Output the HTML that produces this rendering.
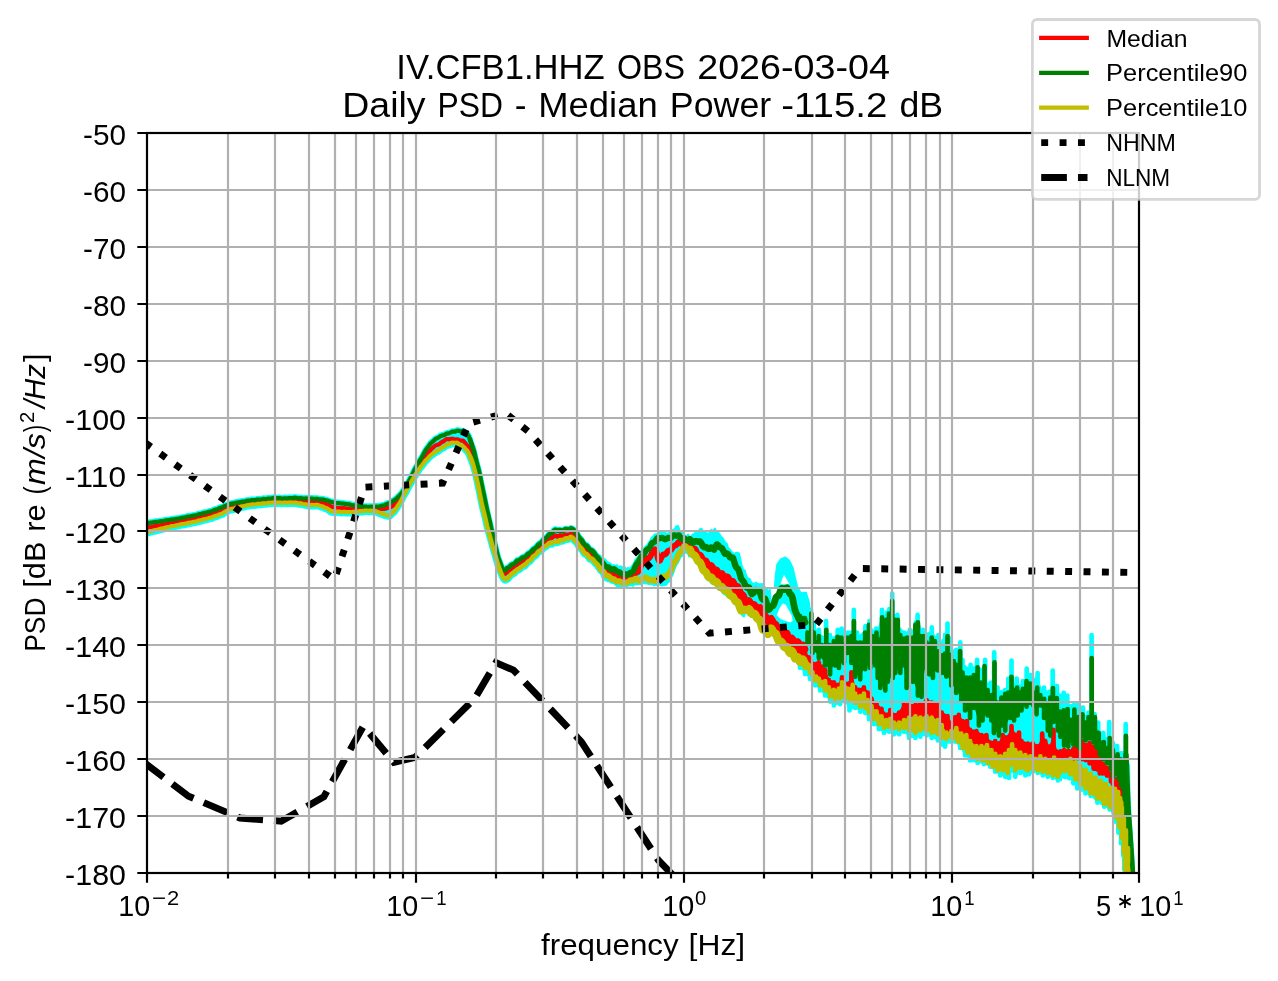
<!DOCTYPE html>
<html lang="en"><head><meta charset="utf-8"><title>IV.CFB1.HHZ OBS 2026-03-04 Daily PSD</title>
<style>html,body{margin:0;padding:0;background:#fff;width:1278px;height:981px;overflow:hidden;font-family:"Liberation Sans",sans-serif}</style>
</head><body>
<svg width="1278" height="981" viewBox="0 0 1278 981" style="position:absolute;left:0;top:0;display:block">
<defs><clipPath id="ax"><rect x="147" y="133" width="992" height="740"/></clipPath></defs>
<rect width="1278" height="981" fill="#fff"/>
<g clip-path="url(#ax)" fill="none" stroke-linejoin="round" stroke-linecap="round">
<path d="M147.0 522.8 L148.0 522.6 L149.0 522.4 L150.0 522.2 L151.0 522.2 L152.0 522.1 L153.0 521.9 L154.0 521.7 L155.0 521.4 L156.0 521.4 L157.0 521.3 L158.0 521.3 L159.0 521.0 L160.0 520.8 L161.0 520.7 L162.0 520.6 L163.0 520.5 L164.0 520.3 L165.0 520.1 L166.0 519.8 L167.0 519.8 L168.0 519.7 L169.0 519.6 L170.0 519.4 L171.0 519.1 L172.0 519.0 L173.0 518.9 L174.0 518.8 L175.0 518.6 L176.0 518.4 L177.0 518.3 L178.0 518.2 L179.0 518.1 L180.0 517.9 L181.0 517.6 L182.0 517.3 L183.0 517.2 L184.0 517.1 L185.0 516.9 L186.0 516.6 L187.0 516.3 L188.0 516.1 L189.0 516.0 L190.0 515.9 L191.0 515.7 L192.0 515.4 L193.0 515.2 L194.0 515.1 L195.0 514.9 L196.0 514.7 L197.0 514.4 L198.0 514.0 L199.0 513.8 L200.0 513.6 L201.0 513.4 L202.0 513.1 L203.0 512.7 L204.0 512.4 L205.0 512.3 L206.0 512.2 L207.0 511.9 L208.0 511.6 L209.0 511.2 L210.0 511.0 L211.0 510.8 L212.0 510.5 L213.0 510.1 L214.0 509.6 L215.0 509.3 L216.0 509.0 L217.0 508.8 L218.0 508.3 L219.0 507.8 L220.0 507.4 L221.0 507.1 L222.0 506.9 L223.0 506.5 L224.0 505.9 L225.0 505.4 L226.0 505.0 L227.0 504.6 L228.0 504.3 L229.0 503.8 L230.0 503.4 L231.0 503.2 L232.0 503.1 L233.0 502.9 L234.0 502.7 L235.0 502.4 L236.0 502.2 L237.0 502.0 L238.0 501.9 L239.0 501.8 L240.0 501.6 L241.0 501.3 L242.0 501.2 L243.0 501.1 L244.0 501.0 L245.0 500.8 L246.0 500.5 L247.0 500.2 L248.0 500.2 L249.0 500.1 L250.0 500.0 L251.0 499.8 L252.0 499.5 L253.0 499.5 L254.0 499.6 L255.0 499.6 L256.0 499.4 L257.0 499.1 L258.0 498.9 L259.0 499.0 L260.0 499.0 L261.0 498.9 L262.0 498.7 L263.0 498.4 L264.0 498.4 L265.0 498.5 L266.0 498.5 L267.0 498.3 L268.0 498.1 L269.0 498.0 L270.0 498.0 L271.0 498.0 L272.0 497.8 L273.0 497.6 L274.0 497.4 L275.0 497.6 L276.0 497.7 L277.0 497.8 L278.0 497.7 L279.0 497.6 L280.0 497.7 L281.0 497.9 L282.0 498.1 L283.0 498.0 L284.0 497.9 L285.0 497.8 L286.0 497.9 L287.0 497.9 L288.0 497.8 L289.0 497.6 L290.0 497.5 L291.0 497.5 L292.0 497.5 L293.0 497.5 L294.0 497.3 L295.0 497.2 L296.0 497.3 L297.0 497.5 L298.0 497.8 L299.0 497.8 L300.0 497.7 L301.0 497.7 L302.0 497.9 L303.0 498.1 L304.0 498.2 L305.0 498.0 L306.0 497.9 L307.0 498.0 L308.0 498.1 L309.0 498.3 L310.0 498.2 L311.0 498.1 L312.0 498.0 L313.0 498.2 L314.0 498.4 L315.0 498.4 L316.0 498.3 L317.0 498.3 L318.0 498.4 L319.0 498.7 L320.0 498.9 L321.0 498.9 L322.0 498.9 L323.0 499.0 L324.0 499.3 L325.0 499.6 L326.0 499.8 L327.0 500.0 L328.0 500.2 L329.0 500.7 L330.0 501.1 L331.0 501.4 L332.0 501.6 L333.0 501.8 L334.0 502.1 L335.0 502.4 L336.0 502.7 L337.0 502.6 L338.0 502.5 L339.0 502.5 L340.0 502.7 L341.0 503.0 L342.0 503.1 L343.0 503.1 L344.0 503.2 L345.0 503.4 L346.0 503.6 L347.0 503.7 L348.0 503.8 L349.0 503.8 L350.0 504.0 L351.0 504.4 L352.0 504.7 L353.0 504.8 L354.0 504.9 L355.0 505.0 L356.0 505.3 L357.0 505.5 L358.0 505.7 L359.0 505.6 L360.0 505.6 L361.0 505.8 L362.0 506.0 L363.0 506.2 L364.0 506.2 L365.0 506.2 L366.0 506.2 L367.0 506.3 L368.0 506.4 L369.0 506.4 L370.0 506.3 L371.0 506.2 L372.0 506.3 L373.0 506.4 L374.0 506.5 L375.0 506.3 L376.0 506.1 L377.0 506.0 L378.0 506.0 L379.0 506.0 L380.0 505.8 L381.0 505.4 L382.0 505.2 L383.0 505.1 L384.0 504.9 L385.0 504.5 L386.0 504.0 L387.0 503.4 L388.0 503.1 L389.0 502.9 L390.0 502.7 L391.0 502.0 L392.0 501.3 L393.0 500.5 L394.0 499.9 L395.0 499.3 L396.0 498.5 L397.0 497.5 L398.0 496.4 L399.0 495.4 L400.0 494.4 L401.0 493.3 L402.0 492.1 L403.0 490.6 L404.0 489.1 L405.0 487.5 L406.0 485.9 L407.0 484.2 L408.0 482.3 L409.0 480.3 L410.0 478.5 L411.0 476.7 L412.0 474.7 L413.0 472.5 L414.0 470.4 L415.0 468.5 L416.0 466.8 L417.0 465.2 L418.0 463.3 L419.0 461.4 L420.0 459.6 L421.0 458.0 L422.0 456.4 L423.0 454.6 L424.0 452.7 L425.0 450.8 L426.0 449.2 L427.0 447.8 L428.0 446.5 L429.0 445.1 L430.0 443.7 L431.0 442.6 L432.0 441.7 L433.0 440.9 L434.0 439.9 L435.0 439.0 L436.0 438.2 L437.0 437.8 L438.0 437.3 L439.0 436.7 L440.0 436.0 L441.0 435.4 L442.0 435.1 L443.0 434.9 L444.0 434.7 L445.0 434.1 L446.0 433.5 L447.0 433.1 L448.0 432.9 L449.0 432.8 L450.0 432.4 L451.0 431.9 L452.0 431.3 L453.0 431.2 L454.0 431.2 L455.0 431.2 L456.0 430.7 L457.0 430.3 L458.0 430.2 L459.0 430.4 L460.0 430.8 L461.0 430.8 L462.0 430.7 L463.0 430.7 L464.0 431.3 L465.0 432.1 L466.0 432.9 L467.0 433.7 L468.0 434.5 L469.0 436.3 L470.0 438.9 L471.0 442.1 L472.0 444.9 L473.0 447.7 L474.0 451.0 L475.0 455.0 L476.0 459.3 L477.0 463.3 L478.0 467.1 L479.0 471.0 L480.0 475.6 L481.0 480.6 L482.0 485.7 L483.0 490.4 L484.0 495.0 L485.0 499.9 L486.0 504.8 L487.0 509.5 L488.0 513.8 L489.0 518.0 L490.0 522.2 L491.0 526.9 L492.0 531.5 L493.0 535.8 L494.0 539.7 L495.0 543.7 L496.0 548.0 L497.0 552.4 L498.0 556.4 L499.0 559.4 L500.0 561.9 L501.0 564.5 L502.0 567.3 L503.0 569.3 L504.0 570.3 L505.0 569.7 L506.0 568.6 L507.0 567.7 L508.0 567.3 L509.0 566.8 L510.0 565.8 L511.0 564.7 L512.0 564.1 L513.0 563.8 L514.0 563.5 L515.0 562.6 L516.0 561.4 L517.0 560.3 L518.0 560.0 L519.0 559.7 L520.0 559.1 L521.0 558.3 L522.0 557.4 L523.0 556.9 L524.0 556.6 L525.0 556.3 L526.0 555.4 L527.0 554.4 L528.0 553.4 L529.0 552.9 L530.0 552.3 L531.0 551.4 L532.0 550.2 L533.0 549.1 L534.0 548.4 L535.0 547.8 L536.0 547.1 L537.0 545.8 L538.0 544.5 L539.0 543.6 L540.0 543.1 L541.0 542.5 L542.0 541.3 L543.0 540.0 L544.0 538.7 L545.0 538.1 L546.0 537.5 L547.0 536.7 L548.0 535.3 L549.0 534.1 L550.0 533.4 L551.0 533.0 L552.0 532.6 L553.0 531.4 L554.0 530.1 L555.0 529.3 L556.0 529.4 L557.0 529.8 L558.0 529.9 L559.0 529.8 L560.0 529.7 L561.0 530.1 L562.0 530.6 L563.0 530.6 L564.0 529.8 L565.0 529.0 L566.0 528.7 L567.0 529.0 L568.0 529.3 L569.0 529.0 L570.0 528.5 L571.0 528.1 L572.0 528.4 L573.0 529.1 L574.0 529.9 L575.0 530.8 L576.0 532.0 L577.0 533.5 L578.0 535.3 L579.0 537.0 L580.0 538.0 L581.0 539.0 L582.0 540.2 L583.0 541.9 L584.0 543.5 L585.0 544.4 L586.0 544.9 L587.0 545.4 L588.0 546.7 L589.0 548.1 L590.0 549.3 L591.0 549.7 L592.0 550.1 L593.0 550.9 L594.0 552.2 L595.0 553.9 L596.0 555.1 L597.0 556.3 L598.0 557.2 L599.0 558.7 L600.0 560.2 L601.0 561.3 L602.0 562.0 L603.0 562.7 L604.0 564.0 L605.0 565.4 L606.0 566.6 L607.0 566.6 L608.0 566.6 L609.0 567.0 L610.0 568.1 L611.0 569.0 L612.0 569.1 L613.0 568.8 L614.0 568.4 L615.0 569.1 L616.0 570.0 L617.0 571.0 L618.0 571.2 L619.0 571.4 L620.0 572.0 L621.0 573.0 L622.0 573.9 L623.0 573.9 L624.0 573.7 L625.0 573.4 L626.0 574.0 L627.0 574.3 L628.0 574.2 L629.0 573.4 L630.0 572.4 L631.0 571.9 L632.0 571.5 L633.0 570.9 L634.0 569.0 L635.0 566.7 L636.0 564.4 L637.0 562.9 L638.0 561.7 L639.0 560.1 L640.0 558.2 L641.0 556.4 L642.0 555.4 L643.0 554.5 L644.0 553.4 L645.0 551.7 L646.0 550.0 L647.0 549.0 L648.0 548.6 L649.0 548.1 L650.0 546.4 L651.0 544.3 L652.0 542.4 L653.0 542.0 L654.0 541.8 L655.0 541.0 L656.0 539.3 L657.0 537.7 L658.0 537.3 L659.0 537.5 L660.0 538.0 L661.0 537.4 L662.0 537.3 L663.0 537.6 L664.0 538.4 L665.0 539.0 L666.0 538.7 L667.0 538.0 L668.0 537.2 L669.0 537.4 L670.0 537.6 L671.0 537.5 L672.0 536.4 L673.0 535.2 L674.0 534.6 L675.0 534.9 L676.0 535.5 L677.0 535.2 L678.0 534.8 L679.0 534.7 L680.0 536.1 L681.0 537.8 L682.0 538.8 L683.0 538.5 L684.0 537.9 L685.0 538.2 L686.0 539.0 L687.0 540.0 L688.0 539.3 L689.0 538.7 L690.0 538.8 L691.0 540.3 L692.0 541.9 L693.0 542.3 L694.0 541.7 L695.0 540.7 L696.0 540.6 L697.0 540.8 L698.0 541.2 L699.0 540.9 L700.0 541.0 L701.0 542.0 L702.0 544.0 L703.0 546.0 L704.0 546.7 L705.0 546.7 L706.0 546.5 L707.0 547.4 L708.0 548.2 L709.0 548.4 L710.0 547.6 L711.0 546.9 L712.0 547.4 L713.0 548.5 L714.0 549.2 L715.0 547.4 L716.0 545.3 L717.0 543.8 L718.0 544.5 L719.0 545.8 L720.0 546.9 L721.0 547.3 L722.0 547.8 L723.0 549.7 L724.0 551.8 L725.0 553.4 L726.0 553.3 L727.0 552.9 L728.0 553.5 L729.0 555.1 L730.0 556.9 L731.0 557.1 L732.0 556.9 L733.0 557.4 L734.0 560.5 L735.0 564.0 L736.0 566.6 L737.0 567.6 L738.0 568.3 L739.0 570.7 L740.0 574.0 L741.0 577.9 L742.0 579.2 L743.0 580.6 L744.0 581.7 L745.0 584.3 L746.0 586.3 L747.0 587.3 L748.0 587.1 L749.0 586.9 L750.0 589.2 L751.0 591.5 L752.0 593.2 L753.0 592.5 L754.0 591.0 L755.0 590.0 L756.0 589.6 L757.0 590.4 L758.0 590.3 L759.0 590.8 L760.0 591.5 L761.0 594.7 L762.0 597.7 L763.0 599.0 L764.0 598.5 L765.0 598.4 L766.0 601.1 L767.0 605.2 L768.0 609.1 L769.0 608.9 L770.0 607.6 L771.0 605.9 L772.0 605.8 L773.0 605.3 L774.0 603.2 L775.0 600.0 L776.0 596.8 L777.0 596.0 L778.0 595.6 L779.0 594.5 L780.0 591.4 L781.0 588.7 L782.0 587.7 L783.0 588.2 L784.0 589.0 L785.0 588.4 L786.0 587.7 L787.0 587.3 L788.0 589.1 L789.0 591.5 L790.0 593.3 L791.0 594.1 L792.0 595.7 L793.0 599.8 L794.0 604.8 L795.0 609.6 L796.0 612.1 L797.0 614.3 L798.0 616.2 L799.0 618.6 L800.0 620.3 L801.0 620.5 L802.0 619.7 L803.0 618.8 L804.0 620.2 L805.0 621.8 L805.0 649.1 L804.0 647.1 L803.0 645.0 L802.0 645.2 L801.0 645.5 L800.0 645.0 L799.0 643.3 L798.0 641.7 L797.0 641.9 L796.0 642.7 L795.0 643.5 L794.0 641.5 L793.0 639.4 L792.0 638.2 L791.0 639.1 L790.0 639.8 L789.0 638.5 L788.0 635.8 L787.0 633.2 L786.0 633.5 L785.0 634.4 L784.0 634.8 L783.0 632.6 L782.0 630.4 L781.0 629.9 L780.0 630.8 L779.0 631.6 L778.0 629.8 L777.0 627.2 L776.0 624.6 L775.0 623.9 L774.0 623.1 L773.0 621.8 L772.0 619.7 L771.0 618.4 L770.0 619.1 L769.0 620.6 L768.0 621.8 L767.0 619.7 L766.0 617.1 L765.0 615.1 L764.0 615.0 L763.0 614.8 L762.0 612.9 L761.0 610.0 L760.0 607.4 L759.0 607.8 L758.0 608.7 L757.0 609.1 L756.0 607.2 L755.0 605.3 L754.0 604.5 L753.0 604.7 L752.0 604.8 L751.0 603.6 L750.0 601.9 L749.0 600.4 L748.0 601.1 L747.0 601.7 L746.0 601.4 L745.0 599.0 L744.0 596.3 L743.0 594.7 L742.0 594.1 L741.0 593.4 L740.0 590.8 L739.0 588.2 L738.0 586.4 L737.0 586.2 L736.0 586.1 L735.0 585.0 L734.0 583.1 L733.0 581.2 L732.0 581.1 L731.0 581.2 L730.0 580.9 L729.0 578.8 L728.0 577.0 L727.0 576.5 L726.0 577.2 L725.0 577.8 L724.0 576.6 L723.0 574.9 L722.0 573.3 L721.0 573.5 L720.0 573.7 L719.0 573.2 L718.0 571.7 L717.0 570.1 L716.0 569.6 L715.0 569.6 L714.0 569.7 L713.0 567.9 L712.0 566.2 L711.0 565.1 L710.0 565.2 L709.0 565.4 L708.0 564.4 L707.0 562.7 L706.0 560.9 L705.0 560.6 L704.0 560.4 L703.0 559.7 L702.0 557.7 L701.0 555.9 L700.0 555.0 L699.0 554.9 L698.0 554.7 L697.0 553.0 L696.0 550.8 L695.0 548.9 L694.0 548.9 L693.0 549.2 L692.0 549.0 L691.0 547.8 L690.0 546.4 L689.0 545.9 L688.0 549.0 L687.0 548.9 L686.0 547.4 L685.0 546.7 L684.0 546.9 L683.0 548.8 L682.0 551.0 L681.0 552.5 L680.0 553.3 L679.0 554.1 L678.0 556.5 L677.0 558.9 L676.0 561.1 L675.0 562.2 L674.0 563.4 L673.0 565.4 L672.0 568.2 L671.0 571.1 L670.0 573.1 L669.0 574.3 L668.0 575.1 L667.0 576.5 L666.0 577.9 L665.0 578.4 L664.0 577.9 L663.0 577.3 L662.0 577.8 L661.0 578.8 L660.0 579.8 L659.0 579.7 L658.0 579.6 L657.0 579.9 L656.0 581.0 L655.0 581.8 L654.0 581.8 L653.0 581.0 L652.0 580.3 L651.0 580.8 L650.0 581.2 L649.0 581.1 L648.0 579.9 L647.0 578.8 L646.0 578.1 L645.0 578.4 L644.0 579.1 L643.0 579.5 L642.0 579.7 L641.0 580.0 L640.0 580.9 L639.0 581.5 L638.0 581.2 L637.0 580.3 L636.0 579.4 L635.0 579.6 L634.0 580.4 L633.0 581.4 L632.0 581.2 L631.0 581.0 L630.0 581.2 L629.0 582.0 L628.0 582.8 L627.0 583.3 L626.0 583.4 L625.0 583.3 L624.0 583.5 L623.0 583.6 L622.0 583.5 L621.0 582.8 L620.0 582.1 L619.0 581.9 L618.0 582.1 L617.0 582.4 L616.0 581.8 L615.0 580.9 L614.0 579.9 L613.0 580.0 L612.0 579.9 L611.0 579.5 L610.0 578.3 L609.0 577.1 L608.0 576.6 L607.0 576.5 L606.0 576.3 L605.0 575.0 L604.0 573.5 L603.0 572.1 L602.0 571.3 L601.0 570.5 L600.0 569.3 L599.0 567.6 L598.0 566.0 L597.0 565.0 L596.0 564.1 L595.0 563.2 L594.0 561.8 L593.0 560.5 L592.0 559.7 L591.0 559.4 L590.0 559.2 L589.0 558.0 L588.0 556.6 L587.0 555.3 L586.0 554.8 L585.0 554.3 L584.0 553.4 L583.0 551.8 L582.0 550.1 L581.0 548.8 L580.0 547.9 L579.0 546.9 L578.0 545.2 L577.0 543.6 L576.0 542.2 L575.0 541.3 L574.0 540.3 L573.0 539.2 L572.0 538.3 L571.0 537.9 L570.0 538.4 L569.0 539.0 L568.0 539.4 L567.0 539.4 L566.0 539.4 L565.0 539.7 L564.0 540.4 L563.0 541.0 L562.0 541.1 L561.0 541.1 L560.0 541.1 L559.0 541.7 L558.0 542.4 L557.0 542.7 L556.0 542.5 L555.0 542.3 L554.0 542.7 L553.0 543.4 L552.0 544.1 L551.0 543.9 L550.0 543.7 L549.0 544.0 L548.0 544.9 L547.0 545.9 L546.0 546.7 L545.0 547.2 L544.0 547.7 L543.0 548.8 L542.0 549.9 L541.0 550.9 L540.0 551.4 L539.0 551.8 L538.0 552.7 L537.0 554.1 L536.0 555.4 L535.0 556.2 L534.0 556.8 L533.0 557.5 L532.0 558.9 L531.0 560.2 L530.0 561.3 L529.0 561.9 L528.0 562.4 L527.0 563.5 L526.0 564.8 L525.0 565.9 L524.0 566.3 L523.0 566.6 L522.0 567.2 L521.0 568.1 L520.0 569.1 L519.0 569.7 L518.0 570.0 L517.0 570.4 L516.0 571.4 L515.0 572.6 L514.0 573.5 L513.0 573.9 L512.0 574.4 L511.0 575.2 L510.0 576.4 L509.0 577.7 L508.0 578.6 L507.0 579.5 L506.0 579.9 L505.0 580.1 L504.0 579.4 L503.0 578.1 L502.0 576.1 L501.0 573.7 L500.0 570.9 L499.0 568.2 L498.0 565.4 L497.0 562.1 L496.0 558.6 L495.0 555.2 L494.0 551.9 L493.0 548.7 L492.0 545.1 L491.0 541.4 L490.0 537.6 L489.0 534.2 L488.0 530.6 L487.0 526.8 L486.0 522.3 L485.0 517.9 L484.0 513.8 L483.0 509.9 L482.0 505.9 L481.0 501.1 L480.0 495.9 L479.0 490.7 L478.0 486.1 L477.0 481.5 L476.0 477.0 L475.0 472.6 L474.0 468.6 L473.0 465.1 L472.0 462.1 L471.0 459.6 L470.0 457.2 L469.0 454.7 L468.0 452.7 L467.0 451.4 L466.0 450.4 L465.0 449.2 L464.0 448.0 L463.0 447.0 L462.0 446.6 L461.0 446.2 L460.0 445.7 L459.0 444.8 L458.0 443.9 L457.0 443.5 L456.0 443.6 L455.0 443.8 L454.0 443.6 L453.0 443.4 L452.0 443.4 L451.0 443.9 L450.0 444.6 L449.0 445.0 L448.0 445.2 L447.0 445.3 L446.0 445.9 L445.0 446.7 L444.0 447.6 L443.0 448.0 L442.0 448.4 L441.0 449.0 L440.0 449.8 L439.0 450.7 L438.0 451.3 L437.0 451.7 L436.0 452.2 L435.0 452.9 L434.0 453.7 L433.0 454.5 L432.0 455.1 L431.0 455.8 L430.0 456.7 L429.0 457.8 L428.0 459.0 L427.0 460.0 L426.0 460.9 L425.0 462.0 L424.0 463.4 L423.0 464.8 L422.0 466.1 L421.0 467.2 L420.0 468.4 L419.0 469.9 L418.0 471.5 L417.0 473.1 L416.0 474.5 L415.0 476.0 L414.0 477.7 L413.0 479.5 L412.0 481.4 L411.0 483.2 L410.0 484.8 L409.0 486.5 L408.0 488.4 L407.0 490.3 L406.0 492.3 L405.0 493.9 L404.0 495.6 L403.0 497.5 L402.0 499.5 L401.0 501.5 L400.0 503.2 L399.0 504.8 L398.0 506.2 L397.0 507.9 L396.0 509.6 L395.0 511.0 L394.0 512.1 L393.0 512.9 L392.0 513.8 L391.0 514.8 L390.0 515.8 L389.0 516.2 L388.0 516.2 L387.0 515.9 L386.0 515.7 L385.0 515.6 L384.0 515.2 L383.0 514.8 L382.0 514.3 L381.0 514.0 L380.0 513.7 L379.0 513.4 L378.0 512.9 L377.0 512.4 L376.0 512.0 L375.0 511.9 L374.0 512.0 L373.0 511.8 L372.0 511.6 L371.0 511.4 L370.0 511.5 L369.0 511.6 L368.0 511.6 L367.0 511.4 L366.0 511.3 L365.0 511.4 L364.0 511.6 L363.0 511.9 L362.0 511.9 L361.0 511.9 L360.0 511.9 L359.0 512.2 L358.0 512.4 L357.0 512.5 L356.0 512.4 L355.0 512.3 L354.0 512.5 L353.0 512.7 L352.0 512.9 L351.0 512.8 L350.0 512.8 L349.0 512.8 L348.0 512.9 L347.0 513.0 L346.0 512.9 L345.0 512.7 L344.0 512.6 L343.0 512.7 L342.0 512.8 L341.0 512.8 L340.0 512.6 L339.0 512.4 L338.0 512.4 L337.0 512.4 L336.0 512.5 L335.0 512.4 L334.0 512.3 L333.0 512.3 L332.0 512.2 L331.0 511.9 L330.0 511.3 L329.0 510.5 L328.0 509.8 L327.0 509.3 L326.0 508.8 L325.0 508.4 L324.0 507.9 L323.0 507.4 L322.0 507.1 L321.0 506.9 L320.0 506.6 L319.0 506.2 L318.0 505.8 L317.0 505.6 L316.0 505.6 L315.0 505.8 L314.0 505.8 L313.0 505.8 L312.0 505.7 L311.0 505.8 L310.0 506.0 L309.0 506.1 L308.0 505.8 L307.0 505.4 L306.0 505.2 L305.0 505.1 L304.0 505.0 L303.0 504.8 L302.0 504.5 L301.0 504.2 L300.0 504.2 L299.0 504.1 L298.0 504.1 L297.0 503.8 L296.0 503.5 L295.0 503.4 L294.0 503.4 L293.0 503.5 L292.0 503.4 L291.0 503.3 L290.0 503.2 L289.0 503.4 L288.0 503.6 L287.0 503.6 L286.0 503.5 L285.0 503.4 L284.0 503.5 L283.0 503.6 L282.0 503.7 L281.0 503.5 L280.0 503.4 L279.0 503.3 L278.0 503.4 L277.0 503.5 L276.0 503.5 L275.0 503.3 L274.0 503.2 L273.0 503.4 L272.0 503.5 L271.0 503.7 L270.0 503.6 L269.0 503.6 L268.0 503.7 L267.0 504.0 L266.0 504.2 L265.0 504.2 L264.0 504.2 L263.0 504.2 L262.0 504.4 L261.0 504.6 L260.0 504.7 L259.0 504.7 L258.0 504.7 L257.0 504.9 L256.0 505.1 L255.0 505.4 L254.0 505.3 L253.0 505.2 L252.0 505.2 L251.0 505.5 L250.0 505.7 L249.0 505.9 L248.0 506.0 L247.0 506.1 L246.0 506.4 L245.0 506.7 L244.0 507.0 L243.0 507.1 L242.0 507.2 L241.0 507.4 L240.0 507.7 L239.0 508.0 L238.0 508.2 L237.0 508.3 L236.0 508.4 L235.0 508.9 L234.0 509.3 L233.0 509.6 L232.0 509.7 L231.0 509.8 L230.0 510.1 L229.0 510.5 L228.0 511.0 L227.0 511.5 L226.0 511.9 L225.0 512.5 L224.0 513.2 L223.0 513.9 L222.0 514.4 L221.0 514.8 L220.0 515.0 L219.0 515.5 L218.0 516.0 L217.0 516.4 L216.0 516.6 L215.0 516.8 L214.0 517.2 L213.0 517.7 L212.0 518.2 L211.0 518.4 L210.0 518.6 L209.0 518.8 L208.0 519.2 L207.0 519.5 L206.0 519.8 L205.0 520.0 L204.0 520.1 L203.0 520.4 L202.0 520.7 L201.0 521.1 L200.0 521.2 L199.0 521.4 L198.0 521.5 L197.0 521.9 L196.0 522.3 L195.0 522.5 L194.0 522.6 L193.0 522.7 L192.0 523.0 L191.0 523.3 L190.0 523.5 L189.0 523.6 L188.0 523.7 L187.0 524.0 L186.0 524.3 L185.0 524.6 L184.0 524.7 L183.0 524.8 L182.0 524.8 L181.0 525.1 L180.0 525.4 L179.0 525.7 L178.0 525.8 L177.0 526.0 L176.0 526.2 L175.0 526.5 L174.0 526.8 L173.0 526.9 L172.0 527.0 L171.0 527.1 L170.0 527.5 L169.0 527.8 L168.0 528.0 L167.0 528.1 L166.0 528.2 L165.0 528.5 L164.0 528.8 L163.0 529.1 L162.0 529.3 L161.0 529.4 L160.0 529.7 L159.0 530.1 L158.0 530.4 L157.0 530.6 L156.0 530.8 L155.0 530.9 L154.0 531.3 L153.0 531.6 L152.0 531.9 L151.0 532.0 L150.0 532.1 L149.0 532.4 L148.0 532.8 L147.0 533.0 Z" fill="#00ffff" stroke="none"/>
<path d="M147.0 522.5 L148.0 522.3 L149.0 522.1 L150.0 521.9 L151.0 521.9 L152.0 521.8 L153.0 521.6 L154.0 521.4 L155.0 521.1 L156.0 521.1 L157.0 521.0 L158.0 521.0 L159.0 520.7 L160.0 520.5 L161.0 520.4 L162.0 520.3 L163.0 520.2 L164.0 520.0 L165.0 519.8 L166.0 519.5 L167.0 519.5 L168.0 519.4 L169.0 519.3 L170.0 519.1 L171.0 518.8 L172.0 518.7 L173.0 518.6 L174.0 518.5 L175.0 518.3 L176.0 518.1 L177.0 518.0 L178.0 517.9 L179.0 517.8 L180.0 517.6 L181.0 517.3 L182.0 517.0 L183.0 516.9 L184.0 516.8 L185.0 516.6 L186.0 516.3 L187.0 516.0 L188.0 515.8 L189.0 515.7 L190.0 515.6 L191.0 515.4 L192.0 515.1 L193.0 514.9 L194.0 514.8 L195.0 514.6 L196.0 514.4 L197.0 514.1 L198.0 513.7 L199.0 513.5 L200.0 513.3 L201.0 513.1 L202.0 512.8 L203.0 512.4 L204.0 512.1 L205.0 512.0 L206.0 511.9 L207.0 511.6 L208.0 511.3 L209.0 510.9 L210.0 510.7 L211.0 510.5 L212.0 510.2 L213.0 509.8 L214.0 509.3 L215.0 509.0 L216.0 508.7 L217.0 508.5 L218.0 508.0 L219.0 507.5 L220.0 507.1 L221.0 506.8 L222.0 506.6 L223.0 506.2 L224.0 505.6 L225.0 505.1 L226.0 504.7 L227.0 504.3 L228.0 504.0 L229.0 503.5 L230.0 503.1 L231.0 502.9 L232.0 502.8 L233.0 502.6 L234.0 502.4 L235.0 502.1 L236.0 501.9 L237.0 501.7 L238.0 501.6 L239.0 501.5 L240.0 501.3 L241.0 501.0 L242.0 500.9 L243.0 500.8 L244.0 500.7 L245.0 500.5 L246.0 500.2 L247.0 499.9 L248.0 499.9 L249.0 499.8 L250.0 499.7 L251.0 499.5 L252.0 499.2 L253.0 499.2 L254.0 499.3 L255.0 499.3 L256.0 499.1 L257.0 498.8 L258.0 498.6 L259.0 498.7 L260.0 498.7 L261.0 498.6 L262.0 498.4 L263.0 498.1 L264.0 498.1 L265.0 498.2 L266.0 498.2 L267.0 498.0 L268.0 497.8 L269.0 497.7 L270.0 497.7 L271.0 497.7 L272.0 497.5 L273.0 497.3 L274.0 497.1 L275.0 497.3 L276.0 497.4 L277.0 497.5 L278.0 497.4 L279.0 497.3 L280.0 497.4 L281.0 497.6 L282.0 497.8 L283.0 497.7 L284.0 497.6 L285.0 497.5 L286.0 497.6 L287.0 497.6 L288.0 497.5 L289.0 497.3 L290.0 497.2 L291.0 497.2 L292.0 497.2 L293.0 497.2 L294.0 497.0 L295.0 496.9 L296.0 497.0 L297.0 497.2 L298.0 497.5 L299.0 497.5 L300.0 497.4 L301.0 497.4 L302.0 497.6 L303.0 497.8 L304.0 497.9 L305.0 497.7 L306.0 497.6 L307.0 497.7 L308.0 497.8 L309.0 498.0 L310.0 497.9 L311.0 497.8 L312.0 497.7 L313.0 497.9 L314.0 498.1 L315.0 498.1 L316.0 498.0 L317.0 498.0 L318.0 498.1 L319.0 498.4 L320.0 498.6 L321.0 498.6 L322.0 498.6 L323.0 498.7 L324.0 499.0 L325.0 499.3 L326.0 499.5 L327.0 499.7 L328.0 499.9 L329.0 500.4 L330.0 500.8 L331.0 501.1 L332.0 501.3 L333.0 501.5 L334.0 501.8 L335.0 502.1 L336.0 502.4 L337.0 502.3 L338.0 502.2 L339.0 502.2 L340.0 502.4 L341.0 502.7 L342.0 502.8 L343.0 502.8 L344.0 502.9 L345.0 503.1 L346.0 503.3 L347.0 503.4 L348.0 503.5 L349.0 503.5 L350.0 503.7 L351.0 504.1 L352.0 504.4 L353.0 504.5 L354.0 504.6 L355.0 504.7 L356.0 505.0 L357.0 505.2 L358.0 505.4 L359.0 505.3 L360.0 505.3 L361.0 505.5 L362.0 505.7 L363.0 505.9 L364.0 505.9 L365.0 505.9 L366.0 505.9 L367.0 506.0 L368.0 506.1 L369.0 506.1 L370.0 506.0 L371.0 505.9 L372.0 506.0 L373.0 506.1 L374.0 506.2 L375.0 506.0 L376.0 505.8 L377.0 505.7 L378.0 505.7 L379.0 505.7 L380.0 505.5 L381.0 505.1 L382.0 504.9 L383.0 504.8 L384.0 504.6 L385.0 504.2 L386.0 503.7 L387.0 503.1 L388.0 502.8 L389.0 502.6 L390.0 502.4 L391.0 501.7 L392.0 501.0 L393.0 500.2 L394.0 499.6 L395.0 499.0 L396.0 498.2 L397.0 497.2 L398.0 496.1 L399.0 495.1 L400.0 494.1 L401.0 493.0 L402.0 491.8 L403.0 490.3 L404.0 488.8 L405.0 487.2 L406.0 485.6 L407.0 483.9 L408.0 482.0 L409.0 480.0 L410.0 478.2 L411.0 476.4 L412.0 474.4 L413.0 472.2 L414.0 470.1 L415.0 468.2 L416.0 466.5 L417.0 464.9 L418.0 463.0 L419.0 461.1 L420.0 459.3 L421.0 457.7 L422.0 456.1 L423.0 454.3 L424.0 452.4 L425.0 450.5 L426.0 448.9 L427.0 447.5 L428.0 446.2 L429.0 444.8 L430.0 443.4 L431.0 442.3 L432.0 441.4 L433.0 440.6 L434.0 439.6 L435.0 438.7 L436.0 437.9 L437.0 437.5 L438.0 437.0 L439.0 436.4 L440.0 435.7 L441.0 435.1 L442.0 434.8 L443.0 434.6 L444.0 434.4 L445.0 433.8 L446.0 433.2 L447.0 432.8 L448.0 432.6 L449.0 432.5 L450.0 432.1 L451.0 431.6 L452.0 431.0 L453.0 430.9 L454.0 430.9 L455.0 430.9 L456.0 430.4 L457.0 430.0 L458.0 429.9 L459.0 430.1 L460.0 430.5 L461.0 430.5 L462.0 430.4 L463.0 430.4 L464.0 431.0 L465.0 431.8 L466.0 432.6 L467.0 433.4 L468.0 434.2 L469.0 436.0 L470.0 438.6 L471.0 441.8 L472.0 444.6 L473.0 447.4 L474.0 450.7 L475.0 454.7 L476.0 459.0 L477.0 463.0 L478.0 466.8 L479.0 470.7 L480.0 475.3 L481.0 480.3 L482.0 485.4 L483.0 490.1 L484.0 494.7 L485.0 499.6 L486.0 504.5 L487.0 509.2 L488.0 513.5 L489.0 517.7 L490.0 521.9 L491.0 526.6 L492.0 531.2 L493.0 535.5 L494.0 539.4 L495.0 543.4 L496.0 547.7 L497.0 552.1 L498.0 556.1 L499.0 559.1 L500.0 561.6 L501.0 564.2 L502.0 567.0 L503.0 569.0 L504.0 570.0 L505.0 569.4 L506.0 568.3 L507.0 567.4 L508.0 567.0 L509.0 566.5 L510.0 565.5 L511.0 564.4 L512.0 563.8 L513.0 563.5 L514.0 563.2 L515.0 562.3 L516.0 561.1 L517.0 560.0 L518.0 559.7 L519.0 559.4 L520.0 558.8 L521.0 558.0 L522.0 557.1 L523.0 556.6 L524.0 556.3 L525.0 556.0 L526.0 555.1 L527.0 554.1 L528.0 553.1 L529.0 552.6 L530.0 552.0 L531.0 551.1 L532.0 549.9 L533.0 548.8 L534.0 548.1 L535.0 547.5 L536.0 546.8 L537.0 545.5 L538.0 544.2 L539.0 543.3 L540.0 542.8 L541.0 542.2 L542.0 541.0 L543.0 539.7 L544.0 538.4 L545.0 537.8 L546.0 537.2 L547.0 536.4 L548.0 535.0 L549.0 533.8 L550.0 533.1 L551.0 532.7 L552.0 532.3 L553.0 531.1 L554.0 529.8 L555.0 529.0 L556.0 529.1 L557.0 529.5 L558.0 529.6 L559.0 529.5 L560.0 529.4 L561.0 529.8 L562.0 530.3 L563.0 530.3 L564.0 529.5 L565.0 528.7 L566.0 528.4 L567.0 528.7 L568.0 529.0 L569.0 528.7 L570.0 528.2 L571.0 527.8 L572.0 528.1 L573.0 528.8 L574.0 529.6 L575.0 530.5 L576.0 531.7 L577.0 533.2 L578.0 535.0 L579.0 536.7 L580.0 537.7 L581.0 538.7 L582.0 539.9 L583.0 541.6 L584.0 543.2 L585.0 544.1 L586.0 544.6 L587.0 545.1 L588.0 546.4 L589.0 547.8 L590.0 549.0 L591.0 549.4 L592.0 549.8 L593.0 550.6 L594.0 551.9 L595.0 553.6 L596.0 554.8 L597.0 556.0 L598.0 556.9 L599.0 558.4 L600.0 559.9 L601.0 561.0 L602.0 561.7 L603.0 562.4 L604.0 563.7 L605.0 565.1 L606.0 566.3 L607.0 566.3 L608.0 566.3 L609.0 566.7 L610.0 567.8 L611.0 568.7 L612.0 568.8 L613.0 568.5 L614.0 568.1 L615.0 568.8 L616.0 569.7 L617.0 570.7 L618.0 570.9 L619.0 571.1 L620.0 571.7 L621.0 572.7 L622.0 573.6 L623.0 573.6 L624.0 573.4 L625.0 573.1 L626.0 573.7 L627.0 574.0 L628.0 573.9 L629.0 573.1 L630.0 572.1 L631.0 571.6 L632.0 571.2 L633.0 570.6 L634.0 568.7 L635.0 566.4 L636.0 564.1 L637.0 562.6 L638.0 561.4 L639.0 559.8 L640.0 557.9 L641.0 556.1 L642.0 555.1 L643.0 554.2 L644.0 553.1 L645.0 551.4 L646.0 549.7 L647.0 548.7 L648.0 548.3 L649.0 547.8 L650.0 546.1 L651.0 544.0 L652.0 542.1 L653.0 541.7 L654.0 541.5 L655.0 540.7 L656.0 539.0 L657.0 537.4 L658.0 537.0 L659.0 537.2 L660.0 537.7 L661.0 537.1 L662.0 537.0 L663.0 537.3 L664.0 538.1 L665.0 538.7 L666.0 538.4 L667.0 537.7 L668.0 536.9 L669.0 537.1 L670.0 537.3 L671.0 537.2 L672.0 536.1 L673.0 534.9 L674.0 534.3 L675.0 534.6 L676.0 535.2 L677.0 534.9 L678.0 534.5 L679.0 534.4 L680.0 535.8 L681.0 537.5 L682.0 538.5 L683.0 538.2 L684.0 537.6 L685.0 537.9 L686.0 538.7 L687.0 539.7 L688.0 539.0 L689.0 538.4 L690.0 538.5 L691.0 540.0 L692.0 541.6 L693.0 542.0 L694.0 541.4 L695.0 540.4 L696.0 540.3 L697.0 540.5 L698.0 540.9 L699.0 540.6 L700.0 540.7 L701.0 541.7 L702.0 543.7 L703.0 545.7 L704.0 546.4 L705.0 546.4 L706.0 546.2 L707.0 547.1 L708.0 547.9 L709.0 548.1 L710.0 547.3 L711.0 546.6 L712.0 547.1 L713.0 548.2 L714.0 548.9 L715.0 547.1 L716.0 545.0 L717.0 543.5 L718.0 544.2 L719.0 545.5 L720.0 546.6 L721.0 547.0 L722.0 547.5 L723.0 549.4 L724.0 551.5 L725.0 553.1 L726.0 553.0 L727.0 552.6 L728.0 553.2 L729.0 554.8 L730.0 556.6 L731.0 556.8 L732.0 556.6 L733.0 557.1 L734.0 560.2 L735.0 563.7 L736.0 566.3 L737.0 567.3 L738.0 568.0 L739.0 570.4 L740.0 573.7 L741.0 577.6 L742.0 578.9 L743.0 580.3 L744.0 581.4 L745.0 584.0 L746.0 586.0 L747.0 587.0 L748.0 586.8 L749.0 586.6 L750.0 588.9 L751.0 591.2 L752.0 592.9 L753.0 592.2 L754.0 590.7 L755.0 589.7 L756.0 589.3 L757.0 590.1 L758.0 590.0 L759.0 590.5 L760.0 591.2 L761.0 594.4 L762.0 597.4 L763.0 598.7 L764.0 598.2 L765.0 598.1 L766.0 600.8 L767.0 604.9 L768.0 608.8 L769.0 608.6 L770.0 607.3 L771.0 605.6 L772.0 605.5 L773.0 605.0 L774.0 602.9 L775.0 599.7 L776.0 596.5 L777.0 595.7 L778.0 595.3 L779.0 594.2 L780.0 591.1 L781.0 588.4 L782.0 587.4 L783.0 587.9 L784.0 588.7 L785.0 588.1 L786.0 587.4 L787.0 587.0 L788.0 588.8 L789.0 591.2 L790.0 593.0 L791.0 593.8 L792.0 595.4 L793.0 599.5 L794.0 604.5 L795.0 609.3 L796.0 611.8 L797.0 614.0 L798.0 615.9 L799.0 618.3 L800.0 620.0 L801.0 620.2 L802.0 619.4 L803.0 618.5 L804.0 619.9 L805.0 621.5" stroke="#00ffff" stroke-width="5.5"/>
<path d="M147.0 533.4 L148.0 533.2 L149.0 532.8 L150.0 532.5 L151.0 532.4 L152.0 532.3 L153.0 532.0 L154.0 531.7 L155.0 531.3 L156.0 531.2 L157.0 531.0 L158.0 530.8 L159.0 530.5 L160.0 530.1 L161.0 529.8 L162.0 529.7 L163.0 529.5 L164.0 529.2 L165.0 528.9 L166.0 528.6 L167.0 528.5 L168.0 528.4 L169.0 528.2 L170.0 527.9 L171.0 527.5 L172.0 527.4 L173.0 527.3 L174.0 527.2 L175.0 526.9 L176.0 526.6 L177.0 526.4 L178.0 526.2 L179.0 526.1 L180.0 525.8 L181.0 525.5 L182.0 525.2 L183.0 525.2 L184.0 525.1 L185.0 525.0 L186.0 524.7 L187.0 524.4 L188.0 524.1 L189.0 524.0 L190.0 523.9 L191.0 523.7 L192.0 523.4 L193.0 523.1 L194.0 523.0 L195.0 522.9 L196.0 522.7 L197.0 522.3 L198.0 521.9 L199.0 521.8 L200.0 521.6 L201.0 521.5 L202.0 521.1 L203.0 520.8 L204.0 520.5 L205.0 520.4 L206.0 520.2 L207.0 519.9 L208.0 519.6 L209.0 519.2 L210.0 519.0 L211.0 518.8 L212.0 518.6 L213.0 518.1 L214.0 517.6 L215.0 517.2 L216.0 517.0 L217.0 516.8 L218.0 516.4 L219.0 515.9 L220.0 515.4 L221.0 515.2 L222.0 514.8 L223.0 514.3 L224.0 513.6 L225.0 512.9 L226.0 512.3 L227.0 511.9 L228.0 511.4 L229.0 510.9 L230.0 510.5 L231.0 510.2 L232.0 510.1 L233.0 510.0 L234.0 509.7 L235.0 509.3 L236.0 508.8 L237.0 508.7 L238.0 508.6 L239.0 508.4 L240.0 508.1 L241.0 507.8 L242.0 507.6 L243.0 507.5 L244.0 507.4 L245.0 507.1 L246.0 506.8 L247.0 506.5 L248.0 506.4 L249.0 506.3 L250.0 506.1 L251.0 505.9 L252.0 505.6 L253.0 505.6 L254.0 505.7 L255.0 505.8 L256.0 505.5 L257.0 505.3 L258.0 505.1 L259.0 505.1 L260.0 505.1 L261.0 505.0 L262.0 504.8 L263.0 504.6 L264.0 504.6 L265.0 504.6 L266.0 504.6 L267.0 504.4 L268.0 504.1 L269.0 504.0 L270.0 504.0 L271.0 504.1 L272.0 503.9 L273.0 503.8 L274.0 503.6 L275.0 503.7 L276.0 503.9 L277.0 503.9 L278.0 503.8 L279.0 503.7 L280.0 503.8 L281.0 503.9 L282.0 504.1 L283.0 504.0 L284.0 503.9 L285.0 503.8 L286.0 503.9 L287.0 504.0 L288.0 504.0 L289.0 503.8 L290.0 503.6 L291.0 503.7 L292.0 503.8 L293.0 503.9 L294.0 503.8 L295.0 503.8 L296.0 503.9 L297.0 504.2 L298.0 504.5 L299.0 504.5 L300.0 504.6 L301.0 504.6 L302.0 504.9 L303.0 505.2 L304.0 505.4 L305.0 505.5 L306.0 505.6 L307.0 505.8 L308.0 506.2 L309.0 506.5 L310.0 506.4 L311.0 506.2 L312.0 506.1 L313.0 506.2 L314.0 506.2 L315.0 506.2 L316.0 506.0 L317.0 506.0 L318.0 506.2 L319.0 506.6 L320.0 507.0 L321.0 507.3 L322.0 507.5 L323.0 507.8 L324.0 508.3 L325.0 508.8 L326.0 509.2 L327.0 509.7 L328.0 510.2 L329.0 510.9 L330.0 511.7 L331.0 512.3 L332.0 512.6 L333.0 512.7 L334.0 512.7 L335.0 512.8 L336.0 512.9 L337.0 512.8 L338.0 512.8 L339.0 512.8 L340.0 513.0 L341.0 513.2 L342.0 513.2 L343.0 513.1 L344.0 513.0 L345.0 513.1 L346.0 513.3 L347.0 513.4 L348.0 513.3 L349.0 513.2 L350.0 513.2 L351.0 513.2 L352.0 513.3 L353.0 513.1 L354.0 512.9 L355.0 512.7 L356.0 512.8 L357.0 512.9 L358.0 512.8 L359.0 512.6 L360.0 512.3 L361.0 512.3 L362.0 512.3 L363.0 512.3 L364.0 512.0 L365.0 511.8 L366.0 511.7 L367.0 511.8 L368.0 512.0 L369.0 512.0 L370.0 511.9 L371.0 511.8 L372.0 512.0 L373.0 512.2 L374.0 512.4 L375.0 512.3 L376.0 512.4 L377.0 512.8 L378.0 513.3 L379.0 513.8 L380.0 514.1 L381.0 514.4 L382.0 514.7 L383.0 515.2 L384.0 515.6 L385.0 516.0 L386.0 516.1 L387.0 516.3 L388.0 516.6 L389.0 516.6 L390.0 516.2 L391.0 515.2 L392.0 514.2 L393.0 513.3 L394.0 512.5 L395.0 511.4 L396.0 510.0 L397.0 508.3 L398.0 506.6 L399.0 505.2 L400.0 503.6 L401.0 501.9 L402.0 499.9 L403.0 497.9 L404.0 496.0 L405.0 494.3 L406.0 492.7 L407.0 490.7 L408.0 488.8 L409.0 486.9 L410.0 485.2 L411.0 483.6 L412.0 481.8 L413.0 479.9 L414.0 478.1 L415.0 476.4 L416.0 474.9 L417.0 473.5 L418.0 471.9 L419.0 470.3 L420.0 468.8 L421.0 467.6 L422.0 466.5 L423.0 465.2 L424.0 463.8 L425.0 462.4 L426.0 461.3 L427.0 460.4 L428.0 459.4 L429.0 458.2 L430.0 457.1 L431.0 456.2 L432.0 455.5 L433.0 454.9 L434.0 454.1 L435.0 453.3 L436.0 452.6 L437.0 452.1 L438.0 451.7 L439.0 451.1 L440.0 450.2 L441.0 449.4 L442.0 448.8 L443.0 448.4 L444.0 448.0 L445.0 447.1 L446.0 446.3 L447.0 445.7 L448.0 445.6 L449.0 445.4 L450.0 445.0 L451.0 444.3 L452.0 443.8 L453.0 443.8 L454.0 444.0 L455.0 444.2 L456.0 444.0 L457.0 443.9 L458.0 444.3 L459.0 445.2 L460.0 446.1 L461.0 446.6 L462.0 447.0 L463.0 447.4 L464.0 448.4 L465.0 449.6 L466.0 450.8 L467.0 451.8 L468.0 453.1 L469.0 455.1 L470.0 457.6 L471.0 460.0 L472.0 462.5 L473.0 465.5 L474.0 469.0 L475.0 473.0 L476.0 477.4 L477.0 481.9 L478.0 486.5 L479.0 491.1 L480.0 496.3 L481.0 501.5 L482.0 506.3 L483.0 510.3 L484.0 514.2 L485.0 518.3 L486.0 522.7 L487.0 527.2 L488.0 531.0 L489.0 534.6 L490.0 538.0 L491.0 541.8 L492.0 545.5 L493.0 549.1 L494.0 552.3 L495.0 555.6 L496.0 559.0 L497.0 562.5 L498.0 565.8 L499.0 568.6 L500.0 571.3 L501.0 574.1 L502.0 576.5 L503.0 578.5 L504.0 579.8 L505.0 580.5 L506.0 580.3 L507.0 579.9 L508.0 579.0 L509.0 578.1 L510.0 576.8 L511.0 575.6 L512.0 574.8 L513.0 574.3 L514.0 573.9 L515.0 573.0 L516.0 571.8 L517.0 570.8 L518.0 570.4 L519.0 570.1 L520.0 569.5 L521.0 568.5 L522.0 567.6 L523.0 567.0 L524.0 566.7 L525.0 566.3 L526.0 565.2 L527.0 563.9 L528.0 562.8 L529.0 562.3 L530.0 561.7 L531.0 560.6 L532.0 559.3 L533.0 557.9 L534.0 557.2 L535.0 556.6 L536.0 555.8 L537.0 554.5 L538.0 553.1 L539.0 552.2 L540.0 551.8 L541.0 551.3 L542.0 550.3 L543.0 549.2 L544.0 548.1 L545.0 547.6 L546.0 547.1 L547.0 546.3 L548.0 545.3 L549.0 544.4 L550.0 544.1 L551.0 544.3 L552.0 544.5 L553.0 543.8 L554.0 543.1 L555.0 542.7 L556.0 542.9 L557.0 543.1 L558.0 542.8 L559.0 542.1 L560.0 541.5 L561.0 541.5 L562.0 541.5 L563.0 541.4 L564.0 540.8 L565.0 540.1 L566.0 539.8 L567.0 539.8 L568.0 539.8 L569.0 539.4 L570.0 538.8 L571.0 538.3 L572.0 538.7 L573.0 539.6 L574.0 540.7 L575.0 541.7 L576.0 542.6 L577.0 544.0 L578.0 545.6 L579.0 547.3 L580.0 548.3 L581.0 549.2 L582.0 550.5 L583.0 552.2 L584.0 553.8 L585.0 554.7 L586.0 555.2 L587.0 555.7 L588.0 557.0 L589.0 558.4 L590.0 559.6 L591.0 559.8 L592.0 560.1 L593.0 560.9 L594.0 562.2 L595.0 563.6 L596.0 564.5 L597.0 565.4 L598.0 566.4 L599.0 568.0 L600.0 569.7 L601.0 570.9 L602.0 571.7 L603.0 572.5 L604.0 573.9 L605.0 575.4 L606.0 576.7 L607.0 576.9 L608.0 577.0 L609.0 577.5 L610.0 578.7 L611.0 579.9 L612.0 580.3 L613.0 580.4 L614.0 580.3 L615.0 581.3 L616.0 582.2 L617.0 582.8 L618.0 582.5 L619.0 582.3 L620.0 582.5 L621.0 583.2 L622.0 583.9 L623.0 584.0 L624.0 583.9 L625.0 583.7 L626.0 583.8 L627.0 583.7 L628.0 583.2 L629.0 582.4 L630.0 581.6 L631.0 581.4 L632.0 581.6 L633.0 581.8 L634.0 580.8 L635.0 580.0 L636.0 579.8 L637.0 580.7 L638.0 581.6 L639.0 581.9 L640.0 581.3 L641.0 580.4 L642.0 580.1 L643.0 579.9 L644.0 579.5 L645.0 578.8 L646.0 578.5 L647.0 579.2 L648.0 580.3 L649.0 581.5 L650.0 581.6 L651.0 581.2 L652.0 580.7 L653.0 581.4 L654.0 582.2 L655.0 582.2 L656.0 581.4 L657.0 580.3 L658.0 580.0 L659.0 580.1 L660.0 580.2 L661.0 579.2 L662.0 578.2 L663.0 577.7 L664.0 578.3 L665.0 578.8 L666.0 578.3 L667.0 576.9 L668.0 575.5 L669.0 574.7 L670.0 573.5 L671.0 571.5 L672.0 568.6 L673.0 565.8 L674.0 563.8 L675.0 562.6 L676.0 561.5 L677.0 559.3 L678.0 556.9 L679.0 554.5 L680.0 553.7 L681.0 552.9 L682.0 551.4 L683.0 549.2 L684.0 547.3 L685.0 547.1 L686.0 547.8 L687.0 549.3 L688.0 549.4 L689.0 550.0 L690.0 550.8 L691.0 552.6 L692.0 554.2 L693.0 555.1 L694.0 555.6 L695.0 556.2 L696.0 558.0 L697.0 559.9 L698.0 561.7 L699.0 562.4 L700.0 563.1 L701.0 564.8 L702.0 567.6 L703.0 570.3 L704.0 571.4 L705.0 572.0 L706.0 572.7 L707.0 574.8 L708.0 576.9 L709.0 578.1 L710.0 578.0 L711.0 577.7 L712.0 578.7 L713.0 580.3 L714.0 582.1 L715.0 582.0 L716.0 582.1 L717.0 582.7 L718.0 584.7 L719.0 586.7 L720.0 587.6 L721.0 587.7 L722.0 587.6 L723.0 588.8 L724.0 590.1 L725.0 591.2 L726.0 591.0 L727.0 590.9 L728.0 591.9 L729.0 593.8 L730.0 595.8 L731.0 596.5 L732.0 596.9 L733.0 597.4 L734.0 599.2 L735.0 601.1 L736.0 602.3 L737.0 602.5 L738.0 603.1 L739.0 605.6 L740.0 608.6 L741.0 611.2 L742.0 611.2 L743.0 610.9 L744.0 610.1 L745.0 610.4 L746.0 610.7 L747.0 610.8 L748.0 610.2 L749.0 609.5 L750.0 611.0 L751.0 612.9 L752.0 614.4 L753.0 614.3 L754.0 614.1 L755.0 614.9 L756.0 616.7 L757.0 618.7 L758.0 619.4 L759.0 619.9 L760.0 620.9 L761.0 624.2 L762.0 627.9 L763.0 630.4 L764.0 630.8 L765.0 630.6 L766.0 631.4 L767.0 633.0 L768.0 634.4 L769.0 632.8 L770.0 630.7 L771.0 629.1 L772.0 630.1 L773.0 632.1 L774.0 633.4 L775.0 634.1 L776.0 634.7 L777.0 637.3 L778.0 640.0 L779.0 642.1 L780.0 642.2 L781.0 642.2 L782.0 643.2 L783.0 645.2 L784.0 647.3 L785.0 647.6 L786.0 647.4 L787.0 647.5 L788.0 649.9 L789.0 652.4 L790.0 653.5 L791.0 652.7 L792.0 651.8 L793.0 653.5 L794.0 656.3 L795.0 659.0 L796.0 658.4 L797.0 657.7 L798.0 657.9 L799.0 660.1 L800.0 662.3 L801.0 662.6 L802.0 661.4 L803.0 660.2 L804.0 662.3 L805.0 664.4" stroke="#00ffff" stroke-width="6.4"/>
<path d="M596.0 551.1 L597.0 553.0 L598.0 554.9 L599.0 555.0 L600.0 555.3 L601.0 556.0 L602.0 557.3 L603.0 558.3 L604.0 559.2 L605.0 558.9 L606.0 560.1 L607.0 561.9 L608.0 562.1 L609.0 562.9 L610.0 563.0 L611.0 563.8 L612.0 564.9 L613.0 565.0 L614.0 564.8 L615.0 565.8 L616.0 565.8 L617.0 564.9 L618.0 566.1 L619.0 567.1 L620.0 566.1 L621.0 566.1 L622.0 567.1 L623.0 566.9 L624.0 566.3 L625.0 567.1 L626.0 568.6 L627.0 568.5 L628.0 567.6 L629.0 568.1 L630.0 569.0 L631.0 567.2 L632.0 565.5 L633.0 564.7 L634.0 562.7 L635.0 560.0 L636.0 558.8 L637.0 557.8 L638.0 556.8 L639.0 554.5 L640.0 552.1 L641.0 551.1 L642.0 549.1 L643.0 548.3 L644.0 548.4 L645.0 546.5 L646.0 545.7 L647.0 545.3 L648.0 543.5 L649.0 541.9 L650.0 540.8 L651.0 538.4 L652.0 536.9 L653.0 536.9 L654.0 534.8 L655.0 534.0 L656.0 534.2 L657.0 533.8 L658.0 533.0 L659.0 531.9 L660.0 531.7 L661.0 531.2 L662.0 531.6 L663.0 532.3 L664.0 532.5 L665.0 532.5 L666.0 533.1 L667.0 534.1 L668.0 533.3 L669.0 532.7 L670.0 533.0 L671.0 533.0 L672.0 530.7 L673.0 529.4 L674.0 529.7 L675.0 528.1 L676.0 526.2 L677.0 526.0 L678.0 525.6 L679.0 527.7 L680.0 531.8 L681.0 531.7 L682.0 531.5 L683.0 532.4 L684.0 533.5 L685.0 535.9 L686.0 537.4 L687.0 535.7 L688.0 534.4 L689.0 536.1 L689.0 556.5 L688.0 553.6 L687.0 553.0 L686.0 552.9 L685.0 552.7 L684.0 553.1 L683.0 553.9 L682.0 556.4 L681.0 556.8 L680.0 557.6 L679.0 560.0 L678.0 562.1 L677.0 564.1 L676.0 566.2 L675.0 568.4 L674.0 570.9 L673.0 574.3 L672.0 576.3 L671.0 577.5 L670.0 580.2 L669.0 581.9 L668.0 582.7 L667.0 584.2 L666.0 585.0 L665.0 585.4 L664.0 585.5 L663.0 585.4 L662.0 585.7 L661.0 585.7 L660.0 585.1 L659.0 584.0 L658.0 584.1 L657.0 585.4 L656.0 585.0 L655.0 584.8 L654.0 585.7 L653.0 584.7 L652.0 583.9 L651.0 584.5 L650.0 583.6 L649.0 583.9 L648.0 584.0 L647.0 583.1 L646.0 583.8 L645.0 583.7 L644.0 582.9 L643.0 583.1 L642.0 584.6 L641.0 584.7 L640.0 583.6 L639.0 583.9 L638.0 584.5 L637.0 584.6 L636.0 584.7 L635.0 584.2 L634.0 585.1 L633.0 586.2 L632.0 585.5 L631.0 585.3 L630.0 585.7 L629.0 585.5 L628.0 585.5 L627.0 586.9 L626.0 587.9 L625.0 587.7 L624.0 587.5 L623.0 587.5 L622.0 586.1 L621.0 585.7 L620.0 586.9 L619.0 586.8 L618.0 586.8 L617.0 587.0 L616.0 585.4 L615.0 584.0 L614.0 583.2 L613.0 583.1 L612.0 582.9 L611.0 582.8 L610.0 581.7 L609.0 581.1 L608.0 581.7 L607.0 580.9 L606.0 580.8 L605.0 580.3 L604.0 579.1 L603.0 578.8 L602.0 577.2 L601.0 574.5 L600.0 572.7 L599.0 572.3 L598.0 570.8 L597.0 569.4 L596.0 568.8 Z" fill="#00ffff" stroke="#00ffff" stroke-width="1.5"/>
<path d="M688.0 534.4 L689.0 536.1 L690.0 537.7 L691.0 537.0 L692.0 534.9 L693.0 534.1 L694.0 533.8 L695.0 532.7 L696.0 531.5 L697.0 531.1 L698.0 531.0 L699.0 530.0 L700.0 528.9 L701.0 528.4 L702.0 529.0 L703.0 531.3 L704.0 532.2 L705.0 531.4 L706.0 532.4 L707.0 533.3 L708.0 533.5 L709.0 533.0 L710.0 531.2 L711.0 529.7 L712.0 529.9 L713.0 531.5 L714.0 529.4 L715.0 528.3 L716.0 530.4 L717.0 531.4 L718.0 532.0 L719.0 533.3 L720.0 534.6 L721.0 536.5 L722.0 537.4 L723.0 538.4 L724.0 540.1 L725.0 541.7 L726.0 542.7 L727.0 543.6 L728.0 547.3 L729.0 548.6 L730.0 549.3 L731.0 550.8 L732.0 552.0 L733.0 553.0 L734.0 553.6 L735.0 553.4 L736.0 552.6 L737.0 552.5 L738.0 552.9 L739.0 552.9 L740.0 556.4 L741.0 561.6 L742.0 566.0 L743.0 568.6 L744.0 569.9 L745.0 570.4 L746.0 574.4 L747.0 576.8 L748.0 578.2 L749.0 578.4 L750.0 578.9 L751.0 581.7 L752.0 583.2 L753.0 583.3 L754.0 584.4 L755.0 583.1 L756.0 582.3 L757.0 583.3 L758.0 583.6 L759.0 583.9 L760.0 584.0 L761.0 584.0 L762.0 583.7 L763.0 584.5 L764.0 586.0 L765.0 587.2 L766.0 588.0 L767.0 589.0 L768.0 590.4 L769.0 590.7 L770.0 589.4 L771.0 603.5 L772.0 602.0 L773.0 600.5 L774.0 598.5 L775.0 596.8 L776.0 595.1 L777.0 593.2 L778.0 590.4 L779.0 588.6 L780.0 586.9 L781.0 585.1 L782.0 584.8 L783.0 584.2 L784.0 583.9 L785.0 584.0 L786.0 583.4 L787.0 583.4 L788.0 585.5 L789.0 587.9 L790.0 588.2 L791.0 590.1 L792.0 592.9 L793.0 597.9 L794.0 601.9 L795.0 604.5 L796.0 609.0 L797.0 611.2 L798.0 613.6 L799.0 615.8 L800.0 616.5 L801.0 616.8 L802.0 617.5 L803.0 617.8 L804.0 617.8 L805.0 617.9 L805.0 649.1 L804.0 647.1 L803.0 645.0 L802.0 645.2 L801.0 645.5 L800.0 645.0 L799.0 643.3 L798.0 641.7 L797.0 641.9 L796.0 642.7 L795.0 643.5 L794.0 641.5 L793.0 639.4 L792.0 638.2 L791.0 639.1 L790.0 639.8 L789.0 638.5 L788.0 635.8 L787.0 633.2 L786.0 633.5 L785.0 634.4 L784.0 634.8 L783.0 632.6 L782.0 630.4 L781.0 629.9 L780.0 630.8 L779.0 631.6 L778.0 629.8 L777.0 627.2 L776.0 624.6 L775.0 623.9 L774.0 623.1 L773.0 621.8 L772.0 619.7 L771.0 618.4 L770.0 619.1 L769.0 620.6 L768.0 621.8 L767.0 619.7 L766.0 617.1 L765.0 615.1 L764.0 615.0 L763.0 614.8 L762.0 612.9 L761.0 610.0 L760.0 607.4 L759.0 607.8 L758.0 608.7 L757.0 609.1 L756.0 607.2 L755.0 605.3 L754.0 604.5 L753.0 604.7 L752.0 604.8 L751.0 603.6 L750.0 601.9 L749.0 600.4 L748.0 601.1 L747.0 601.7 L746.0 601.4 L745.0 599.0 L744.0 596.3 L743.0 594.7 L742.0 594.1 L741.0 593.4 L740.0 590.8 L739.0 588.2 L738.0 586.4 L737.0 586.2 L736.0 586.1 L735.0 585.0 L734.0 583.1 L733.0 581.2 L732.0 581.1 L731.0 581.2 L730.0 580.9 L729.0 578.8 L728.0 577.0 L727.0 576.5 L726.0 577.2 L725.0 577.8 L724.0 576.6 L723.0 574.9 L722.0 573.3 L721.0 573.5 L720.0 573.7 L719.0 573.2 L718.0 571.7 L717.0 570.1 L716.0 569.6 L715.0 569.6 L714.0 569.7 L713.0 567.9 L712.0 566.2 L711.0 565.1 L710.0 565.2 L709.0 565.4 L708.0 564.4 L707.0 562.7 L706.0 560.9 L705.0 560.6 L704.0 560.4 L703.0 559.7 L702.0 557.7 L701.0 555.9 L700.0 555.0 L699.0 554.9 L698.0 554.7 L697.0 553.0 L696.0 550.8 L695.0 548.9 L694.0 548.9 L693.0 549.2 L692.0 549.0 L691.0 547.8 L690.0 546.4 L689.0 545.9 L688.0 545.8 Z" fill="#00ffff" stroke="#00ffff" stroke-width="1.5"/>
<path d="M688.0 548.2 L689.0 548.8 L690.0 549.6 L691.0 551.4 L692.0 553.0 L693.0 553.9 L694.0 554.4 L695.0 555.0 L696.0 556.8 L697.0 558.7 L698.0 560.5 L699.0 561.2 L700.0 561.9 L701.0 563.6 L702.0 566.4 L703.0 569.1 L704.0 570.2 L705.0 570.8 L706.0 571.5 L707.0 573.6 L708.0 575.7 L709.0 576.9 L710.0 576.8 L711.0 576.5 L712.0 577.5 L713.0 579.1 L714.0 580.9 L715.0 580.8 L716.0 580.9 L717.0 581.5 L718.0 583.5 L719.0 585.5 L720.0 586.4 L721.0 586.5 L722.0 586.4 L723.0 587.6 L724.0 588.9 L725.0 590.0 L726.0 589.8 L727.0 589.7 L728.0 590.7 L729.0 592.6 L730.0 594.6 L731.0 595.3 L732.0 595.7 L733.0 596.2 L734.0 598.0 L735.0 599.9 L736.0 601.1 L737.0 601.3 L738.0 601.9 L739.0 604.4 L740.0 607.4 L741.0 610.0 L742.0 610.0 L743.0 609.7 L744.0 608.9 L745.0 609.2 L746.0 609.5 L747.0 609.6 L748.0 609.0 L749.0 608.3 L750.0 609.8 L751.0 611.7 L752.0 613.2 L753.0 613.1 L754.0 612.9 L755.0 613.7 L756.0 615.5 L757.0 617.5 L758.0 618.2 L759.0 618.7 L760.0 619.7 L761.0 623.0 L762.0 626.7 L763.0 629.2 L764.0 629.6 L765.0 629.4 L766.0 630.2 L767.0 631.8 L768.0 633.2 L769.0 631.6 L770.0 629.5 L771.0 627.9 L772.0 628.9 L773.0 630.9 L774.0 632.2 L775.0 632.9 L776.0 633.5 L777.0 636.1 L778.0 638.8 L779.0 640.9 L780.0 641.0 L781.0 641.0 L782.0 642.0 L783.0 644.0 L784.0 646.1 L785.0 646.4 L786.0 646.2 L787.0 646.3 L788.0 648.7 L789.0 651.2 L790.0 652.3 L791.0 651.5 L792.0 650.6 L793.0 652.3 L794.0 655.1 L795.0 657.8 L796.0 657.2 L797.0 656.5 L798.0 656.7 L799.0 658.9 L800.0 661.1 L801.0 661.4 L802.0 660.2 L803.0 659.0 L804.0 661.1 L805.0 663.2 L805.0 667.5 L804.0 668.0 L803.0 667.0 L802.0 665.6 L801.0 664.9 L800.0 664.7 L799.0 664.6 L798.0 664.1 L797.0 663.4 L796.0 661.9 L795.0 660.4 L794.0 660.0 L793.0 658.9 L792.0 657.5 L791.0 656.2 L790.0 655.1 L789.0 654.8 L788.0 653.5 L787.0 652.5 L786.0 652.0 L785.0 651.0 L784.0 650.6 L783.0 649.6 L782.0 647.6 L781.0 646.6 L780.0 645.5 L779.0 644.2 L778.0 642.0 L777.0 641.2 L776.0 640.7 L775.0 637.6 L774.0 635.1 L773.0 633.7 L772.0 634.3 L771.0 635.1 L770.0 635.6 L769.0 636.2 L768.0 636.5 L767.0 636.8 L766.0 636.0 L765.0 635.9 L764.0 635.2 L763.0 631.9 L762.0 630.2 L761.0 628.5 L760.0 626.0 L759.0 624.5 L758.0 623.2 L757.0 622.0 L756.0 621.0 L755.0 619.4 L754.0 618.7 L753.0 617.4 L752.0 616.5 L751.0 616.5 L750.0 616.1 L749.0 615.7 L748.0 615.0 L747.0 613.4 L746.0 612.0 L745.0 613.3 L744.0 616.8 L743.0 616.4 L742.0 615.3 L741.0 613.0 L740.0 609.7 L739.0 608.3 L738.0 608.0 L737.0 606.6 L736.0 605.0 L735.0 603.8 L734.0 603.4 L733.0 600.7 L732.0 598.9 L731.0 599.0 L730.0 597.9 L729.0 597.2 L728.0 596.9 L727.0 596.7 L726.0 595.6 L725.0 594.4 L724.0 594.4 L723.0 593.5 L722.0 592.0 L721.0 590.9 L720.0 590.4 L719.0 589.8 L718.0 589.3 L717.0 587.8 L716.0 586.1 L715.0 584.7 L714.0 583.4 L713.0 581.6 L712.0 581.4 L711.0 583.3 L710.0 581.9 L709.0 579.3 L708.0 578.4 L707.0 578.4 L706.0 577.4 L705.0 575.8 L704.0 573.8 L703.0 571.7 L702.0 572.0 L701.0 570.8 L700.0 567.3 L699.0 566.4 L698.0 565.0 L697.0 563.2 L696.0 561.5 L695.0 559.2 L694.0 558.7 L693.0 558.2 L692.0 557.2 L691.0 555.5 L690.0 556.2 L689.0 556.5 L688.0 553.6 Z" fill="#00ffff" stroke="#00ffff" stroke-width="1.5"/>
<path d="M774.5 587.8 L775.5 575.6 L777.0 564.4 L780.6 559.3 L785.2 557.2 L789.2 560.3 L792.8 567.4 L795.4 578.6 L797.4 586.8 L801.0 592.9 L806.1 592.4 L809.1 602.1 L810.1 611.3 L809.6 636.7 L805.0 638.8 L797.9 631.6 L795.9 616.4 L793.8 596.0 L790.8 587.8 L780.6 587.8 Z" fill="#00ffff" stroke="#00ffff" stroke-width="1.5"/>
<path d="M780.4 584.2 L782.4 578.6 L784.1 574.8 L786.2 578.6 L789.6 584.2 Z" fill="#fff" stroke="none"/>
<path d="M776.7 615.3 L779.6 608.2 L782.6 603.6 L785.7 604.6 L788.7 610.2 L791.6 615.3 L792.8 620.4 L790.3 622.5 L785.7 620.9 L780.6 618.9 Z" fill="#fff" stroke="none"/>
<path d="M800.0 598.6 L800.5 598.7 L801.0 598.8 L801.5 598.9 L802.0 599.0 L802.5 599.1 L803.0 599.2 L803.5 599.3 L804.0 599.4 L804.5 599.8 L805.0 600.5 L805.5 601.6 L806.0 603.0 L806.5 604.8 L807.0 607.0 L807.5 609.3 L808.0 611.3 L808.5 613.0 L809.0 614.4 L809.5 615.3 L810.0 616.0 L810.5 616.5 L811.0 617.0 L811.5 617.7 L812.0 618.7 L812.5 619.9 L813.0 621.2 L813.5 622.7 L814.0 624.2 L814.5 625.5 L815.0 626.7 L815.5 627.8 L816.0 628.9 L816.5 629.8 L817.0 630.6 L817.5 631.4 L818.0 632.1 L818.5 632.8 L819.0 633.3 L819.5 633.8 L820.0 634.1 L820.5 634.4 L821.0 634.6 L821.5 634.8 L822.0 635.1 L822.5 635.3 L823.0 635.5 L823.5 635.7 L824.0 636.0 L824.5 636.2 L825.0 636.4 L825.5 636.6 L826.0 636.8 L826.5 637.1 L827.0 637.3 L827.5 637.5 L828.0 637.7 L828.5 638.0 L829.0 638.1 L829.5 638.2 L830.0 638.2 L830.5 638.1 L831.0 638.0 L831.5 637.7 L832.0 637.4 L832.5 637.1 L833.0 636.7 L833.5 636.4 L834.0 636.1 L834.5 635.7 L835.0 635.4 L835.5 635.1 L836.0 634.7 L836.5 634.4 L837.0 634.1 L837.5 633.9 L838.0 633.6 L838.5 633.4 L839.0 633.2 L839.5 633.0 L840.0 632.9 L840.5 632.8 L841.0 632.8 L841.5 632.8 L842.0 632.9 L842.5 633.1 L843.0 633.4 L843.5 633.7 L844.0 634.0 L844.5 634.3 L845.0 634.6 L845.5 634.9 L846.0 635.2 L846.5 635.4 L847.0 635.7 L847.5 635.8 L848.0 636.0 L848.5 636.1 L849.0 636.1 L849.5 636.2 L850.0 636.2 L850.5 636.2 L851.0 636.2 L851.5 636.2 L852.0 636.2 L852.5 636.2 L853.0 636.2 L853.5 636.2 L854.0 636.2 L854.5 636.2 L855.0 636.2 L855.5 636.2 L856.0 636.2 L856.5 636.1 L857.0 636.0 L857.5 635.9 L858.0 635.6 L858.5 635.4 L859.0 635.0 L859.5 634.6 L860.0 634.2 L860.5 633.8 L861.0 633.4 L861.5 633.0 L862.0 632.6 L862.5 632.1 L863.0 631.7 L863.5 631.3 L864.0 630.9 L864.5 630.4 L865.0 629.9 L865.5 629.3 L866.0 628.8 L866.5 628.1 L867.0 627.5 L867.5 626.8 L868.0 626.3 L868.5 626.0 L869.0 625.9 L869.5 625.9 L870.0 626.1 L870.5 626.4 L871.0 626.9 L871.5 627.4 L872.0 627.9 L872.5 628.4 L873.0 628.9 L873.5 629.4 L874.0 629.9 L874.5 630.4 L875.0 630.9 L875.5 631.1 L876.0 631.0 L876.5 630.5 L877.0 629.8 L877.5 628.7 L878.0 627.4 L878.5 625.7 L879.0 624.0 L879.5 622.4 L880.0 620.7 L880.5 619.0 L881.0 617.6 L881.5 616.4 L882.0 615.4 L882.5 614.8 L883.0 614.4 L883.5 614.3 L884.0 614.4 L884.5 614.6 L885.0 614.9 L885.5 615.1 L886.0 615.3 L886.5 615.5 L887.0 615.7 L887.5 615.9 L888.0 616.1 L888.5 616.3 L889.0 616.4 L889.5 616.6 L890.0 616.7 L890.5 616.9 L891.0 617.0 L891.5 617.2 L892.0 617.3 L892.5 617.4 L893.0 617.6 L893.5 617.7 L894.0 617.9 L894.5 618.0 L895.0 618.2 L895.5 618.4 L896.0 618.9 L896.5 619.4 L897.0 620.1 L897.5 621.0 L898.0 622.0 L898.5 623.1 L899.0 624.3 L899.5 625.5 L900.0 626.6 L900.5 627.8 L901.0 629.0 L901.5 630.1 L902.0 631.3 L902.5 632.5 L903.0 633.5 L903.5 634.3 L904.0 634.9 L904.5 635.3 L905.0 635.5 L905.5 635.6 L906.0 635.4 L906.5 635.2 L907.0 635.0 L907.5 634.8 L908.0 634.6 L908.5 634.4 L909.0 634.2 L909.5 633.8 L910.0 633.3 L910.5 632.8 L911.0 632.1 L911.5 631.3 L912.0 630.3 L912.5 629.3 L913.0 628.3 L913.5 627.3 L914.0 626.3 L914.5 625.3 L915.0 624.3 L915.5 623.3 L916.0 622.3 L916.5 621.4 L917.0 620.8 L917.5 620.6 L918.0 620.7 L918.5 621.1 L919.0 621.9 L919.5 623.0 L920.0 624.3 L920.5 625.6 L921.0 627.0 L921.5 628.3 L922.0 629.6 L922.5 630.7 L923.0 631.7 L923.5 632.4 L924.0 632.8 L924.5 633.1 L925.0 633.2 L925.5 633.0 L926.0 632.9 L926.5 632.7 L927.0 632.6 L927.5 632.4 L928.0 632.3 L928.5 632.1 L929.0 632.0 L929.5 631.8 L930.0 631.7 L930.5 631.6 L931.0 631.6 L931.5 631.7 L932.0 632.0 L932.5 632.3 L933.0 632.8 L933.5 633.3 L934.0 633.9 L934.5 634.5 L935.0 635.1 L935.5 635.7 L936.0 636.3 L936.5 636.9 L937.0 637.6 L937.5 638.2 L938.0 638.8 L938.5 639.4 L939.0 640.0 L939.5 640.6 L940.0 641.3 L940.5 641.9 L941.0 642.5 L941.5 643.1 L942.0 643.4 L942.5 643.3 L943.0 643.0 L943.5 642.4 L944.0 641.7 L944.5 640.9 L945.0 640.2 L945.5 639.7 L946.0 639.5 L946.5 639.5 L947.0 639.9 L947.5 640.2 L948.0 640.5 L948.5 640.9 L949.0 641.2 L949.5 641.6 L950.0 642.2 L950.5 642.9 L951.0 643.7 L951.5 644.7 L952.0 645.8 L952.5 647.0 L953.0 648.3 L953.5 649.6 L954.0 650.8 L954.5 651.9 L955.0 652.9 L955.5 653.8 L956.0 654.6 L956.5 655.4 L957.0 656.0 L957.5 656.6 L958.0 657.2 L958.5 657.8 L959.0 658.5 L959.5 659.1 L960.0 659.7 L960.5 660.3 L961.0 660.9 L961.5 661.5 L962.0 662.1 L962.5 662.7 L963.0 663.2 L963.5 663.7 L964.0 664.1 L964.5 664.6 L965.0 664.9 L965.5 665.3 L966.0 665.7 L966.5 666.0 L967.0 666.4 L967.5 666.7 L968.0 667.1 L968.5 667.5 L969.0 667.8 L969.5 667.9 L970.0 668.0 L970.5 668.0 L971.0 667.9 L971.5 667.7 L972.0 667.4 L972.5 667.0 L973.0 666.7 L973.5 666.4 L974.0 666.0 L974.5 665.7 L975.0 665.4 L975.5 665.0 L976.0 664.7 L976.5 664.5 L977.0 664.6 L977.5 665.0 L978.0 665.5 L978.5 666.3 L979.0 667.4 L979.5 668.6 L980.0 669.9 L980.5 671.2 L981.0 672.3 L981.5 673.4 L982.0 674.3 L982.5 675.2 L983.0 676.0 L983.5 676.7 L984.0 677.4 L984.5 678.1 L985.0 678.8 L985.5 679.5 L986.0 680.2 L986.5 681.0 L987.0 681.7 L987.5 682.4 L988.0 683.1 L988.5 683.8 L989.0 684.5 L989.5 685.1 L990.0 685.7 L990.5 686.2 L991.0 686.6 L991.5 687.0 L992.0 687.3 L992.5 687.6 L993.0 687.9 L993.5 688.2 L994.0 688.6 L994.5 688.9 L995.0 689.2 L995.5 689.5 L996.0 689.8 L996.5 690.1 L997.0 690.4 L997.5 690.7 L998.0 691.0 L998.5 691.2 L999.0 691.5 L999.5 691.7 L1000.0 692.0 L1000.5 692.2 L1001.0 692.4 L1001.5 692.6 L1002.0 692.8 L1002.5 693.0 L1003.0 693.0 L1003.5 692.8 L1004.0 692.4 L1004.5 691.7 L1005.0 690.8 L1005.5 689.7 L1006.0 688.4 L1006.5 687.2 L1007.0 685.9 L1007.5 684.9 L1008.0 684.0 L1008.5 683.4 L1009.0 682.9 L1009.5 682.6 L1010.0 682.4 L1010.5 682.4 L1011.0 682.4 L1011.5 682.4 L1012.0 682.4 L1012.5 682.4 L1013.0 682.4 L1013.5 682.4 L1014.0 682.4 L1014.5 682.5 L1015.0 682.6 L1015.5 682.7 L1016.0 682.8 L1016.5 682.9 L1017.0 683.1 L1017.5 683.3 L1018.0 683.5 L1018.5 683.7 L1019.0 683.9 L1019.5 684.1 L1020.0 684.3 L1020.5 684.5 L1021.0 684.5 L1021.5 684.5 L1022.0 684.4 L1022.5 684.2 L1023.0 684.0 L1023.5 683.7 L1024.0 683.4 L1024.5 683.1 L1025.0 682.7 L1025.5 682.4 L1026.0 682.1 L1026.5 681.8 L1027.0 681.5 L1027.5 681.2 L1028.0 680.9 L1028.5 680.6 L1029.0 680.2 L1029.5 679.9 L1030.0 679.6 L1030.5 679.3 L1031.0 679.1 L1031.5 678.8 L1032.0 678.6 L1032.5 678.4 L1033.0 678.2 L1033.5 678.0 L1034.0 677.8 L1034.5 677.7 L1035.0 677.5 L1035.5 677.3 L1036.0 677.3 L1036.5 677.5 L1037.0 677.9 L1037.5 678.4 L1038.0 679.2 L1038.5 680.2 L1039.0 681.4 L1039.5 682.7 L1040.0 684.0 L1040.5 685.3 L1041.0 686.5 L1041.5 687.8 L1042.0 688.9 L1042.5 689.9 L1043.0 690.8 L1043.5 691.6 L1044.0 692.3 L1044.5 692.9 L1045.0 693.4 L1045.5 693.9 L1046.0 694.4 L1046.5 694.8 L1047.0 695.2 L1047.5 695.4 L1048.0 695.4 L1048.5 695.4 L1049.0 695.2 L1049.5 694.9 L1050.0 694.5 L1050.5 694.1 L1051.0 693.7 L1051.5 693.3 L1052.0 692.9 L1052.5 692.5 L1053.0 692.1 L1053.5 691.7 L1054.0 691.3 L1054.5 690.9 L1055.0 690.8 L1055.5 690.8 L1056.0 691.2 L1056.5 691.7 L1057.0 692.6 L1057.5 693.7 L1058.0 695.0 L1058.5 696.1 L1059.0 697.0 L1059.5 697.6 L1060.0 697.9 L1060.5 697.9 L1061.0 697.7 L1061.5 697.4 L1062.0 697.2 L1062.5 697.1 L1063.0 697.1 L1063.5 697.3 L1064.0 697.5 L1064.5 697.8 L1065.0 698.1 L1065.5 698.4 L1066.0 698.9 L1066.5 699.6 L1067.0 700.4 L1067.5 701.5 L1068.0 702.7 L1068.5 704.2 L1069.0 705.7 L1069.5 706.9 L1070.0 707.9 L1070.5 708.7 L1071.0 709.2 L1071.5 709.5 L1072.0 709.5 L1072.5 709.3 L1073.0 709.1 L1073.5 709.0 L1074.0 708.9 L1074.5 708.8 L1075.0 708.7 L1075.5 708.7 L1076.0 708.7 L1076.5 708.7 L1077.0 708.7 L1077.5 708.7 L1078.0 708.8 L1078.5 708.9 L1079.0 709.1 L1079.5 709.3 L1080.0 709.5 L1080.5 709.8 L1081.0 710.1 L1081.5 710.4 L1082.0 710.8 L1082.5 711.3 L1083.0 712.0 L1083.5 712.9 L1084.0 713.9 L1084.5 715.1 L1085.0 716.4 L1085.5 717.7 L1086.0 718.8 L1086.5 719.7 L1087.0 720.5 L1087.5 721.1 L1088.0 721.5 L1088.5 721.8 L1089.0 721.4 L1089.5 721.1 L1090.0 720.9 L1090.5 720.9 L1091.0 720.9 L1091.5 720.9 L1092.0 720.9 L1092.5 720.9 L1093.0 720.9 L1093.5 720.9 L1094.0 721.3 L1094.5 722.0 L1095.0 722.9 L1095.5 724.2 L1096.0 725.5 L1096.5 725.9 L1097.0 726.3 L1097.5 727.0 L1098.0 727.7 L1098.5 728.6 L1099.0 729.7 L1099.5 730.8 L1100.0 732.1 L1100.5 733.3 L1101.0 734.4 L1101.5 735.5 L1102.0 736.5 L1102.5 737.3 L1103.0 738.1 L1103.5 738.9 L1104.0 739.5 L1104.5 740.2 L1105.0 740.8 L1105.5 741.4 L1106.0 742.0 L1106.5 742.5 L1107.0 742.9 L1107.5 743.3 L1108.0 743.7 L1108.5 744.0 L1109.0 744.3 L1109.5 744.6 L1110.0 744.9 L1110.5 745.2 L1111.0 745.5 L1111.5 745.8 L1112.0 746.4 L1112.5 747.3 L1113.0 748.7 L1113.5 749.9 L1114.0 750.9 L1114.5 751.8 L1115.0 752.5 L1115.5 752.7 L1116.0 752.5 L1116.5 751.9 L1117.0 751.5 L1117.5 751.4 L1118.0 751.6 L1118.5 752.0 L1119.0 752.7 L1119.5 753.6 L1120.0 754.5 L1120.5 755.3 L1121.0 755.9 L1121.5 756.4 L1122.0 756.7 L1122.5 756.9 L1123.0 757.0 L1123.5 757.0 L1124.0 757.0 L1124.5 757.0 L1125.0 757.0 L1125.5 757.0 L1126.0 757.0 L1126.5 757.0 L1127.0 757.0 L1127.5 757.7 L1128.0 759.1 L1128.5 760.6 L1129.0 762.0 L1129.5 763.5 L1130.0 765.0 L1130.5 794.0 L1131.0 804.4 L1131.5 814.8 L1132.0 823.6 L1132.5 830.0 L1133.0 836.4 L1133.5 842.9 L1134.0 849.8 L1134.5 859.1 L1135.0 868.3 L1135.0 877.8 L1134.5 877.8 L1134.0 877.8 L1133.5 877.8 L1133.0 877.8 L1132.5 877.8 L1132.0 877.8 L1131.5 877.8 L1131.0 877.8 L1130.5 877.8 L1130.0 877.8 L1129.5 877.8 L1129.0 877.8 L1128.5 877.8 L1128.0 877.8 L1127.5 877.8 L1127.0 877.8 L1126.5 877.8 L1126.0 877.8 L1125.5 876.2 L1125.0 873.7 L1124.5 870.3 L1124.0 866.6 L1123.5 862.5 L1123.0 857.9 L1122.5 852.9 L1122.0 849.2 L1121.5 846.2 L1121.0 843.7 L1120.5 841.3 L1120.0 839.0 L1119.5 836.9 L1119.0 834.9 L1118.5 832.9 L1118.0 830.9 L1117.5 828.9 L1117.0 826.9 L1116.5 824.9 L1116.0 822.9 L1115.5 820.9 L1115.0 819.0 L1114.5 817.3 L1114.0 815.8 L1113.5 814.5 L1113.0 813.5 L1112.5 812.6 L1112.0 812.0 L1111.5 811.5 L1111.0 811.0 L1110.5 810.5 L1110.0 810.1 L1109.5 809.7 L1109.0 809.4 L1108.5 809.1 L1108.0 808.8 L1107.5 808.6 L1107.0 808.3 L1106.5 808.1 L1106.0 807.8 L1105.5 807.6 L1105.0 807.3 L1104.5 807.0 L1104.0 806.8 L1103.5 806.5 L1103.0 806.2 L1102.5 805.9 L1102.0 805.6 L1101.5 805.3 L1101.0 805.0 L1100.5 804.7 L1100.0 804.4 L1099.5 804.1 L1099.0 803.8 L1098.5 803.5 L1098.0 803.1 L1097.5 802.7 L1097.0 802.3 L1096.5 801.9 L1096.0 801.4 L1095.5 800.9 L1095.0 800.4 L1094.5 799.9 L1094.0 799.4 L1093.5 798.9 L1093.0 798.4 L1092.5 797.9 L1092.0 797.4 L1091.5 797.0 L1091.0 796.6 L1090.5 796.2 L1090.0 795.8 L1089.5 795.5 L1089.0 795.3 L1088.5 795.0 L1088.0 794.8 L1087.5 794.6 L1087.0 794.3 L1086.5 794.1 L1086.0 793.8 L1085.5 793.4 L1085.0 793.0 L1084.5 792.6 L1084.0 792.1 L1083.5 791.6 L1083.0 791.1 L1082.5 790.7 L1082.0 790.3 L1081.5 789.9 L1081.0 789.6 L1080.5 789.4 L1080.0 789.2 L1079.5 789.1 L1079.0 788.9 L1078.5 788.8 L1078.0 788.5 L1077.5 788.2 L1077.0 787.8 L1076.5 787.4 L1076.0 786.8 L1075.5 786.2 L1075.0 785.6 L1074.5 785.0 L1074.0 784.4 L1073.5 783.7 L1073.0 783.1 L1072.5 782.5 L1072.0 781.9 L1071.5 781.2 L1071.0 780.6 L1070.5 780.0 L1070.0 779.5 L1069.5 779.0 L1069.0 778.6 L1068.5 778.3 L1068.0 778.1 L1067.5 777.9 L1067.0 777.8 L1066.5 777.7 L1066.0 777.6 L1065.5 777.6 L1065.0 777.6 L1064.5 777.7 L1064.0 777.8 L1063.5 777.9 L1063.0 778.1 L1062.5 778.3 L1062.0 778.5 L1061.5 778.7 L1061.0 779.0 L1060.5 779.2 L1060.0 779.4 L1059.5 779.7 L1059.0 779.9 L1058.5 780.1 L1058.0 780.1 L1057.5 780.1 L1057.0 780.1 L1056.5 779.9 L1056.0 779.7 L1055.5 779.4 L1055.0 779.2 L1054.5 778.9 L1054.0 778.7 L1053.5 778.5 L1053.0 778.3 L1052.5 778.1 L1052.0 777.9 L1051.5 777.8 L1051.0 777.7 L1050.5 777.5 L1050.0 777.4 L1049.5 777.3 L1049.0 777.2 L1048.5 777.0 L1048.0 776.9 L1047.5 776.8 L1047.0 776.7 L1046.5 776.5 L1046.0 776.4 L1045.5 776.3 L1045.0 776.2 L1044.5 776.0 L1044.0 775.9 L1043.5 775.7 L1043.0 775.6 L1042.5 775.4 L1042.0 775.2 L1041.5 774.9 L1041.0 774.7 L1040.5 774.4 L1040.0 774.2 L1039.5 773.9 L1039.0 773.7 L1038.5 773.5 L1038.0 773.3 L1037.5 773.1 L1037.0 772.9 L1036.5 772.8 L1036.0 772.6 L1035.5 772.5 L1035.0 772.4 L1034.5 772.3 L1034.0 772.2 L1033.5 772.2 L1033.0 772.2 L1032.5 772.3 L1032.0 772.5 L1031.5 772.7 L1031.0 773.0 L1030.5 773.4 L1030.0 773.7 L1029.5 774.0 L1029.0 774.2 L1028.5 774.5 L1028.0 774.7 L1027.5 774.9 L1027.0 775.0 L1026.5 775.2 L1026.0 775.2 L1025.5 775.3 L1025.0 775.2 L1024.5 775.1 L1024.0 774.9 L1023.5 774.7 L1023.0 774.5 L1022.5 774.2 L1022.0 774.0 L1021.5 773.8 L1021.0 773.7 L1020.5 773.6 L1020.0 773.7 L1019.5 773.8 L1019.0 774.1 L1018.5 774.4 L1018.0 774.8 L1017.5 775.2 L1017.0 775.5 L1016.5 775.8 L1016.0 775.9 L1015.5 775.8 L1015.0 775.5 L1014.5 775.0 L1014.0 774.3 L1013.5 773.5 L1013.0 772.8 L1012.5 772.5 L1012.0 772.5 L1011.5 772.8 L1011.0 773.5 L1010.5 774.4 L1010.0 775.4 L1009.5 776.3 L1009.0 776.9 L1008.5 777.3 L1008.0 777.6 L1007.5 777.6 L1007.0 777.5 L1006.5 777.3 L1006.0 777.1 L1005.5 777.0 L1005.0 776.8 L1004.5 776.7 L1004.0 776.6 L1003.5 776.4 L1003.0 776.3 L1002.5 776.2 L1002.0 776.1 L1001.5 775.9 L1001.0 775.7 L1000.5 775.5 L1000.0 775.3 L999.5 775.0 L999.0 774.7 L998.5 774.3 L998.0 774.0 L997.5 773.6 L997.0 773.2 L996.5 772.8 L996.0 772.4 L995.5 772.0 L995.0 771.6 L994.5 771.1 L994.0 770.7 L993.5 770.2 L993.0 769.7 L992.5 769.2 L992.0 768.7 L991.5 768.2 L991.0 767.7 L990.5 767.3 L990.0 767.0 L989.5 766.7 L989.0 766.4 L988.5 766.2 L988.0 766.0 L987.5 765.8 L987.0 765.6 L986.5 765.4 L986.0 765.2 L985.5 765.0 L985.0 764.8 L984.5 764.6 L984.0 764.4 L983.5 764.3 L983.0 764.2 L982.5 764.0 L982.0 763.9 L981.5 763.8 L981.0 763.7 L980.5 763.6 L980.0 763.5 L979.5 763.4 L979.0 763.3 L978.5 763.2 L978.0 763.1 L977.5 763.0 L977.0 762.8 L976.5 762.7 L976.0 762.5 L975.5 762.4 L975.0 762.2 L974.5 762.0 L974.0 761.9 L973.5 761.7 L973.0 761.5 L972.5 761.4 L972.0 761.2 L971.5 761.0 L971.0 760.8 L970.5 760.5 L970.0 760.2 L969.5 759.8 L969.0 759.4 L968.5 759.0 L968.0 758.5 L967.5 758.0 L967.0 757.5 L966.5 757.0 L966.0 756.4 L965.5 755.8 L965.0 755.2 L964.5 754.6 L964.0 753.9 L963.5 753.2 L963.0 752.4 L962.5 751.7 L962.0 750.9 L961.5 750.2 L961.0 749.4 L960.5 748.7 L960.0 748.0 L959.5 747.4 L959.0 746.7 L958.5 746.1 L958.0 745.4 L957.5 744.8 L957.0 744.2 L956.5 743.6 L956.0 743.0 L955.5 742.6 L955.0 742.3 L954.5 742.0 L954.0 741.8 L953.5 741.7 L953.0 741.7 L952.5 741.7 L952.0 741.7 L951.5 741.8 L951.0 741.8 L950.5 742.0 L950.0 742.2 L949.5 742.5 L949.0 742.8 L948.5 743.3 L948.0 743.8 L947.5 744.3 L947.0 744.8 L946.5 745.3 L946.0 745.7 L945.5 745.9 L945.0 746.0 L944.5 746.0 L944.0 745.9 L943.5 745.7 L943.0 745.3 L942.5 744.9 L942.0 744.5 L941.5 744.1 L941.0 743.6 L940.5 743.2 L940.0 742.7 L939.5 742.2 L939.0 741.7 L938.5 741.3 L938.0 740.9 L937.5 740.6 L937.0 740.3 L936.5 740.1 L936.0 739.8 L935.5 739.6 L935.0 739.4 L934.5 739.2 L934.0 739.0 L933.5 738.8 L933.0 738.6 L932.5 738.4 L932.0 738.2 L931.5 738.0 L931.0 737.8 L930.5 737.5 L930.0 737.3 L929.5 737.0 L929.0 736.8 L928.5 736.5 L928.0 736.3 L927.5 736.1 L927.0 736.0 L926.5 735.9 L926.0 735.9 L925.5 735.9 L925.0 735.9 L924.5 736.0 L924.0 736.1 L923.5 736.2 L923.0 736.3 L922.5 736.4 L922.0 736.5 L921.5 736.6 L921.0 736.7 L920.5 736.9 L920.0 737.0 L919.5 737.1 L919.0 737.2 L918.5 737.3 L918.0 737.5 L917.5 737.6 L917.0 737.7 L916.5 737.8 L916.0 737.9 L915.5 738.0 L915.0 738.0 L914.5 738.1 L914.0 738.1 L913.5 738.1 L913.0 738.1 L912.5 738.1 L912.0 738.1 L911.5 738.1 L911.0 738.1 L910.5 738.1 L910.0 738.0 L909.5 737.8 L909.0 737.5 L908.5 737.1 L908.0 736.7 L907.5 736.1 L907.0 735.5 L906.5 734.9 L906.0 734.2 L905.5 733.6 L905.0 733.2 L904.5 732.8 L904.0 732.6 L903.5 732.5 L903.0 732.5 L902.5 732.6 L902.0 732.9 L901.5 733.1 L901.0 733.4 L900.5 733.6 L900.0 733.8 L899.5 734.0 L899.0 734.2 L898.5 734.3 L898.0 734.3 L897.5 734.4 L897.0 734.4 L896.5 734.4 L896.0 734.4 L895.5 734.3 L895.0 734.3 L894.5 734.2 L894.0 734.1 L893.5 734.0 L893.0 733.8 L892.5 733.6 L892.0 733.3 L891.5 733.1 L891.0 732.8 L890.5 732.6 L890.0 732.4 L889.5 732.2 L889.0 732.2 L888.5 732.1 L888.0 732.2 L887.5 732.2 L887.0 732.4 L886.5 732.5 L886.0 732.6 L885.5 732.7 L885.0 732.8 L884.5 732.8 L884.0 732.7 L883.5 732.5 L883.0 732.3 L882.5 732.0 L882.0 731.6 L881.5 731.2 L881.0 730.8 L880.5 730.5 L880.0 730.1 L879.5 729.7 L879.0 729.2 L878.5 728.8 L878.0 728.3 L877.5 727.8 L877.0 727.3 L876.5 726.8 L876.0 726.3 L875.5 725.8 L875.0 725.3 L874.5 724.8 L874.0 724.3 L873.5 723.8 L873.0 723.3 L872.5 722.8 L872.0 722.3 L871.5 721.8 L871.0 721.3 L870.5 720.8 L870.0 720.3 L869.5 719.7 L869.0 719.1 L868.5 718.4 L868.0 717.6 L867.5 716.9 L867.0 716.0 L866.5 715.2 L866.0 714.5 L865.5 714.0 L865.0 713.5 L864.5 713.1 L864.0 712.8 L863.5 712.6 L863.0 712.5 L862.5 712.4 L862.0 712.2 L861.5 712.1 L861.0 711.9 L860.5 711.7 L860.0 711.5 L859.5 711.2 L859.0 710.9 L858.5 710.5 L858.0 710.1 L857.5 709.8 L857.0 709.4 L856.5 709.0 L856.0 708.8 L855.5 708.6 L855.0 708.5 L854.5 708.5 L854.0 708.6 L853.5 708.8 L853.0 709.0 L852.5 709.2 L852.0 709.4 L851.5 709.7 L851.0 709.9 L850.5 709.9 L850.0 709.8 L849.5 709.5 L849.0 709.0 L848.5 708.3 L848.0 707.5 L847.5 706.5 L847.0 705.5 L846.5 704.5 L846.0 703.7 L845.5 703.2 L845.0 702.7 L844.5 702.5 L844.0 702.4 L843.5 702.6 L843.0 702.8 L842.5 703.1 L842.0 703.3 L841.5 703.6 L841.0 703.8 L840.5 704.0 L840.0 704.2 L839.5 704.3 L839.0 704.5 L838.5 704.6 L838.0 704.7 L837.5 704.8 L837.0 704.9 L836.5 705.0 L836.0 705.1 L835.5 705.2 L835.0 705.2 L834.5 705.2 L834.0 705.0 L833.5 704.8 L833.0 704.5 L832.5 704.1 L832.0 703.7 L831.5 703.2 L831.0 702.6 L830.5 702.1 L830.0 701.5 L829.5 701.0 L829.0 700.4 L828.5 699.8 L828.0 699.1 L827.5 698.5 L827.0 697.9 L826.5 697.3 L826.0 696.7 L825.5 696.1 L825.0 695.5 L824.5 694.9 L824.0 694.4 L823.5 693.9 L823.0 693.4 L822.5 692.9 L822.0 692.4 L821.5 691.9 L821.0 691.4 L820.5 690.9 L820.0 690.4 L819.5 689.9 L819.0 689.4 L818.5 688.9 L818.0 688.4 L817.5 687.9 L817.0 687.4 L816.5 686.9 L816.0 686.4 L815.5 685.8 L815.0 685.3 L814.5 684.7 L814.0 684.1 L813.5 683.5 L813.0 682.9 L812.5 682.3 L812.0 681.6 L811.5 681.0 L811.0 680.4 L810.5 679.8 L810.0 679.3 L809.5 678.7 L809.0 678.2 L808.5 677.6 L808.0 677.1 L807.5 676.6 L807.0 676.1 L806.5 675.6 L806.0 675.1 L805.5 674.6 L805.0 674.0 L804.5 673.5 L804.0 672.9 L803.5 672.3 L803.0 671.6 L802.5 671.0 L802.0 670.4 L801.5 669.8 L801.0 669.2 L800.5 668.8 L800.0 668.4 Z" fill="#00ffff" stroke="none"/>
<path d="M800.3 594.8V619.0M805.0 596.1V620.4M808.1 612.4V638.2M810.9 610.1V641.1M813.8 623.7V643.5M816.6 637.2V649.4M818.9 629.9V650.8M822.1 641.0V653.4M826.1 621.2V656.1M829.9 635.0V659.3M834.0 638.5V654.3M837.7 629.9V652.1M841.7 628.7V651.8M844.4 640.0V652.7M847.9 632.5V645.6M851.5 632.7V649.8M853.8 609.9V655.5M857.0 632.5V660.1M860.4 638.4V660.4M865.4 626.2V651.0M869.5 621.1V651.5M871.5 631.5V651.6M876.2 628.7V651.5M878.5 634.6V659.6M882.0 609.9V653.6M887.1 612.4V651.4M889.3 609.2V647.3M892.2 593.6V647.8M894.4 616.2V647.2M897.4 614.9V646.5M900.3 630.7V653.5M903.9 632.5V652.2M907.7 633.4V660.0M909.8 629.9V655.7M913.1 633.6V659.4M915.8 622.3V657.2M917.6 614.9V658.9M920.5 632.8V666.3M923.0 629.9V660.9M926.1 637.2V654.3M931.8 627.4V657.3M934.7 638.4V658.3M938.4 635.0V661.1M943.4 641.2V664.1M945.2 634.8V664.6M947.5 623.6V666.5M950.2 638.6V669.1M953.4 656.4V674.5M956.1 649.9V678.6M960.3 642.4V684.3M962.5 659.9V687.9M966.9 673.4V695.3M970.6 664.9V696.8M973.9 669.1V691.9M977.1 659.9V698.9M980.5 669.9V702.8M985.1 659.9V702.6M988.0 684.5V703.2M991.0 682.5V707.2M994.2 652.4V715.9M997.5 687.5V718.4M1002.0 692.0V712.2M1005.1 690.0V712.0M1008.4 678.7V707.6M1011.5 660.5V705.0M1013.7 687.1V705.2M1016.7 678.7V702.4M1019.7 687.5V702.5M1022.9 681.2V699.0M1026.7 668.7V694.0M1030.4 675.0V693.6M1033.3 688.2V698.8M1037.6 673.1V700.2M1040.9 692.2V701.5M1044.0 687.5V708.3M1047.0 692.5V716.0M1050.0 691.7V716.5M1052.7 670.6V711.4M1056.9 686.0V713.9M1059.8 695.5V723.5M1063.7 692.8V727.5M1067.3 695.5V727.8M1070.8 706.3V732.3M1073.8 705.0V730.8M1077.4 705.0V731.4M1083.0 707.7V726.6M1085.8 717.2V731.2M1088.5 712.5V728.3M1091.6 635.2V728.8M1094.6 714.2V730.7M1098.2 722.7V741.1M1103.3 732.9V750.2M1106.2 739.0V754.7M1109.2 722.2V757.7M1112.9 743.1V763.7M1114.4 751.2V766.4M1117.1 746.1V764.6M1120.7 753.3V771.6M1122.8 753.3V774.5M1125.7 724.2V819.1" stroke="#00ffff" stroke-width="4.7"/>
<path d="M800.0 667.8V656.3M805.0 674.1V658.8M810.0 679.1V665.1M815.0 685.3V672.6M820.1 690.4V676.9M825.1 695.4V679.0M830.1 701.6V685.8M833.9 705.4V687.6M840.1 704.2V683.9M845.1 701.6V685.0M849.5 710.4V685.0M855.2 707.9V691.1M860.2 711.7V693.8M865.2 712.9V693.5M869.0 719.2V699.8M874.0 724.2V706.5M879.0 729.2V711.5M884.0 733.0V715.9M889.0 731.7V716.9M894.0 734.3V720.2M899.1 734.3V720.2M904.1 731.7V717.7M909.1 738.0V715.3M915.4 738.0V714.0M920.4 736.8V715.2M926.6 735.5V714.0M931.7 738.0V715.3M937.9 740.5V717.8M941.7 744.3V722.8M945.0 746.7V728.1M950.0 741.6V729.2M955.0 741.6V726.6M960.1 747.9V730.0M965.1 755.4V732.4M970.1 760.5V738.9M973.5 760.2V741.7M977.6 763.0V743.9M983.9 764.2V743.4M990.2 766.7V746.3M995.2 771.7V751.4M1000.2 775.5V753.9M1005.2 776.8V751.4M1009.0 778.0V747.7M1012.1 770.5V742.4M1015.2 776.8V747.5M1020.3 773.0V750.2M1025.3 775.5V752.7M1029.0 774.3V753.7M1032.8 771.7V755.2M1037.8 773.0V755.2M1042.8 775.5V755.2M1047.8 776.8V757.1M1052.9 778.0V756.1M1057.9 780.5V757.1M1060.0 779.2V757.7M1065.1 777.2V757.7M1069.2 778.2V756.8M1073.3 783.3V758.6M1077.3 788.4V761.4M1081.4 789.4V764.0M1085.5 793.5V767.3M1090.7 796.0V771.4M1097.4 802.7V776.5M1104.2 806.8V780.5M1109.6 809.5V784.5M1113.7 813.6V786.3M1115.7 821.7V787.3M1118.4 832.6V790.7M1121.1 843.4V800.2M1123.2 855.6V812.3M1124.3 869.8V818.3" stroke="#00ffff" stroke-width="4.7"/>
<path d="M147.0 527.7 L148.0 527.5 L149.0 527.2 L150.0 527.0 L151.0 526.9 L152.0 526.8 L153.0 526.6 L154.0 526.4 L155.0 526.1 L156.0 526.0 L157.0 525.9 L158.0 525.8 L159.0 525.5 L160.0 525.3 L161.0 525.1 L162.0 525.1 L163.0 525.0 L164.0 524.8 L165.0 524.5 L166.0 524.2 L167.0 524.1 L168.0 524.1 L169.0 523.9 L170.0 523.7 L171.0 523.4 L172.0 523.3 L173.0 523.2 L174.0 523.1 L175.0 522.8 L176.0 522.5 L177.0 522.3 L178.0 522.3 L179.0 522.2 L180.0 522.0 L181.0 521.7 L182.0 521.4 L183.0 521.3 L184.0 521.1 L185.0 521.0 L186.0 520.7 L187.0 520.4 L188.0 520.2 L189.0 520.1 L190.0 520.0 L191.0 519.7 L192.0 519.4 L193.0 519.1 L194.0 519.0 L195.0 518.8 L196.0 518.6 L197.0 518.3 L198.0 518.0 L199.0 517.8 L200.0 517.6 L201.0 517.5 L202.0 517.1 L203.0 516.7 L204.0 516.4 L205.0 516.3 L206.0 516.2 L207.0 515.9 L208.0 515.5 L209.0 515.2 L210.0 515.0 L211.0 514.7 L212.0 514.5 L213.0 514.0 L214.0 513.6 L215.0 513.3 L216.0 513.0 L217.0 512.8 L218.0 512.3 L219.0 511.8 L220.0 511.3 L221.0 511.1 L222.0 510.8 L223.0 510.3 L224.0 509.7 L225.0 509.1 L226.0 508.6 L227.0 508.2 L228.0 507.8 L229.0 507.4 L230.0 507.0 L231.0 506.7 L232.0 506.5 L233.0 506.4 L234.0 506.1 L235.0 505.7 L236.0 505.4 L237.0 505.2 L238.0 505.1 L239.0 504.9 L240.0 504.6 L241.0 504.3 L242.0 504.1 L243.0 504.1 L244.0 504.0 L245.0 503.7 L246.0 503.4 L247.0 503.1 L248.0 503.0 L249.0 503.0 L250.0 502.9 L251.0 502.6 L252.0 502.5 L253.0 502.4 L254.0 502.4 L255.0 502.4 L256.0 502.2 L257.0 502.0 L258.0 501.8 L259.0 501.8 L260.0 501.9 L261.0 501.7 L262.0 501.5 L263.0 501.3 L264.0 501.3 L265.0 501.3 L266.0 501.3 L267.0 501.1 L268.0 500.9 L269.0 500.9 L270.0 500.9 L271.0 500.9 L272.0 500.8 L273.0 500.6 L274.0 500.4 L275.0 500.5 L276.0 500.6 L277.0 500.7 L278.0 500.6 L279.0 500.5 L280.0 500.6 L281.0 500.8 L282.0 500.9 L283.0 500.9 L284.0 500.8 L285.0 500.8 L286.0 500.9 L287.0 500.9 L288.0 500.9 L289.0 500.6 L290.0 500.4 L291.0 500.5 L292.0 500.6 L293.0 500.6 L294.0 500.5 L295.0 500.5 L296.0 500.6 L297.0 500.8 L298.0 501.1 L299.0 501.1 L300.0 501.1 L301.0 501.1 L302.0 501.4 L303.0 501.6 L304.0 501.8 L305.0 501.7 L306.0 501.6 L307.0 501.8 L308.0 502.0 L309.0 502.3 L310.0 502.2 L311.0 502.0 L312.0 501.9 L313.0 502.1 L314.0 502.2 L315.0 502.2 L316.0 502.0 L317.0 501.9 L318.0 502.1 L319.0 502.4 L320.0 502.7 L321.0 502.7 L322.0 502.8 L323.0 503.0 L324.0 503.3 L325.0 503.8 L326.0 504.0 L327.0 504.4 L328.0 504.8 L329.0 505.4 L330.0 506.0 L331.0 506.5 L332.0 506.8 L333.0 506.9 L334.0 507.2 L335.0 507.6 L336.0 507.9 L337.0 507.8 L338.0 507.8 L339.0 507.8 L340.0 508.0 L341.0 508.3 L342.0 508.3 L343.0 508.2 L344.0 508.1 L345.0 508.3 L346.0 508.6 L347.0 508.8 L348.0 508.7 L349.0 508.7 L350.0 508.7 L351.0 509.0 L352.0 509.2 L353.0 509.2 L354.0 509.2 L355.0 509.2 L356.0 509.4 L357.0 509.5 L358.0 509.6 L359.0 509.5 L360.0 509.4 L361.0 509.4 L362.0 509.6 L363.0 509.8 L364.0 509.6 L365.0 509.4 L366.0 509.3 L367.0 509.4 L368.0 509.6 L369.0 509.5 L370.0 509.2 L371.0 509.0 L372.0 509.1 L373.0 509.2 L374.0 509.3 L375.0 509.1 L376.0 509.0 L377.0 509.0 L378.0 509.1 L379.0 509.3 L380.0 509.2 L381.0 509.0 L382.0 508.9 L383.0 509.0 L384.0 509.0 L385.0 508.9 L386.0 508.5 L387.0 508.0 L388.0 507.8 L389.0 507.7 L390.0 507.6 L391.0 507.0 L392.0 506.3 L393.0 505.5 L394.0 504.8 L395.0 504.1 L396.0 503.0 L397.0 501.7 L398.0 500.2 L399.0 499.0 L400.0 497.8 L401.0 496.4 L402.0 494.7 L403.0 492.8 L404.0 491.2 L405.0 489.6 L406.0 488.0 L407.0 486.1 L408.0 484.1 L409.0 482.2 L410.0 480.5 L411.0 478.9 L412.0 477.1 L413.0 475.1 L414.0 473.1 L415.0 471.3 L416.0 469.8 L417.0 468.4 L418.0 466.8 L419.0 465.2 L420.0 463.8 L421.0 462.5 L422.0 461.3 L423.0 459.8 L424.0 458.3 L425.0 456.8 L426.0 455.6 L427.0 454.4 L428.0 453.3 L429.0 452.0 L430.0 450.7 L431.0 449.5 L432.0 448.5 L433.0 447.6 L434.0 446.7 L435.0 445.8 L436.0 445.2 L437.0 444.9 L438.0 444.7 L439.0 444.3 L440.0 443.5 L441.0 442.6 L442.0 442.0 L443.0 441.5 L444.0 441.0 L445.0 440.1 L446.0 439.4 L447.0 439.0 L448.0 439.2 L449.0 439.3 L450.0 439.2 L451.0 438.9 L452.0 438.7 L453.0 438.9 L454.0 439.3 L455.0 439.6 L456.0 439.4 L457.0 439.3 L458.0 439.5 L459.0 440.0 L460.0 440.7 L461.0 440.7 L462.0 440.6 L463.0 440.6 L464.0 441.5 L465.0 442.8 L466.0 444.2 L467.0 445.3 L468.0 446.4 L469.0 448.3 L470.0 450.9 L471.0 453.9 L472.0 456.4" stroke="#ff0000" stroke-width="4.2"/><path d="M470.0 450.9 L471.0 453.9 L472.0 456.4 L473.0 459.0 L474.0 461.9 L475.0 465.6 L476.0 469.2 L477.0 472.6 L478.0 476.3 L479.0 480.5 L480.0 485.5 L481.0 490.7 L482.0 495.7 L483.0 500.3 L484.0 504.6 L485.0 509.0 L486.0 513.6 L487.0 518.1 L488.0 522.3 L489.0 526.3 L490.0 530.3 L491.0 534.6 L492.0 538.6 L493.0 542.4 L494.0 545.7 L495.0 549.1 L496.0 553.0 L497.0 556.9 L498.0 560.5 L499.0 563.0 L500.0 565.4 L501.0 568.0 L502.0 570.7 L503.0 572.8 L504.0 574.0 L505.0 573.8 L506.0 572.9 L507.0 572.2 L508.0 571.7 L509.0 571.1 L510.0 569.8 L511.0 568.6 L512.0 567.8 L513.0 567.3 L514.0 566.9 L515.0 566.1 L516.0 565.2 L517.0 564.3 L518.0 563.8 L519.0 563.3 L520.0 562.7 L521.0 561.8 L522.0 560.8 L523.0 560.4 L524.0 560.1 L525.0 559.9 L526.0 559.1 L527.0 558.1 L528.0 557.3 L529.0 556.7 L530.0 556.1 L531.0 555.1 L532.0 553.9 L533.0 552.7 L534.0 552.0 L535.0 551.4 L536.0 550.7 L537.0 549.4 L538.0 548.0 L539.0 547.2 L540.0 546.8 L541.0 546.4 L542.0 545.3 L543.0 544.0 L544.0 542.8 L545.0 542.3 L546.0 541.8 L547.0 541.0 L548.0 539.7 L549.0 538.5 L550.0 538.0 L551.0 537.9 L552.0 537.7 L553.0 536.9 L554.0 536.0 L555.0 535.6 L556.0 535.8 L557.0 536.3 L558.0 536.4 L559.0 536.1 L560.0 535.7" stroke="#ff0000" stroke-width="4.6"/><path d="M558.0 536.4 L559.0 536.1 L560.0 535.7 L561.0 536.1 L562.0 536.5 L563.0 536.6 L564.0 535.8 L565.0 535.1 L566.0 534.9 L567.0 535.1 L568.0 535.4 L569.0 535.0 L570.0 534.6 L571.0 534.3 L572.0 534.7 L573.0 535.5 L574.0 536.3 L575.0 536.8 L576.0 537.4 L577.0 538.7 L578.0 540.4 L579.0 542.2 L580.0 543.0 L581.0 543.9 L582.0 545.0 L583.0 546.5 L584.0 547.8 L585.0 548.7 L586.0 549.3 L587.0 549.8 L588.0 551.1 L589.0 552.4 L590.0 553.6 L591.0 554.1 L592.0 554.5 L593.0 555.3 L594.0 556.5 L595.0 557.3 L596.0 557.8 L597.0 558.3 L598.0 559.3 L599.0 561.1 L600.0 562.9 L601.0 564.3 L602.0 565.0" stroke="#ff0000" stroke-width="5.0"/><path d="M600.0 562.9 L601.0 564.3 L602.0 565.0 L603.0 565.8 L604.0 567.2 L605.0 568.7 L606.0 570.0 L607.0 570.2 L608.0 570.4 L609.0 570.8 L610.0 571.8 L611.0 572.7 L612.0 573.1 L613.0 573.2 L614.0 573.2 L615.0 574.1 L616.0 575.0 L617.0 575.8 L618.0 575.8 L619.0 575.9 L620.0 576.3 L621.0 576.9 L622.0 577.5 L623.0 577.3 L624.0 576.8 L625.0 576.4 L626.0 577.0 L627.0 577.5 L628.0 577.5 L629.0 576.7 L630.0 575.9 L631.0 575.7 L632.0 575.7 L633.0 575.7 L634.0 574.8 L635.0 573.6 L636.0 572.6 L637.0 572.3 L638.0 571.9 L639.0 570.5 L640.0 568.3 L641.0 565.8 L642.0 564.3 L643.0 563.1 L644.0 562.1 L645.0 560.6 L646.0 559.1 L647.0 558.3 L648.0 558.3 L649.0 558.4 L650.0 557.0 L651.0 554.9 L652.0 552.7 L653.0 551.7 L654.0 550.6 L655.0 549.4 L656.0 550.6 L657.0 554.3 L658.0 558.9 L659.0 560.9 L660.0 560.7 L661.0 558.6 L662.0 556.4 L663.0 554.7 L664.0 554.4 L665.0 554.5 L666.0 553.7 L667.0 552.3 L668.0 550.8 L669.0 550.5 L670.0 550.4 L671.0 550.0 L672.0 548.6 L673.0 547.0 L674.0 546.0 L675.0 545.6 L676.0 545.2 L677.0 544.0 L678.0 542.6 L679.0 541.7 L680.0 542.3 L681.0 543.4 L682.0 544.0 L683.0 543.7 L684.0 543.4 L685.0 543.8 L686.0 544.7 L687.0 545.9 L688.0 545.8 L689.0 545.9 L690.0 546.4 L691.0 547.8 L692.0 549.0" stroke="#ff0000" stroke-width="5.9"/><path d="M690.0 546.4 L691.0 547.8 L692.0 549.0 L693.0 549.2 L694.0 548.9 L695.0 548.9 L696.0 550.8 L697.0 553.0 L698.0 554.7 L699.0 554.9 L700.0 555.0 L701.0 555.9 L702.0 557.7 L703.0 559.7 L704.0 560.4 L705.0 560.6 L706.0 560.9 L707.0 562.7 L708.0 564.4 L709.0 565.4 L710.0 565.2 L711.0 565.1 L712.0 566.2 L713.0 567.9 L714.0 569.7 L715.0 569.6 L716.0 569.6 L717.0 570.1 L718.0 571.7 L719.0 573.2 L720.0 573.7 L721.0 573.5 L722.0 573.3 L723.0 574.9 L724.0 576.6 L725.0 577.8 L726.0 577.2 L727.0 576.5 L728.0 577.0 L729.0 578.8 L730.0 580.9 L731.0 581.2 L732.0 581.1 L733.0 581.2 L734.0 583.1 L735.0 585.0 L736.0 586.1 L737.0 586.2 L738.0 586.4 L739.0 588.2 L740.0 590.8 L741.0 593.4 L742.0 594.1 L743.0 594.7 L744.0 596.3 L745.0 599.0 L746.0 601.4 L747.0 601.7 L748.0 601.1 L749.0 600.4 L750.0 601.9 L751.0 603.6 L752.0 604.8" stroke="#ff0000" stroke-width="6.4"/><path d="M750.0 601.9 L751.0 603.6 L752.0 604.8 L753.0 604.7 L754.0 604.5 L755.0 605.3 L756.0 607.2 L757.0 609.1 L758.0 608.7 L759.0 607.8 L760.0 607.4 L761.0 610.0 L762.0 612.9 L763.0 614.8 L764.0 615.0 L765.0 615.1 L766.0 617.1 L767.0 619.7 L768.0 621.8 L769.0 620.6 L770.0 619.1 L771.0 618.4 L772.0 619.7 L773.0 621.8 L774.0 623.1 L775.0 623.9 L776.0 624.6 L777.0 627.2 L778.0 629.8 L779.0 631.6 L780.0 630.8 L781.0 629.9 L782.0 630.4 L783.0 632.6 L784.0 634.8 L785.0 634.4 L786.0 633.5 L787.0 633.2 L788.0 635.8 L789.0 638.5 L790.0 639.8 L791.0 639.1 L792.0 638.2 L793.0 639.4 L794.0 641.5 L795.0 643.5 L796.0 642.7 L797.0 641.9 L798.0 641.7 L799.0 643.3 L800.0 645.0 L801.0 645.5 L802.0 645.2 L803.0 645.0 L804.0 647.1 L805.0 649.1" stroke="#ff0000" stroke-width="6.8"/>
<path d="M689.0 545.9 L690.0 546.4 L691.0 547.8 L692.0 549.0 L693.0 549.2 L694.0 548.9 L695.0 548.9 L696.0 550.8 L697.0 553.0 L698.0 554.7 L699.0 554.9 L700.0 555.0 L701.0 555.9 L702.0 557.7 L703.0 559.7 L704.0 560.4 L705.0 560.6 L706.0 560.9 L707.0 562.7 L708.0 564.4 L709.0 565.4 L710.0 565.2 L711.0 565.1 L712.0 566.2 L713.0 567.9 L714.0 569.7 L715.0 569.6 L716.0 569.6 L717.0 570.1 L718.0 571.7 L719.0 573.2 L720.0 573.7 L721.0 573.5 L722.0 573.3 L723.0 574.9 L724.0 576.6 L725.0 577.8 L726.0 577.2 L727.0 576.5 L728.0 577.0 L729.0 578.8 L730.0 580.9 L731.0 581.2 L732.0 581.1 L733.0 581.2 L734.0 583.1 L735.0 585.0 L736.0 586.1 L737.0 586.2 L738.0 586.4 L739.0 588.2 L740.0 590.8 L741.0 593.4 L742.0 594.1 L743.0 594.7 L744.0 596.3 L745.0 599.0 L746.0 601.4 L747.0 601.7 L748.0 601.1 L749.0 600.4 L750.0 601.9 L751.0 603.6 L752.0 604.8 L753.0 604.7 L754.0 604.5 L755.0 605.3 L756.0 607.2 L757.0 609.1 L758.0 608.7 L759.0 607.8 L760.0 607.4 L761.0 610.0 L762.0 612.9 L763.0 614.8 L764.0 615.0 L765.0 615.1 L766.0 617.1 L767.0 619.7 L768.0 621.8 L769.0 620.6 L770.0 619.1 L771.0 618.4 L772.0 619.7 L773.0 621.8 L774.0 623.1 L775.0 623.9 L776.0 624.6 L777.0 627.2 L778.0 629.8 L779.0 631.6 L780.0 630.8 L781.0 629.9 L782.0 630.4 L783.0 632.6 L784.0 634.8 L785.0 634.4 L786.0 633.5 L787.0 633.2 L788.0 635.8 L789.0 638.5 L790.0 639.8 L791.0 639.1 L792.0 638.2 L793.0 639.4 L794.0 641.5 L795.0 643.5 L796.0 642.7 L797.0 641.9 L798.0 641.7 L799.0 643.3 L800.0 645.0 L801.0 645.5 L802.0 645.2 L803.0 645.0 L804.0 647.1 L805.0 649.1 L805.0 663.2 L804.0 661.1 L803.0 659.0 L802.0 660.2 L801.0 661.4 L800.0 661.1 L799.0 658.9 L798.0 656.7 L797.0 656.5 L796.0 657.2 L795.0 657.8 L794.0 655.1 L793.0 652.3 L792.0 650.6 L791.0 651.5 L790.0 652.3 L789.0 651.2 L788.0 648.7 L787.0 646.3 L786.0 646.2 L785.0 646.4 L784.0 646.1 L783.0 644.0 L782.0 642.0 L781.0 641.0 L780.0 641.0 L779.0 640.9 L778.0 638.8 L777.0 636.1 L776.0 633.5 L775.0 632.9 L774.0 632.2 L773.0 630.9 L772.0 628.9 L771.0 627.9 L770.0 629.5 L769.0 631.6 L768.0 633.2 L767.0 631.8 L766.0 630.2 L765.0 629.4 L764.0 629.6 L763.0 629.2 L762.0 626.7 L761.0 623.0 L760.0 619.7 L759.0 618.7 L758.0 618.2 L757.0 617.5 L756.0 615.5 L755.0 613.7 L754.0 612.9 L753.0 613.1 L752.0 613.2 L751.0 611.7 L750.0 609.8 L749.0 608.3 L748.0 609.0 L747.0 609.6 L746.0 609.5 L745.0 609.2 L744.0 608.9 L743.0 609.7 L742.0 610.0 L741.0 610.0 L740.0 607.4 L739.0 604.4 L738.0 601.9 L737.0 601.3 L736.0 601.1 L735.0 599.9 L734.0 598.0 L733.0 596.2 L732.0 595.7 L731.0 595.3 L730.0 594.6 L729.0 592.6 L728.0 590.7 L727.0 589.7 L726.0 589.8 L725.0 590.0 L724.0 588.9 L723.0 587.6 L722.0 586.4 L721.0 586.5 L720.0 586.4 L719.0 585.5 L718.0 583.5 L717.0 581.5 L716.0 580.9 L715.0 580.8 L714.0 580.9 L713.0 579.1 L712.0 577.5 L711.0 576.5 L710.0 576.8 L709.0 576.9 L708.0 575.7 L707.0 573.6 L706.0 571.5 L705.0 570.8 L704.0 570.2 L703.0 569.1 L702.0 566.4 L701.0 563.6 L700.0 561.9 L699.0 561.2 L698.0 560.5 L697.0 558.7 L696.0 556.8 L695.0 555.0 L694.0 554.4 L693.0 553.9 L692.0 553.0 L691.0 551.4 L690.0 549.6 L689.0 548.8 Z" fill="#ff0000" stroke="none"/>
<path d="M800.0 647.7 L800.5 647.8 L801.0 648.0 L801.5 648.2 L802.0 648.5 L802.5 648.7 L803.0 649.0 L803.5 649.2 L804.0 649.6 L804.5 650.0 L805.0 650.5 L805.5 651.0 L806.0 651.7 L806.5 652.5 L807.0 653.3 L807.5 654.1 L808.0 655.0 L808.5 655.8 L809.0 656.6 L809.5 657.5 L810.0 658.3 L810.5 659.1 L811.0 660.0 L811.5 660.7 L812.0 661.2 L812.5 661.7 L813.0 662.0 L813.5 662.2 L814.0 662.2 L814.5 662.1 L815.0 662.0 L815.5 661.9 L816.0 661.8 L816.5 661.7 L817.0 661.6 L817.5 661.6 L818.0 661.6 L818.5 661.7 L819.0 662.0 L819.5 662.3 L820.0 662.8 L820.5 663.3 L821.0 663.9 L821.5 664.5 L822.0 665.1 L822.5 665.7 L823.0 666.3 L823.5 666.9 L824.0 667.6 L824.5 668.4 L825.0 669.3 L825.5 670.3 L826.0 671.4 L826.5 672.6 L827.0 673.9 L827.5 675.2 L828.0 676.3 L828.5 677.3 L829.0 678.1 L829.5 678.8 L830.0 679.3 L830.5 679.6 L831.0 679.9 L831.5 680.1 L832.0 680.4 L832.5 680.6 L833.0 680.9 L833.5 681.1 L834.0 681.4 L834.5 681.6 L835.0 681.9 L835.5 682.1 L836.0 682.4 L836.5 682.6 L837.0 682.9 L837.5 683.1 L838.0 683.1 L838.5 682.9 L839.0 682.4 L839.5 681.8 L840.0 681.0 L840.5 679.9 L841.0 679.0 L841.5 678.5 L842.0 678.2 L842.5 678.3 L843.0 678.6 L843.5 679.3 L844.0 680.2 L844.5 680.9 L845.0 681.6 L845.5 682.0 L846.0 682.4 L846.5 682.5 L847.0 682.6 L847.5 682.5 L848.0 682.1 L848.5 681.4 L849.0 680.4 L849.5 679.1 L850.0 677.5 L850.5 676.2 L851.0 675.3 L851.5 675.0 L852.0 675.3 L852.5 676.2 L853.0 677.7 L853.5 679.7 L854.0 681.5 L854.5 683.1 L855.0 684.5 L855.5 685.6 L856.0 686.5 L856.5 687.1 L857.0 687.6 L857.5 687.9 L858.0 688.1 L858.5 688.3 L859.0 688.3 L859.5 688.3 L860.0 688.2 L860.5 688.1 L861.0 687.8 L861.5 687.6 L862.0 687.3 L862.5 687.1 L863.0 687.0 L863.5 687.0 L864.0 687.2 L864.5 687.4 L865.0 687.9 L865.5 688.4 L866.0 689.1 L866.5 689.8 L867.0 690.5 L867.5 691.2 L868.0 691.9 L868.5 692.7 L869.0 693.5 L869.5 694.3 L870.0 695.2 L870.5 696.0 L871.0 696.7 L871.5 697.4 L872.0 698.0 L872.5 698.6 L873.0 699.2 L873.5 699.7 L874.0 700.2 L874.5 700.7 L875.0 701.2 L875.5 701.7 L876.0 702.2 L876.5 702.7 L877.0 703.2 L877.5 703.7 L878.0 704.2 L878.5 704.7 L879.0 705.2 L879.5 705.7 L880.0 706.2 L880.5 706.7 L881.0 707.2 L881.5 707.8 L882.0 708.3 L882.5 708.9 L883.0 709.5 L883.5 710.2 L884.0 710.8 L884.5 711.4 L885.0 712.0 L885.5 712.5 L886.0 712.7 L886.5 712.8 L887.0 712.7 L887.5 712.4 L888.0 711.9 L888.5 711.3 L889.0 710.7 L889.5 710.3 L890.0 710.1 L890.5 710.1 L891.0 710.3 L891.5 710.6 L892.0 711.2 L892.5 711.9 L893.0 712.4 L893.5 712.8 L894.0 713.1 L894.5 713.3 L895.0 713.3 L895.5 713.2 L896.0 712.9 L896.5 712.7 L897.0 712.4 L897.5 712.2 L898.0 711.9 L898.5 711.5 L899.0 710.9 L899.5 710.3 L900.0 709.7 L900.5 708.9 L901.0 708.0 L901.5 707.1 L902.0 706.3 L902.5 705.4 L903.0 704.6 L903.5 704.0 L904.0 703.6 L904.5 703.2 L905.0 703.1 L905.5 703.0 L906.0 703.1 L906.5 703.2 L907.0 703.4 L907.5 703.5 L908.0 703.6 L908.5 703.7 L909.0 703.8 L909.5 703.8 L910.0 703.9 L910.5 703.9 L911.0 703.9 L911.5 703.9 L912.0 703.9 L912.5 703.9 L913.0 703.9 L913.5 703.9 L914.0 703.9 L914.5 703.9 L915.0 703.8 L915.5 703.8 L916.0 703.7 L916.5 703.6 L917.0 703.5 L917.5 703.4 L918.0 703.2 L918.5 703.1 L919.0 703.0 L919.5 702.8 L920.0 702.6 L920.5 702.4 L921.0 702.2 L921.5 701.9 L922.0 701.7 L922.5 701.4 L923.0 701.1 L923.5 700.8 L924.0 700.5 L924.5 700.2 L925.0 699.9 L925.5 699.6 L926.0 699.5 L926.5 699.4 L927.0 699.4 L927.5 699.4 L928.0 699.6 L928.5 699.8 L929.0 700.1 L929.5 700.3 L930.0 700.6 L930.5 700.8 L931.0 701.0 L931.5 701.3 L932.0 701.5 L932.5 701.7 L933.0 701.9 L933.5 702.1 L934.0 702.3 L934.5 702.5 L935.0 702.7 L935.5 702.9 L936.0 703.1 L936.5 703.3 L937.0 703.7 L937.5 704.1 L938.0 704.7 L938.5 705.3 L939.0 706.1 L939.5 707.0 L940.0 708.0 L940.5 709.0 L941.0 709.8 L941.5 710.6 L942.0 711.2 L942.5 711.7 L943.0 712.2 L943.5 712.5 L944.0 712.9 L944.5 713.2 L945.0 713.5 L945.5 713.8 L946.0 714.1 L946.5 714.5 L947.0 715.0 L947.5 715.6 L948.0 716.3 L948.5 717.1 L949.0 718.0 L949.5 719.0 L950.0 719.9 L950.5 720.5 L951.0 720.9 L951.5 721.0 L952.0 720.8 L952.5 720.4 L953.0 719.7 L953.5 718.9 L954.0 718.1 L954.5 717.4 L955.0 716.8 L955.5 716.2 L956.0 715.8 L956.5 715.3 L957.0 715.0 L957.5 714.7 L958.0 714.6 L958.5 714.7 L959.0 714.9 L959.5 715.3 L960.0 715.9 L960.5 716.6 L961.0 717.5 L961.5 718.2 L962.0 718.8 L962.5 719.3 L963.0 719.7 L963.5 719.9 L964.0 720.1 L964.5 720.1 L965.0 720.1 L965.5 720.1 L966.0 720.3 L966.5 720.7 L967.0 721.3 L967.5 722.2 L968.0 723.2 L968.5 724.4 L969.0 725.6 L969.5 726.7 L970.0 727.6 L970.5 728.3 L971.0 728.8 L971.5 729.1 L972.0 729.2 L972.5 729.3 L973.0 729.4 L973.5 729.5 L974.0 729.6 L974.5 729.7 L975.0 729.8 L975.5 730.0 L976.0 730.2 L976.5 730.4 L977.0 730.7 L977.5 731.0 L978.0 731.3 L978.5 731.7 L979.0 732.1 L979.5 732.5 L980.0 732.8 L980.5 733.1 L981.0 733.4 L981.5 733.6 L982.0 733.7 L982.5 733.8 L983.0 733.9 L983.5 733.9 L984.0 733.9 L984.5 733.9 L985.0 733.9 L985.5 734.1 L986.0 734.4 L986.5 734.8 L987.0 735.4 L987.5 736.2 L988.0 737.1 L988.5 738.1 L989.0 739.0 L989.5 739.7 L990.0 740.3 L990.5 740.7 L991.0 740.9 L991.5 741.0 L992.0 740.9 L992.5 740.8 L993.0 740.7 L993.5 740.6 L994.0 740.5 L994.5 740.5 L995.0 740.5 L995.5 740.6 L996.0 740.8 L996.5 741.0 L997.0 741.4 L997.5 741.7 L998.0 741.7 L998.5 741.6 L999.0 741.3 L999.5 740.7 L1000.0 740.0 L1000.5 739.0 L1001.0 737.8 L1001.5 736.8 L1002.0 735.9 L1002.5 735.3 L1003.0 734.9 L1003.5 734.6 L1004.0 734.6 L1004.5 734.8 L1005.0 735.0 L1005.5 735.3 L1006.0 735.5 L1006.5 735.6 L1007.0 735.5 L1007.5 735.1 L1008.0 734.4 L1008.5 733.5 L1009.0 732.4 L1009.5 731.0 L1010.0 729.5 L1010.5 728.4 L1011.0 727.7 L1011.5 727.4 L1012.0 727.4 L1012.5 727.8 L1013.0 728.6 L1013.5 729.8 L1014.0 730.9 L1014.5 731.7 L1015.0 732.3 L1015.5 732.7 L1016.0 732.9 L1016.5 732.9 L1017.0 732.7 L1017.5 732.4 L1018.0 732.3 L1018.5 732.6 L1019.0 733.1 L1019.5 734.0 L1020.0 735.2 L1020.5 736.4 L1021.0 737.7 L1021.5 738.8 L1022.0 739.7 L1022.5 740.3 L1023.0 740.7 L1023.5 740.9 L1024.0 741.1 L1024.5 741.3 L1025.0 741.5 L1025.5 741.7 L1026.0 741.9 L1026.5 742.1 L1027.0 742.3 L1027.5 742.4 L1028.0 742.5 L1028.5 742.6 L1029.0 742.6 L1029.5 742.6 L1030.0 742.6 L1030.5 742.6 L1031.0 742.6 L1031.5 742.7 L1032.0 742.7 L1032.5 742.8 L1033.0 742.9 L1033.5 743.0 L1034.0 743.1 L1034.5 743.3 L1035.0 743.5 L1035.5 743.7 L1036.0 743.9 L1036.5 744.1 L1037.0 744.3 L1037.5 744.5 L1038.0 744.4 L1038.5 744.1 L1039.0 743.4 L1039.5 742.3 L1040.0 741.0 L1040.5 739.4 L1041.0 737.7 L1041.5 736.4 L1042.0 735.6 L1042.5 735.2 L1043.0 735.4 L1043.5 735.9 L1044.0 736.9 L1044.5 738.0 L1045.0 739.0 L1045.5 739.9 L1046.0 740.8 L1046.5 741.5 L1047.0 742.2 L1047.5 742.8 L1048.0 743.5 L1048.5 744.1 L1049.0 744.6 L1049.5 744.6 L1050.0 744.0 L1050.5 743.1 L1051.0 741.6 L1051.5 739.6 L1052.0 737.2 L1052.5 735.4 L1053.0 734.7 L1053.5 734.9 L1054.0 736.2 L1054.5 738.5 L1055.0 741.1 L1055.5 744.2 L1056.0 746.6 L1056.5 748.4 L1057.0 749.6 L1057.5 750.2 L1058.0 750.2 L1058.5 750.2 L1059.0 750.2 L1059.5 750.1 L1060.0 750.1 L1060.5 750.0 L1061.0 749.9 L1061.5 749.8 L1062.0 749.7 L1062.5 749.6 L1063.0 749.4 L1063.5 749.4 L1064.0 749.3 L1064.5 749.3 L1065.0 749.4 L1065.5 749.5 L1066.0 749.6 L1066.5 749.7 L1067.0 749.8 L1067.5 749.9 L1068.0 749.9 L1068.5 749.8 L1069.0 749.7 L1069.5 749.6 L1070.0 749.4 L1070.5 749.2 L1071.0 749.0 L1071.5 748.8 L1072.0 748.5 L1072.5 748.0 L1073.0 747.4 L1073.5 746.5 L1074.0 745.7 L1074.5 745.1 L1075.0 744.8 L1075.5 744.9 L1076.0 745.4 L1076.5 746.2 L1077.0 747.3 L1077.5 748.5 L1078.0 749.5 L1078.5 750.3 L1079.0 750.3 L1079.5 749.8 L1080.0 748.7 L1080.5 747.2 L1081.0 745.7 L1081.5 744.2 L1082.0 742.8 L1082.5 742.0 L1083.0 741.6 L1083.5 741.7 L1084.0 742.3 L1084.5 742.8 L1085.0 743.1 L1085.5 743.3 L1086.0 743.4 L1086.5 743.4 L1087.0 743.3 L1087.5 743.0 L1088.0 742.8 L1088.5 742.6 L1089.0 742.6 L1089.5 742.6 L1090.0 742.8 L1090.5 743.0 L1091.0 743.4 L1091.5 743.9 L1092.0 744.4 L1092.5 744.9 L1093.0 745.5 L1093.5 746.2 L1094.0 746.8 L1094.5 747.6 L1095.0 748.3 L1095.5 749.2 L1096.0 750.1 L1096.5 751.0 L1097.0 752.1 L1097.5 753.1 L1098.0 754.2 L1098.5 755.3 L1099.0 756.4 L1099.5 757.4 L1100.0 758.3 L1100.5 759.1 L1101.0 759.9 L1101.5 760.6 L1102.0 761.2 L1102.5 761.8 L1103.0 762.4 L1103.5 763.0 L1104.0 763.5 L1104.5 764.0 L1105.0 764.5 L1105.5 765.1 L1106.0 765.6 L1106.5 766.2 L1107.0 766.8 L1107.5 767.4 L1108.0 768.1 L1108.5 768.9 L1109.0 769.6 L1109.5 770.4 L1110.0 771.3 L1110.5 772.4 L1111.0 773.7 L1111.5 775.2 L1112.0 776.5 L1112.5 777.7 L1113.0 778.7 L1113.5 779.3 L1114.0 779.6 L1114.5 779.6 L1115.0 779.2 L1115.5 778.8 L1116.0 778.7 L1116.5 778.7 L1117.0 779.0 L1117.5 779.5 L1118.0 780.3 L1118.5 781.3 L1119.0 782.6 L1119.5 784.0 L1120.0 785.4 L1120.5 786.7 L1121.0 788.0 L1121.5 789.3 L1122.0 790.7 L1122.5 792.5 L1123.0 797.1 L1123.5 802.1 L1124.0 807.3 L1124.5 812.8 L1125.0 818.8 L1125.5 825.0 L1126.0 831.3 L1126.5 835.1 L1127.0 839.1 L1127.5 843.1 L1128.0 847.3 L1128.5 851.5 L1129.0 855.7 L1129.5 859.9 L1130.0 864.7 L1130.5 868.9 L1131.0 872.6 L1131.5 875.7 L1132.0 878.2 L1132.5 880.0 L1133.0 881.2 L1133.5 881.2 L1134.0 881.2 L1134.5 881.2 L1135.0 881.2 L1135.0 881.2 L1134.5 881.2 L1134.0 881.2 L1133.5 881.2 L1133.0 881.2 L1132.5 880.0 L1132.0 878.2 L1131.5 875.7 L1131.0 872.6 L1130.5 868.9 L1130.0 864.7 L1129.5 859.9 L1129.0 855.7 L1128.5 851.5 L1128.0 847.3 L1127.5 843.1 L1127.0 839.1 L1126.5 835.1 L1126.0 831.3 L1125.5 825.0 L1125.0 818.8 L1124.5 812.8 L1124.0 807.3 L1123.5 802.1 L1123.0 798.0 L1122.5 797.2 L1122.0 796.2 L1121.5 795.1 L1121.0 793.8 L1120.5 792.4 L1120.0 791.1 L1119.5 789.9 L1119.0 788.9 L1118.5 787.9 L1118.0 787.1 L1117.5 786.3 L1117.0 785.6 L1116.5 785.1 L1116.0 784.6 L1115.5 784.1 L1115.0 783.7 L1114.5 783.3 L1114.0 782.9 L1113.5 782.6 L1113.0 782.2 L1112.5 781.8 L1112.0 781.4 L1111.5 781.0 L1111.0 780.6 L1110.5 780.1 L1110.0 779.5 L1109.5 778.9 L1109.0 778.2 L1108.5 777.4 L1108.0 776.6 L1107.5 775.9 L1107.0 775.2 L1106.5 774.6 L1106.0 774.1 L1105.5 773.8 L1105.0 773.5 L1104.5 773.2 L1104.0 773.0 L1103.5 772.8 L1103.0 772.7 L1102.5 772.5 L1102.0 772.5 L1101.5 772.4 L1101.0 772.4 L1100.5 772.4 L1100.0 772.3 L1099.5 772.1 L1099.0 771.8 L1098.5 771.3 L1098.0 770.6 L1097.5 769.8 L1097.0 769.0 L1096.5 768.2 L1096.0 767.7 L1095.5 767.3 L1095.0 767.2 L1094.5 767.2 L1094.0 767.4 L1093.5 767.4 L1093.0 767.4 L1092.5 767.1 L1092.0 766.6 L1091.5 765.9 L1091.0 765.1 L1090.5 764.2 L1090.0 763.4 L1089.5 762.7 L1089.0 762.0 L1088.5 761.5 L1088.0 761.0 L1087.5 760.7 L1087.0 760.3 L1086.5 759.9 L1086.0 759.6 L1085.5 759.4 L1085.0 759.1 L1084.5 758.9 L1084.0 758.7 L1083.5 758.6 L1083.0 758.4 L1082.5 758.3 L1082.0 758.1 L1081.5 758.0 L1081.0 757.9 L1080.5 757.7 L1080.0 757.6 L1079.5 757.4 L1079.0 757.3 L1078.5 757.3 L1078.0 757.2 L1077.5 757.1 L1077.0 757.1 L1076.5 757.1 L1076.0 757.7 L1075.5 758.3 L1075.0 758.8 L1074.5 759.3 L1074.0 759.7 L1073.5 760.1 L1073.0 760.4 L1072.5 760.1 L1072.0 759.7 L1071.5 759.4 L1071.0 759.1 L1070.5 758.9 L1070.0 758.8 L1069.5 758.8 L1069.0 758.9 L1068.5 759.0 L1068.0 759.1 L1067.5 759.2 L1067.0 759.3 L1066.5 759.5 L1066.0 759.5 L1065.5 759.6 L1065.0 759.7 L1064.5 759.7 L1064.0 759.7 L1063.5 759.7 L1063.0 759.7 L1062.5 759.7 L1062.0 759.7 L1061.5 759.7 L1061.0 759.7 L1060.5 759.7 L1060.0 759.7 L1059.5 759.6 L1059.0 759.5 L1058.5 759.3 L1058.0 759.2 L1057.5 758.9 L1057.0 758.7 L1056.5 758.4 L1056.0 758.2 L1055.5 757.9 L1055.0 757.8 L1054.5 757.7 L1054.0 757.8 L1053.5 757.9 L1053.0 758.0 L1052.5 758.3 L1052.0 758.6 L1051.5 758.9 L1051.0 759.2 L1050.5 759.3 L1050.0 759.4 L1049.5 759.4 L1049.0 759.4 L1048.5 759.3 L1048.0 759.2 L1047.5 759.0 L1047.0 758.9 L1046.5 758.8 L1046.0 758.6 L1045.5 758.4 L1045.0 758.3 L1044.5 758.0 L1044.0 757.8 L1043.5 757.6 L1043.0 757.3 L1042.5 757.1 L1042.0 756.8 L1041.5 756.6 L1041.0 756.5 L1040.5 756.4 L1040.0 756.4 L1039.5 756.5 L1039.0 756.7 L1038.5 756.9 L1038.0 757.1 L1037.5 757.4 L1037.0 757.6 L1036.5 757.8 L1036.0 758.0 L1035.5 758.0 L1035.0 758.0 L1034.5 758.0 L1034.0 757.8 L1033.5 757.6 L1033.0 757.3 L1032.5 757.1 L1032.0 756.8 L1031.5 756.6 L1031.0 756.4 L1030.5 756.2 L1030.0 756.0 L1029.5 755.8 L1029.0 755.7 L1028.5 755.5 L1028.0 755.4 L1027.5 755.3 L1027.0 755.2 L1026.5 755.0 L1026.0 754.9 L1025.5 754.7 L1025.0 754.5 L1024.5 754.3 L1024.0 754.1 L1023.5 753.8 L1023.0 753.6 L1022.5 753.3 L1022.0 753.1 L1021.5 752.8 L1021.0 752.6 L1020.5 752.3 L1020.0 752.1 L1019.5 751.8 L1019.0 751.6 L1018.5 751.3 L1018.0 751.1 L1017.5 750.8 L1017.0 750.6 L1016.5 750.3 L1016.0 749.9 L1015.5 749.4 L1015.0 748.9 L1014.5 748.2 L1014.0 747.4 L1013.5 746.6 L1013.0 746.0 L1012.5 745.7 L1012.0 745.6 L1011.5 745.8 L1011.0 746.3 L1010.5 746.9 L1010.0 747.8 L1009.5 748.6 L1009.0 749.3 L1008.5 750.0 L1008.0 750.6 L1007.5 751.2 L1007.0 751.7 L1006.5 752.2 L1006.0 752.6 L1005.5 753.0 L1005.0 753.4 L1004.5 753.7 L1004.0 754.1 L1003.5 754.3 L1003.0 754.6 L1002.5 754.8 L1002.0 755.1 L1001.5 755.3 L1001.0 755.5 L1000.5 755.5 L1000.0 755.5 L999.5 755.5 L999.0 755.3 L998.5 755.1 L998.0 754.9 L997.5 754.6 L997.0 754.4 L996.5 754.1 L996.0 753.8 L995.5 753.5 L995.0 753.1 L994.5 752.7 L994.0 752.3 L993.5 751.8 L993.0 751.3 L992.5 750.8 L992.0 750.3 L991.5 749.7 L991.0 749.2 L990.5 748.7 L990.0 748.1 L989.5 747.5 L989.0 747.0 L988.5 746.4 L988.0 745.9 L987.5 745.5 L987.0 745.3 L986.5 745.1 L986.0 745.0 L985.5 745.0 L985.0 745.1 L984.5 745.3 L984.0 745.4 L983.5 745.5 L983.0 745.6 L982.5 745.7 L982.0 745.8 L981.5 745.8 L981.0 745.9 L980.5 745.9 L980.0 745.9 L979.5 745.9 L979.0 745.9 L978.5 745.9 L978.0 745.9 L977.5 745.9 L977.0 745.8 L976.5 745.7 L976.0 745.4 L975.5 745.2 L975.0 744.8 L974.5 744.5 L974.0 744.1 L973.5 743.7 L973.0 743.3 L972.5 742.9 L972.0 742.5 L971.5 742.0 L971.0 741.6 L970.5 741.0 L970.0 740.4 L969.5 739.8 L969.0 739.1 L968.5 738.3 L968.0 737.4 L967.5 736.7 L967.0 736.0 L966.5 735.4 L966.0 735.0 L965.5 734.6 L965.0 734.4 L964.5 734.2 L964.0 734.1 L963.5 734.0 L963.0 733.8 L962.5 733.7 L962.0 733.4 L961.5 733.2 L961.0 732.8 L960.5 732.4 L960.0 731.9 L959.5 731.4 L959.0 730.8 L958.5 730.2 L958.0 729.7 L957.5 729.2 L957.0 728.8 L956.5 728.6 L956.0 728.5 L955.5 728.5 L955.0 728.6 L954.5 728.9 L954.0 729.2 L953.5 729.5 L953.0 729.8 L952.5 730.1 L952.0 730.4 L951.5 730.6 L951.0 730.9 L950.5 731.0 L950.0 731.2 L949.5 731.3 L949.0 731.5 L948.5 731.6 L948.0 731.7 L947.5 731.8 L947.0 731.7 L946.5 731.5 L946.0 731.1 L945.5 730.7 L945.0 730.0 L944.5 729.3 L944.0 728.5 L943.5 727.7 L943.0 726.9 L942.5 726.1 L942.0 725.3 L941.5 724.6 L941.0 723.9 L940.5 723.2 L940.0 722.5 L939.5 721.8 L939.0 721.2 L938.5 720.7 L938.0 720.2 L937.5 719.8 L937.0 719.5 L936.5 719.2 L936.0 719.0 L935.5 718.8 L935.0 718.6 L934.5 718.4 L934.0 718.2 L933.5 718.0 L933.0 717.8 L932.5 717.6 L932.0 717.4 L931.5 717.2 L931.0 717.1 L930.5 717.0 L930.0 716.8 L929.5 716.7 L929.0 716.6 L928.5 716.4 L928.0 716.3 L927.5 716.2 L927.0 716.2 L926.5 716.2 L926.0 716.2 L925.5 716.2 L925.0 716.3 L924.5 716.4 L924.0 716.5 L923.5 716.6 L923.0 716.7 L922.5 716.8 L922.0 716.9 L921.5 717.0 L921.0 717.0 L920.5 717.0 L920.0 717.0 L919.5 717.0 L919.0 716.9 L918.5 716.8 L918.0 716.6 L917.5 716.5 L917.0 716.4 L916.5 716.3 L916.0 716.2 L915.5 716.2 L915.0 716.2 L914.5 716.2 L914.0 716.3 L913.5 716.4 L913.0 716.5 L912.5 716.6 L912.0 716.7 L911.5 716.8 L911.0 716.9 L910.5 717.0 L910.0 717.1 L909.5 717.2 L909.0 717.4 L908.5 717.6 L908.0 717.8 L907.5 718.0 L907.0 718.3 L906.5 718.5 L906.0 718.8 L905.5 719.0 L905.0 719.3 L904.5 719.5 L904.0 719.8 L903.5 720.0 L903.0 720.3 L902.5 720.5 L902.0 720.8 L901.5 721.0 L901.0 721.3 L900.5 721.5 L900.0 721.7 L899.5 721.9 L899.0 722.0 L898.5 722.2 L898.0 722.2 L897.5 722.3 L897.0 722.3 L896.5 722.3 L896.0 722.3 L895.5 722.2 L895.0 722.2 L894.5 722.0 L894.0 721.8 L893.5 721.5 L893.0 721.1 L892.5 720.7 L892.0 720.2 L891.5 719.8 L891.0 719.4 L890.5 719.2 L890.0 719.0 L889.5 718.9 L889.0 719.0 L888.5 719.1 L888.0 719.2 L887.5 719.3 L887.0 719.3 L886.5 719.3 L886.0 719.1 L885.5 718.9 L885.0 718.6 L884.5 718.2 L884.0 717.9 L883.5 717.5 L883.0 717.1 L882.5 716.7 L882.0 716.3 L881.5 715.9 L881.0 715.4 L880.5 715.0 L880.0 714.5 L879.5 714.0 L879.0 713.5 L878.5 713.0 L878.0 712.5 L877.5 712.0 L877.0 711.5 L876.5 711.0 L876.0 710.5 L875.5 710.0 L875.0 709.5 L874.5 709.0 L874.0 708.5 L873.5 708.0 L873.0 707.5 L872.5 706.9 L872.0 706.3 L871.5 705.7 L871.0 705.0 L870.5 704.3 L870.0 703.5 L869.5 702.7 L869.0 701.8 L868.5 701.0 L868.0 700.2 L867.5 699.3 L867.0 698.5 L866.5 697.7 L866.0 696.8 L865.5 696.0 L865.0 695.3 L864.5 694.8 L864.0 694.4 L863.5 694.3 L863.0 694.2 L862.5 694.4 L862.0 694.7 L861.5 695.0 L861.0 695.2 L860.5 695.4 L860.0 695.4 L859.5 695.4 L859.0 695.3 L858.5 695.1 L858.0 694.8 L857.5 694.6 L857.0 694.3 L856.5 694.0 L856.0 693.5 L855.5 692.7 L855.0 691.7 L854.5 690.6 L854.0 689.3 L853.5 688.1 L853.0 687.0 L852.5 686.3 L852.0 685.8 L851.5 685.7 L851.0 685.9 L850.5 686.3 L850.0 686.6 L849.5 687.0 L849.0 687.4 L848.5 687.6 L848.0 687.8 L847.5 687.9 L847.0 687.9 L846.5 687.7 L846.0 687.4 L845.5 687.0 L845.0 686.5 L844.5 685.9 L844.0 685.3 L843.5 684.5 L843.0 684.0 L842.5 683.7 L842.0 683.7 L841.5 683.9 L841.0 684.4 L840.5 685.1 L840.0 686.0 L839.5 686.8 L839.0 687.5 L838.5 688.0 L838.0 688.4 L837.5 688.7 L837.0 688.9 L836.5 689.0 L836.0 689.1 L835.5 689.2 L835.0 689.3 L834.5 689.4 L834.0 689.3 L833.5 689.3 L833.0 689.1 L832.5 689.0 L832.0 688.7 L831.5 688.5 L831.0 688.2 L830.5 688.0 L830.0 687.7 L829.5 687.3 L829.0 686.8 L828.5 686.2 L828.0 685.6 L827.5 684.9 L827.0 684.1 L826.5 683.3 L826.0 682.5 L825.5 681.9 L825.0 681.3 L824.5 680.9 L824.0 680.5 L823.5 680.2 L823.0 680.0 L822.5 679.8 L822.0 679.6 L821.5 679.4 L821.0 679.2 L820.5 679.0 L820.0 678.8 L819.5 678.5 L819.0 678.2 L818.5 677.9 L818.0 677.5 L817.5 677.0 L817.0 676.6 L816.5 676.1 L816.0 675.6 L815.5 675.1 L815.0 674.6 L814.5 674.1 L814.0 673.5 L813.5 673.0 L813.0 672.3 L812.5 671.6 L812.0 670.8 L811.5 669.9 L811.0 669.0 L810.5 668.0 L810.0 667.1 L809.5 666.2 L809.0 665.3 L808.5 664.6 L808.0 663.9 L807.5 663.3 L807.0 662.8 L806.5 662.3 L806.0 661.8 L805.5 661.4 L805.0 661.0 L804.5 660.7 L804.0 660.3 L803.5 660.1 L803.0 659.8 L802.5 659.6 L802.0 659.3 L801.5 659.1 L801.0 658.8 L800.5 658.7 L800.0 658.5 Z" fill="#ff0000" stroke="none"/>
<path d="M800.0 648.6V659.3M805.0 651.1V661.8M808.8 657.3V665.7M812.5 663.6V673.1M818.8 662.4V679.3M822.1 666.8V680.7M825.1 669.9V682.0M828.8 679.9V688.0M833.9 682.4V690.6M838.9 684.9V689.2M842.0 677.4V683.1M845.1 683.7V688.0M848.9 683.7V688.5M851.4 672.4V686.6M855.2 687.4V694.1M858.9 689.9V696.3M863.9 687.4V694.5M867.7 692.5V700.7M871.5 698.7V706.9M876.5 703.7V712.0M881.5 708.8V717.0M886.5 715.0V720.7M890.3 710.0V719.7M894.0 715.0V723.2M899.1 712.5V723.2M904.1 703.7V720.7M909.1 705.0V718.3M915.4 705.0V717.0M920.4 703.7V718.2M926.6 700.0V717.0M931.7 702.5V718.3M937.9 705.0V720.8M941.7 712.5V725.8M947.5 716.2V732.8M951.3 723.7V731.9M955.0 717.4V729.6M958.8 714.9V731.6M962.6 721.2V734.7M967.0 721.2V736.7M970.1 729.9V741.9M976.4 731.2V746.9M981.4 735.0V746.9M986.4 735.0V745.8M990.2 742.5V749.3M995.2 741.2V754.4M998.9 743.7V756.4M1002.7 735.0V755.7M1007.7 737.5V752.0M1011.5 726.2V746.2M1015.2 735.0V750.5M1019.0 732.5V752.6M1021.5 741.2V753.8M1027.8 743.7V756.4M1032.8 743.7V758.2M1039.1 746.2V757.6M1042.2 733.7V757.9M1045.3 741.2V759.5M1050.3 747.5V760.6M1053.5 729.9V758.7M1056.0 751.3V759.2M1060.4 751.3V760.7M1064.1 750.2V760.7M1068.2 751.2V760.1M1073.3 749.2V761.6M1075.3 743.1V758.1M1077.3 750.2V758.1M1079.9 753.3V758.5M1081.9 741.0V759.1M1085.5 745.1V760.1M1089.6 743.1V763.3M1093.6 747.2V768.6M1096.7 752.2V769.3M1099.8 759.4V773.4M1102.8 763.5V773.5M1106.9 767.5V775.6M1111.0 773.7V781.5M1113.0 781.8V784.8M1117.1 778.8V786.6M1119.1 783.8V790.0M1121.2 790.0V794.9M1123.2 794.0V800.0M1124.2 802.3V812.7" stroke="#ff0000" stroke-width="4.7"/>
<path d="M147.0 523.3 L148.0 523.1 L149.0 522.9 L150.0 522.7 L151.0 522.7 L152.0 522.6 L153.0 522.4 L154.0 522.2 L155.0 521.9 L156.0 521.9 L157.0 521.8 L158.0 521.8 L159.0 521.5 L160.0 521.3 L161.0 521.2 L162.0 521.1 L163.0 521.0 L164.0 520.8 L165.0 520.6 L166.0 520.3 L167.0 520.3 L168.0 520.2 L169.0 520.1 L170.0 519.9 L171.0 519.6 L172.0 519.5 L173.0 519.4 L174.0 519.3 L175.0 519.1 L176.0 518.9 L177.0 518.8 L178.0 518.7 L179.0 518.6 L180.0 518.4 L181.0 518.1 L182.0 517.8 L183.0 517.7 L184.0 517.6 L185.0 517.4 L186.0 517.1 L187.0 516.8 L188.0 516.6 L189.0 516.5 L190.0 516.4 L191.0 516.2 L192.0 515.9 L193.0 515.7 L194.0 515.6 L195.0 515.4 L196.0 515.2 L197.0 514.9 L198.0 514.5 L199.0 514.3 L200.0 514.1 L201.0 513.9 L202.0 513.6 L203.0 513.2 L204.0 512.9 L205.0 512.8 L206.0 512.7 L207.0 512.4 L208.0 512.1 L209.0 511.7 L210.0 511.5 L211.0 511.3 L212.0 511.0 L213.0 510.6 L214.0 510.1 L215.0 509.8 L216.0 509.5 L217.0 509.3 L218.0 508.8 L219.0 508.3 L220.0 507.9 L221.0 507.6 L222.0 507.4 L223.0 507.0 L224.0 506.4 L225.0 505.9 L226.0 505.5 L227.0 505.1 L228.0 504.8 L229.0 504.3 L230.0 503.9 L231.0 503.7 L232.0 503.6 L233.0 503.4 L234.0 503.2 L235.0 502.9 L236.0 502.7 L237.0 502.5 L238.0 502.4 L239.0 502.3 L240.0 502.1 L241.0 501.8 L242.0 501.7 L243.0 501.6 L244.0 501.5 L245.0 501.3 L246.0 501.0 L247.0 500.7 L248.0 500.7 L249.0 500.6 L250.0 500.5 L251.0 500.3 L252.0 500.0 L253.0 500.0 L254.0 500.1 L255.0 500.1 L256.0 499.9 L257.0 499.6 L258.0 499.4 L259.0 499.5 L260.0 499.5 L261.0 499.4 L262.0 499.2 L263.0 498.9 L264.0 498.9 L265.0 499.0 L266.0 499.0 L267.0 498.8 L268.0 498.6 L269.0 498.5 L270.0 498.5 L271.0 498.5 L272.0 498.3 L273.0 498.1 L274.0 497.9 L275.0 498.1 L276.0 498.2 L277.0 498.3 L278.0 498.2 L279.0 498.1 L280.0 498.2 L281.0 498.4 L282.0 498.6 L283.0 498.5 L284.0 498.4 L285.0 498.3 L286.0 498.4 L287.0 498.4 L288.0 498.3 L289.0 498.1 L290.0 498.0 L291.0 498.0 L292.0 498.0 L293.0 498.0 L294.0 497.8 L295.0 497.7 L296.0 497.8 L297.0 498.0 L298.0 498.3 L299.0 498.3 L300.0 498.2 L301.0 498.2 L302.0 498.4 L303.0 498.6 L304.0 498.7 L305.0 498.5 L306.0 498.4 L307.0 498.5 L308.0 498.6 L309.0 498.8 L310.0 498.7 L311.0 498.6 L312.0 498.5 L313.0 498.7 L314.0 498.9 L315.0 498.9 L316.0 498.8 L317.0 498.8 L318.0 498.9 L319.0 499.2 L320.0 499.4 L321.0 499.4 L322.0 499.4 L323.0 499.5 L324.0 499.8 L325.0 500.1 L326.0 500.3 L327.0 500.5 L328.0 500.7 L329.0 501.2 L330.0 501.6 L331.0 501.9 L332.0 502.1 L333.0 502.3 L334.0 502.6 L335.0 502.9 L336.0 503.2 L337.0 503.1 L338.0 503.0 L339.0 503.0 L340.0 503.2 L341.0 503.5 L342.0 503.6 L343.0 503.6 L344.0 503.7 L345.0 503.9 L346.0 504.1 L347.0 504.2 L348.0 504.3 L349.0 504.3 L350.0 504.5 L351.0 504.9 L352.0 505.2 L353.0 505.3 L354.0 505.4 L355.0 505.5 L356.0 505.8 L357.0 506.0 L358.0 506.2 L359.0 506.1 L360.0 506.1 L361.0 506.3 L362.0 506.5 L363.0 506.7 L364.0 506.7 L365.0 506.7 L366.0 506.7 L367.0 506.8 L368.0 506.9 L369.0 506.9 L370.0 506.8 L371.0 506.7 L372.0 506.8 L373.0 506.9 L374.0 507.0 L375.0 506.8 L376.0 506.6 L377.0 506.5 L378.0 506.5 L379.0 506.5 L380.0 506.3 L381.0 505.9 L382.0 505.7 L383.0 505.6 L384.0 505.4 L385.0 505.0 L386.0 504.5 L387.0 503.9 L388.0 503.6 L389.0 503.4 L390.0 503.2 L391.0 502.5 L392.0 501.8 L393.0 501.0 L394.0 500.4 L395.0 499.8 L396.0 499.0 L397.0 498.0 L398.0 496.9 L399.0 495.9 L400.0 494.9 L401.0 493.8 L402.0 492.6 L403.0 491.1 L404.0 489.6 L405.0 488.0 L406.0 486.4 L407.0 484.7 L408.0 482.8 L409.0 480.8 L410.0 479.0 L411.0 477.2 L412.0 475.2 L413.0 473.0 L414.0 470.9 L415.0 469.0 L416.0 467.3 L417.0 465.7 L418.0 463.8 L419.0 461.9 L420.0 460.1 L421.0 458.5 L422.0 456.9 L423.0 455.1 L424.0 453.2 L425.0 451.3 L426.0 449.7 L427.0 448.3 L428.0 447.0 L429.0 445.6 L430.0 444.2 L431.0 443.1 L432.0 442.2 L433.0 441.4 L434.0 440.4 L435.0 439.5 L436.0 438.7 L437.0 438.3 L438.0 437.8 L439.0 437.2 L440.0 436.5 L441.0 435.9 L442.0 435.6 L443.0 435.4 L444.0 435.2 L445.0 434.6 L446.0 434.0 L447.0 433.6 L448.0 433.4 L449.0 433.3 L450.0 432.9 L451.0 432.4 L452.0 431.8 L453.0 431.7 L454.0 431.7 L455.0 431.7 L456.0 431.2 L457.0 430.8 L458.0 430.7 L459.0 430.9 L460.0 431.3 L461.0 431.3 L462.0 431.2 L463.0 431.2 L464.0 431.8 L465.0 432.6 L466.0 433.4 L467.0 434.2 L468.0 435.0 L469.0 436.8 L470.0 439.4 L471.0 442.6 L472.0 445.4" stroke="#008000" stroke-width="4.2"/><path d="M470.0 439.4 L471.0 442.6 L472.0 445.4 L473.0 448.2 L474.0 451.5 L475.0 455.5 L476.0 459.8 L477.0 463.8 L478.0 467.6 L479.0 471.5 L480.0 476.1 L481.0 481.1 L482.0 486.2 L483.0 490.9 L484.0 495.5 L485.0 500.4 L486.0 505.3 L487.0 510.0 L488.0 514.3 L489.0 518.5 L490.0 522.7 L491.0 527.4 L492.0 532.0 L493.0 536.3 L494.0 540.2 L495.0 544.2 L496.0 548.5 L497.0 552.9 L498.0 556.9 L499.0 559.9 L500.0 562.4 L501.0 565.0 L502.0 567.8 L503.0 569.8 L504.0 570.8 L505.0 570.2 L506.0 569.1 L507.0 568.2 L508.0 567.8 L509.0 567.3 L510.0 566.3 L511.0 565.2 L512.0 564.6 L513.0 564.3 L514.0 564.0 L515.0 563.1 L516.0 561.9 L517.0 560.8 L518.0 560.5 L519.0 560.2 L520.0 559.6 L521.0 558.8 L522.0 557.9 L523.0 557.4 L524.0 557.1 L525.0 556.8 L526.0 555.9 L527.0 554.9 L528.0 553.9 L529.0 553.4 L530.0 552.8 L531.0 551.9 L532.0 550.7 L533.0 549.6 L534.0 548.9 L535.0 548.3 L536.0 547.6 L537.0 546.3 L538.0 545.0 L539.0 544.1 L540.0 543.6 L541.0 543.0 L542.0 541.8 L543.0 540.5 L544.0 539.2 L545.0 538.6 L546.0 538.0 L547.0 537.2 L548.0 535.8 L549.0 534.6 L550.0 533.9 L551.0 533.5 L552.0 533.1 L553.0 531.9 L554.0 530.6 L555.0 529.8 L556.0 529.9 L557.0 530.3 L558.0 530.4 L559.0 530.3 L560.0 530.2" stroke="#008000" stroke-width="4.6"/><path d="M558.0 530.4 L559.0 530.3 L560.0 530.2 L561.0 530.6 L562.0 531.1 L563.0 531.1 L564.0 530.3 L565.0 529.5 L566.0 529.2 L567.0 529.5 L568.0 529.8 L569.0 529.5 L570.0 529.0 L571.0 528.6 L572.0 528.9 L573.0 529.6 L574.0 530.4 L575.0 531.3 L576.0 532.5 L577.0 534.0 L578.0 535.8 L579.0 537.5 L580.0 538.5 L581.0 539.5 L582.0 540.7 L583.0 542.4 L584.0 544.0 L585.0 544.9 L586.0 545.4 L587.0 545.9 L588.0 547.2 L589.0 548.6 L590.0 549.8 L591.0 550.2 L592.0 550.6 L593.0 551.4 L594.0 552.7 L595.0 554.4 L596.0 555.6 L597.0 556.8 L598.0 557.7 L599.0 559.2 L600.0 560.7 L601.0 561.8 L602.0 562.5" stroke="#008000" stroke-width="5.0"/><path d="M600.0 560.7 L601.0 561.8 L602.0 562.5 L603.0 563.2 L604.0 564.5 L605.0 565.9 L606.0 567.1 L607.0 567.1 L608.0 567.1 L609.0 567.5 L610.0 568.6 L611.0 569.5 L612.0 569.6 L613.0 569.3 L614.0 568.9 L615.0 569.6 L616.0 570.5 L617.0 571.5 L618.0 571.7 L619.0 571.9 L620.0 572.5 L621.0 573.5 L622.0 574.4 L623.0 574.4 L624.0 574.2 L625.0 573.9 L626.0 574.5 L627.0 574.8 L628.0 574.7 L629.0 573.9 L630.0 572.9 L631.0 572.4 L632.0 572.0 L633.0 571.4 L634.0 569.5 L635.0 567.2 L636.0 564.9 L637.0 563.4 L638.0 562.2 L639.0 560.6 L640.0 558.7 L641.0 556.9 L642.0 555.9 L643.0 555.0 L644.0 553.9 L645.0 552.2 L646.0 550.5 L647.0 549.5 L648.0 549.1 L649.0 548.6 L650.0 546.9 L651.0 544.8 L652.0 542.9 L653.0 542.5 L654.0 542.3 L655.0 541.5 L656.0 539.8 L657.0 538.2 L658.0 537.8 L659.0 538.0 L660.0 538.5 L661.0 537.9 L662.0 537.8 L663.0 538.1 L664.0 538.9 L665.0 539.5 L666.0 539.2 L667.0 538.5 L668.0 537.7 L669.0 537.9 L670.0 538.1 L671.0 538.0 L672.0 536.9 L673.0 535.7 L674.0 535.1 L675.0 535.4 L676.0 536.0 L677.0 535.7 L678.0 535.3 L679.0 535.2 L680.0 536.6 L681.0 538.3 L682.0 539.3 L683.0 539.0 L684.0 538.4 L685.0 538.7 L686.0 539.5 L687.0 540.5 L688.0 539.8 L689.0 539.2 L690.0 539.3 L691.0 540.8 L692.0 542.4" stroke="#008000" stroke-width="5.9"/><path d="M690.0 539.3 L691.0 540.8 L692.0 542.4 L693.0 542.8 L694.0 542.2 L695.0 541.2 L696.0 541.1 L697.0 541.3 L698.0 541.7 L699.0 541.4 L700.0 541.5 L701.0 542.5 L702.0 544.5 L703.0 546.5 L704.0 547.2 L705.0 547.2 L706.0 547.0 L707.0 547.9 L708.0 548.7 L709.0 548.9 L710.0 548.1 L711.0 547.4 L712.0 547.9 L713.0 549.0 L714.0 549.7 L715.0 547.9 L716.0 545.8 L717.0 544.3 L718.0 545.0 L719.0 546.3 L720.0 547.4 L721.0 547.8 L722.0 548.3 L723.0 550.2 L724.0 552.3 L725.0 553.9 L726.0 553.8 L727.0 553.4 L728.0 554.0 L729.0 555.6 L730.0 557.4 L731.0 557.6 L732.0 557.4 L733.0 557.9 L734.0 561.0 L735.0 564.5 L736.0 567.1 L737.0 568.1 L738.0 568.8 L739.0 571.2 L740.0 574.5 L741.0 578.4 L742.0 579.7 L743.0 581.1 L744.0 582.2 L745.0 584.8 L746.0 586.8 L747.0 587.8 L748.0 587.6 L749.0 587.4 L750.0 589.7 L751.0 592.0 L752.0 593.7" stroke="#008000" stroke-width="6.4"/><path d="M750.0 589.7 L751.0 592.0 L752.0 593.7 L753.0 593.0 L754.0 591.5 L755.0 590.5 L756.0 590.1 L757.0 590.9 L758.0 590.8 L759.0 591.3 L760.0 592.0 L761.0 595.2 L762.0 598.2 L763.0 599.5 L764.0 599.0 L765.0 598.9 L766.0 601.6 L767.0 605.7 L768.0 609.6 L769.0 609.4 L770.0 608.1 L771.0 606.4 L772.0 606.3 L773.0 605.8 L774.0 603.7 L775.0 600.5 L776.0 597.3 L777.0 596.5 L778.0 596.1 L779.0 595.0 L780.0 591.9 L781.0 589.2 L782.0 588.2 L783.0 588.7 L784.0 589.5 L785.0 588.9 L786.0 588.2 L787.0 587.8 L788.0 589.6 L789.0 592.0 L790.0 593.8 L791.0 594.6 L792.0 596.2 L793.0 600.3 L794.0 605.3 L795.0 610.1 L796.0 612.6 L797.0 614.8 L798.0 616.7 L799.0 619.1 L800.0 620.8 L801.0 621.0 L802.0 620.2 L803.0 619.3 L804.0 620.7 L805.0 622.3" stroke="#008000" stroke-width="6.8"/>
<path d="M800.0 621.5 L800.5 621.5 L801.0 621.6 L801.5 621.7 L802.0 621.9 L802.5 622.0 L803.0 622.1 L803.5 622.2 L804.0 622.7 L804.5 623.5 L805.0 624.6 L805.5 626.1 L806.0 627.9 L806.5 629.7 L807.0 631.5 L807.5 632.9 L808.0 634.0 L808.5 634.8 L809.0 635.1 L809.5 635.2 L810.0 635.2 L810.5 635.2 L811.0 635.2 L811.5 635.2 L812.0 635.2 L812.5 635.3 L813.0 635.7 L813.5 636.4 L814.0 637.3 L814.5 638.6 L815.0 640.1 L815.5 641.5 L816.0 642.9 L816.5 644.1 L817.0 644.9 L817.5 645.6 L818.0 645.9 L818.5 646.2 L819.0 646.4 L819.5 646.6 L820.0 646.8 L820.5 647.1 L821.0 647.2 L821.5 647.4 L822.0 647.5 L822.5 647.6 L823.0 647.7 L823.5 647.7 L824.0 647.7 L824.5 647.7 L825.0 647.7 L825.5 647.7 L826.0 647.7 L826.5 647.7 L827.0 647.7 L827.5 647.7 L828.0 647.7 L828.5 647.6 L829.0 647.5 L829.5 647.3 L830.0 647.1 L830.5 646.8 L831.0 646.4 L831.5 646.0 L832.0 645.5 L832.5 645.1 L833.0 644.6 L833.5 644.2 L834.0 643.7 L834.5 643.1 L835.0 642.6 L835.5 642.0 L836.0 641.4 L836.5 640.9 L837.0 640.5 L837.5 640.2 L838.0 640.0 L838.5 639.8 L839.0 639.8 L839.5 639.9 L840.0 640.0 L840.5 640.3 L841.0 640.9 L841.5 641.6 L842.0 642.5 L842.5 643.6 L843.0 644.5 L843.5 645.2 L844.0 645.6 L844.5 645.6 L845.0 645.2 L845.5 644.5 L846.0 643.5 L846.5 642.6 L847.0 641.8 L847.5 641.1 L848.0 640.5 L848.5 640.1 L849.0 639.8 L849.5 639.6 L850.0 639.4 L850.5 639.4 L851.0 639.5 L851.5 639.6 L852.0 640.0 L852.5 640.4 L853.0 640.9 L853.5 641.5 L854.0 642.2 L854.5 642.8 L855.0 643.4 L855.5 643.9 L856.0 644.3 L856.5 644.7 L857.0 644.9 L857.5 645.1 L858.0 645.2 L858.5 645.2 L859.0 645.1 L859.5 644.9 L860.0 644.5 L860.5 644.0 L861.0 643.3 L861.5 642.5 L862.0 641.6 L862.5 640.6 L863.0 639.6 L863.5 638.6 L864.0 637.7 L864.5 637.0 L865.0 636.4 L865.5 636.1 L866.0 635.9 L866.5 635.9 L867.0 636.1 L867.5 636.4 L868.0 636.7 L868.5 637.0 L869.0 637.2 L869.5 637.5 L870.0 637.8 L870.5 638.0 L871.0 638.2 L871.5 638.3 L872.0 638.3 L872.5 638.2 L873.0 638.0 L873.5 637.7 L874.0 637.3 L874.5 636.9 L875.0 636.4 L875.5 636.3 L876.0 636.4 L876.5 636.8 L877.0 637.5 L877.5 638.5 L878.0 639.0 L878.5 639.0 L879.0 638.3 L879.5 636.9 L880.0 634.7 L880.5 631.9 L881.0 628.7 L881.5 626.0 L882.0 623.9 L882.5 622.4 L883.0 621.5 L883.5 621.0 L884.0 621.2 L884.5 621.5 L885.0 621.7 L885.5 621.8 L886.0 621.7 L886.5 621.3 L887.0 620.7 L887.5 619.9 L888.0 619.2 L888.5 618.4 L889.0 617.9 L889.5 617.7 L890.0 617.7 L890.5 618.0 L891.0 618.5 L891.5 619.1 L892.0 619.6 L892.5 620.2 L893.0 620.8 L893.5 621.3 L894.0 621.7 L894.5 622.0 L895.0 622.3 L895.5 622.5 L896.0 622.6 L896.5 622.8 L897.0 623.4 L897.5 624.4 L898.0 625.9 L898.5 627.7 L899.0 629.9 L899.5 632.2 L900.0 634.3 L900.5 636.1 L901.0 637.5 L901.5 638.6 L902.0 639.4 L902.5 639.9 L903.0 640.3 L903.5 640.6 L904.0 640.8 L904.5 640.9 L905.0 640.9 L905.5 640.8 L906.0 640.7 L906.5 640.7 L907.0 640.8 L907.5 641.0 L908.0 641.3 L908.5 641.8 L909.0 642.3 L909.5 642.6 L910.0 642.8 L910.5 642.7 L911.0 642.5 L911.5 642.0 L912.0 641.1 L912.5 639.7 L913.0 638.2 L913.5 636.3 L914.0 634.3 L914.5 632.4 L915.0 630.5 L915.5 629.0 L916.0 627.7 L916.5 626.8 L917.0 626.7 L917.5 627.3 L918.0 628.3 L918.5 629.7 L919.0 631.6 L919.5 633.5 L920.0 635.4 L920.5 636.9 L921.0 637.9 L921.5 638.6 L922.0 638.9 L922.5 639.1 L923.0 639.3 L923.5 639.8 L924.0 640.3 L924.5 641.0 L925.0 641.9 L925.5 642.7 L926.0 643.4 L926.5 643.8 L927.0 644.0 L927.5 644.0 L928.0 643.8 L928.5 643.3 L929.0 642.8 L929.5 642.3 L930.0 641.8 L930.5 641.4 L931.0 641.2 L931.5 641.1 L932.0 641.2 L932.5 641.4 L933.0 641.8 L933.5 642.4 L934.0 643.2 L934.5 644.2 L935.0 645.3 L935.5 646.5 L936.0 647.9 L936.5 649.4 L937.0 650.8 L937.5 652.0 L938.0 653.0 L938.5 653.9 L939.0 654.6 L939.5 655.1 L940.0 655.5 L940.5 655.9 L941.0 656.3 L941.5 656.6 L942.0 656.9 L942.5 657.1 L943.0 657.1 L943.5 657.1 L944.0 657.0 L944.5 656.9 L945.0 656.7 L945.5 656.7 L946.0 656.6 L946.5 656.7 L947.0 656.8 L947.5 656.9 L948.0 657.0 L948.5 657.1 L949.0 657.2 L949.5 657.4 L950.0 657.8 L950.5 658.2 L951.0 658.8 L951.5 659.5 L952.0 660.3 L952.5 661.3 L953.0 662.2 L953.5 663.1 L954.0 664.0 L954.5 664.9 L955.0 665.7 L955.5 666.4 L956.0 667.1 L956.5 667.8 L957.0 668.4 L957.5 669.1 L958.0 669.7 L958.5 670.3 L959.0 670.9 L959.5 671.5 L960.0 672.1 L960.5 672.7 L961.0 673.3 L961.5 673.9 L962.0 674.5 L962.5 675.1 L963.0 675.8 L963.5 676.4 L964.0 677.1 L964.5 677.7 L965.0 678.4 L965.5 678.9 L966.0 679.3 L966.5 679.7 L967.0 680.0 L967.5 680.1 L968.0 680.2 L968.5 680.2 L969.0 680.1 L969.5 680.0 L970.0 679.9 L970.5 679.7 L971.0 679.5 L971.5 679.2 L972.0 678.9 L972.5 678.6 L973.0 678.4 L973.5 678.4 L974.0 678.5 L974.5 678.7 L975.0 679.0 L975.5 679.5 L976.0 680.0 L976.5 680.5 L977.0 681.1 L977.5 681.6 L978.0 682.2 L978.5 682.7 L979.0 683.3 L979.5 683.8 L980.0 684.4 L980.5 684.9 L981.0 685.5 L981.5 686.0 L982.0 686.5 L982.5 687.1 L983.0 687.6 L983.5 688.2 L984.0 688.7 L984.5 689.3 L985.0 689.8 L985.5 690.4 L986.0 690.9 L986.5 691.5 L987.0 692.0 L987.5 692.6 L988.0 693.2 L988.5 693.9 L989.0 694.5 L989.5 695.2 L990.0 695.8 L990.5 696.5 L991.0 697.2 L991.5 697.8 L992.0 698.5 L992.5 699.2 L993.0 699.8 L993.5 700.5 L994.0 701.2 L994.5 701.8 L995.0 702.5 L995.5 703.2 L996.0 703.7 L996.5 704.0 L997.0 704.2 L997.5 704.2 L998.0 704.0 L998.5 703.6 L999.0 703.0 L999.5 702.5 L1000.0 701.9 L1000.5 701.3 L1001.0 700.8 L1001.5 700.2 L1002.0 699.7 L1002.5 699.2 L1003.0 698.7 L1003.5 698.2 L1004.0 697.7 L1004.5 697.3 L1005.0 696.9 L1005.5 696.5 L1006.0 696.2 L1006.5 696.0 L1007.0 695.8 L1007.5 695.5 L1008.0 695.3 L1008.5 695.1 L1009.0 694.9 L1009.5 694.7 L1010.0 694.5 L1010.5 694.3 L1011.0 694.0 L1011.5 693.8 L1012.0 693.6 L1012.5 693.4 L1013.0 693.1 L1013.5 692.8 L1014.0 692.5 L1014.5 692.2 L1015.0 691.9 L1015.5 691.5 L1016.0 691.3 L1016.5 691.2 L1017.0 691.4 L1017.5 691.7 L1018.0 692.3 L1018.5 692.8 L1019.0 693.4 L1019.5 693.8 L1020.0 693.9 L1020.5 693.8 L1021.0 693.5 L1021.5 692.9 L1022.0 692.3 L1022.5 691.5 L1023.0 690.7 L1023.5 689.9 L1024.0 688.9 L1024.5 688.0 L1025.0 687.0 L1025.5 686.2 L1026.0 685.5 L1026.5 685.1 L1027.0 684.8 L1027.5 684.8 L1028.0 684.9 L1028.5 685.3 L1029.0 685.7 L1029.5 686.2 L1030.0 686.9 L1030.5 687.8 L1031.0 688.8 L1031.5 689.9 L1032.0 691.2 L1032.5 692.3 L1033.0 693.0 L1033.5 693.5 L1034.0 693.7 L1034.5 693.5 L1035.0 693.1 L1035.5 692.4 L1036.0 691.9 L1036.5 691.7 L1037.0 691.8 L1037.5 692.1 L1038.0 692.6 L1038.5 693.5 L1039.0 694.5 L1039.5 695.6 L1040.0 696.6 L1040.5 697.4 L1041.0 698.2 L1041.5 698.9 L1042.0 699.4 L1042.5 699.9 L1043.0 700.5 L1043.5 701.2 L1044.0 702.0 L1044.5 702.9 L1045.0 703.9 L1045.5 704.8 L1046.0 705.4 L1046.5 705.8 L1047.0 705.8 L1047.5 705.5 L1048.0 704.9 L1048.5 703.9 L1049.0 703.0 L1049.5 702.2 L1050.0 701.5 L1050.5 701.0 L1051.0 700.7 L1051.5 700.5 L1052.0 700.4 L1052.5 700.5 L1053.0 700.5 L1053.5 700.6 L1054.0 700.6 L1054.5 700.7 L1055.0 700.7 L1055.5 700.9 L1056.0 701.5 L1056.5 702.4 L1057.0 703.6 L1057.5 705.2 L1058.0 707.2 L1058.5 709.1 L1059.0 710.8 L1059.5 712.2 L1060.0 713.1 L1060.5 713.7 L1061.0 713.9 L1061.5 713.8 L1062.0 713.6 L1062.5 713.4 L1063.0 713.3 L1063.5 713.1 L1064.0 712.9 L1064.5 712.8 L1065.0 712.6 L1065.5 712.4 L1066.0 712.3 L1066.5 712.3 L1067.0 712.6 L1067.5 713.1 L1068.0 713.9 L1068.5 714.9 L1069.0 716.2 L1069.5 717.8 L1070.0 719.1 L1070.5 720.2 L1071.0 721.0 L1071.5 721.6 L1072.0 721.9 L1072.5 722.0 L1073.0 721.8 L1073.5 721.6 L1074.0 721.4 L1074.5 721.2 L1075.0 721.0 L1075.5 720.8 L1076.0 720.6 L1076.5 720.4 L1077.0 720.1 L1077.5 719.9 L1078.0 719.7 L1078.5 719.4 L1079.0 719.1 L1079.5 718.9 L1080.0 718.6 L1080.5 718.3 L1081.0 718.0 L1081.5 717.9 L1082.0 718.1 L1082.5 718.4 L1083.0 719.0 L1083.5 719.7 L1084.0 720.7 L1084.5 721.8 L1085.0 722.7 L1085.5 723.2 L1086.0 723.4 L1086.5 723.3 L1087.0 722.8 L1087.5 722.2 L1088.0 721.4 L1088.5 720.8 L1089.0 720.4 L1089.5 720.1 L1090.0 719.9 L1090.5 719.9 L1091.0 719.9 L1091.5 719.9 L1092.0 719.9 L1092.5 719.9 L1093.0 719.9 L1093.5 719.9 L1094.0 720.3 L1094.5 721.0 L1095.0 721.9 L1095.5 723.2 L1096.0 724.7 L1096.5 726.5 L1097.0 728.6 L1097.5 730.5 L1098.0 732.3 L1098.5 733.9 L1099.0 735.3 L1099.5 736.6 L1100.0 737.8 L1100.5 738.8 L1101.0 739.7 L1101.5 740.6 L1102.0 741.5 L1102.5 742.4 L1103.0 743.3 L1103.5 744.3 L1104.0 745.2 L1104.5 746.2 L1105.0 747.3 L1105.5 748.2 L1106.0 749.1 L1106.5 749.8 L1107.0 750.4 L1107.5 750.9 L1108.0 751.3 L1108.5 751.5 L1109.0 751.6 L1109.5 751.8 L1110.0 752.0 L1110.5 752.1 L1111.0 752.3 L1111.5 752.6 L1112.0 753.1 L1112.5 753.9 L1113.0 755.0 L1113.5 756.0 L1114.0 757.0 L1114.5 757.8 L1115.0 758.4 L1115.5 758.7 L1116.0 758.6 L1116.5 758.2 L1117.0 758.1 L1117.5 758.1 L1118.0 758.3 L1118.5 758.8 L1119.0 759.4 L1119.5 760.1 L1120.0 760.8 L1120.5 761.4 L1121.0 761.9 L1121.5 762.3 L1122.0 762.6 L1122.5 762.8 L1123.0 762.9 L1123.5 763.0 L1124.0 763.1 L1124.5 763.1 L1125.0 763.1 L1125.5 763.1 L1126.0 763.1 L1126.5 763.1 L1127.0 763.1 L1127.5 764.9 L1128.0 770.6 L1128.5 777.9 L1129.0 786.5 L1129.5 796.3 L1130.0 806.9 L1130.5 818.5 L1131.0 829.1 L1131.5 837.0 L1132.0 844.8 L1132.5 852.4 L1133.0 859.5 L1133.5 866.2 L1134.0 872.1 L1134.5 877.0 L1135.0 880.8 L1135.0 880.8 L1134.5 877.0 L1134.0 875.0 L1133.5 875.0 L1133.0 875.0 L1132.5 875.0 L1132.0 875.0 L1131.5 875.0 L1131.0 875.0 L1130.5 875.0 L1130.0 875.0 L1129.5 875.0 L1129.0 875.0 L1128.5 875.0 L1128.0 875.0 L1127.5 875.0 L1127.0 875.0 L1126.5 875.0 L1126.0 875.0 L1125.5 863.3 L1125.0 851.1 L1124.5 838.4 L1124.0 825.6 L1123.5 812.6 L1123.0 799.5 L1122.5 786.3 L1122.0 784.5 L1121.5 783.1 L1121.0 781.8 L1120.5 780.5 L1120.0 779.2 L1119.5 777.8 L1119.0 776.4 L1118.5 775.1 L1118.0 774.1 L1117.5 773.3 L1117.0 772.8 L1116.5 772.5 L1116.0 772.5 L1115.5 772.6 L1115.0 773.0 L1114.5 773.4 L1114.0 773.4 L1113.5 773.1 L1113.0 772.5 L1112.5 771.5 L1112.0 770.3 L1111.5 769.0 L1111.0 767.5 L1110.5 766.2 L1110.0 765.1 L1109.5 764.2 L1109.0 763.4 L1108.5 762.7 L1108.0 761.9 L1107.5 761.2 L1107.0 760.6 L1106.5 760.0 L1106.0 759.4 L1105.5 758.9 L1105.0 758.3 L1104.5 757.8 L1104.0 757.3 L1103.5 756.8 L1103.0 756.2 L1102.5 755.6 L1102.0 755.0 L1101.5 754.4 L1101.0 753.7 L1100.5 752.9 L1100.0 752.1 L1099.5 751.2 L1099.0 750.2 L1098.5 749.1 L1098.0 748.0 L1097.5 746.9 L1097.0 745.9 L1096.5 744.8 L1096.0 743.9 L1095.5 743.0 L1095.0 742.1 L1094.5 741.4 L1094.0 740.6 L1093.5 740.0 L1093.0 739.3 L1092.5 738.7 L1092.0 738.2 L1091.5 737.7 L1091.0 737.2 L1090.5 736.8 L1090.0 736.6 L1089.5 736.4 L1089.0 736.4 L1088.5 736.4 L1088.0 736.6 L1087.5 736.8 L1087.0 737.1 L1086.5 737.2 L1086.0 737.2 L1085.5 737.1 L1085.0 736.9 L1084.5 736.6 L1084.0 736.1 L1083.5 735.5 L1083.0 735.4 L1082.5 735.8 L1082.0 736.6 L1081.5 738.0 L1081.0 739.5 L1080.5 741.0 L1080.0 742.5 L1079.5 743.6 L1079.0 744.1 L1078.5 744.1 L1078.0 743.3 L1077.5 742.3 L1077.0 741.1 L1076.5 740.0 L1076.0 739.2 L1075.5 738.7 L1075.0 738.6 L1074.5 738.9 L1074.0 739.5 L1073.5 740.3 L1073.0 741.2 L1072.5 741.8 L1072.0 742.3 L1071.5 742.6 L1071.0 742.8 L1070.5 743.0 L1070.0 743.2 L1069.5 743.4 L1069.0 743.5 L1068.5 743.6 L1068.0 743.7 L1067.5 743.7 L1067.0 743.6 L1066.5 743.5 L1066.0 743.4 L1065.5 743.2 L1065.0 742.9 L1064.5 742.5 L1064.0 741.9 L1063.5 741.1 L1063.0 740.2 L1062.5 739.2 L1062.0 738.0 L1061.5 736.8 L1061.0 735.6 L1060.5 734.4 L1060.0 733.1 L1059.5 731.9 L1059.0 730.7 L1058.5 729.5 L1058.0 728.4 L1057.5 727.3 L1057.0 726.2 L1056.5 725.1 L1056.0 724.1 L1055.5 723.1 L1055.0 722.1 L1054.5 721.6 L1054.0 721.5 L1053.5 721.8 L1053.0 722.6 L1052.5 723.9 L1052.0 725.6 L1051.5 727.5 L1051.0 728.9 L1050.5 729.9 L1050.0 730.4 L1049.5 730.4 L1049.0 730.0 L1048.5 729.0 L1048.0 727.7 L1047.5 726.4 L1047.0 724.9 L1046.5 723.4 L1046.0 721.7 L1045.5 720.1 L1045.0 718.4 L1044.5 716.7 L1044.0 715.1 L1043.5 713.4 L1043.0 711.7 L1042.5 710.1 L1042.0 708.4 L1041.5 707.0 L1041.0 706.0 L1040.5 705.4 L1040.0 705.2 L1039.5 705.4 L1039.0 706.0 L1038.5 707.0 L1038.0 708.1 L1037.5 708.9 L1037.0 709.3 L1036.5 709.3 L1036.0 709.0 L1035.5 708.3 L1035.0 707.2 L1034.5 705.9 L1034.0 704.8 L1033.5 703.8 L1033.0 702.9 L1032.5 702.2 L1032.0 701.7 L1031.5 701.3 L1031.0 701.1 L1030.5 701.0 L1030.0 701.1 L1029.5 701.3 L1029.0 701.6 L1028.5 702.0 L1028.0 702.5 L1027.5 703.0 L1027.0 703.5 L1026.5 703.9 L1026.0 704.4 L1025.5 704.8 L1025.0 705.2 L1024.5 705.5 L1024.0 705.9 L1023.5 706.3 L1023.0 706.7 L1022.5 707.1 L1022.0 707.5 L1021.5 708.0 L1021.0 708.6 L1020.5 709.2 L1020.0 709.8 L1019.5 710.5 L1019.0 711.1 L1018.5 711.8 L1018.0 712.5 L1017.5 713.1 L1017.0 713.8 L1016.5 714.5 L1016.0 715.1 L1015.5 715.8 L1015.0 716.3 L1014.5 716.7 L1014.0 717.0 L1013.5 717.1 L1013.0 717.0 L1012.5 716.8 L1012.0 716.5 L1011.5 716.3 L1011.0 716.3 L1010.5 716.5 L1010.0 716.9 L1009.5 717.6 L1009.0 718.5 L1008.5 719.6 L1008.0 720.9 L1007.5 722.1 L1007.0 723.4 L1006.5 724.5 L1006.0 725.3 L1005.5 725.8 L1005.0 725.9 L1004.5 725.7 L1004.0 725.4 L1003.5 725.0 L1003.0 724.8 L1002.5 725.0 L1002.0 725.4 L1001.5 726.2 L1001.0 727.4 L1000.5 728.7 L1000.0 729.8 L999.5 730.7 L999.0 731.4 L998.5 731.9 L998.0 732.1 L997.5 732.1 L997.0 731.9 L996.5 731.7 L996.0 731.4 L995.5 731.2 L995.0 730.6 L994.5 729.8 L994.0 728.6 L993.5 727.1 L993.0 725.3 L992.5 723.4 L992.0 721.5 L991.5 719.7 L991.0 718.2 L990.5 717.0 L990.0 716.0 L989.5 715.3 L989.0 714.7 L988.5 714.2 L988.0 713.9 L987.5 713.8 L987.0 713.9 L986.5 714.1 L986.0 714.5 L985.5 715.0 L985.0 715.5 L984.5 716.0 L984.0 716.5 L983.5 717.0 L983.0 717.5 L982.5 718.1 L982.0 718.7 L981.5 719.3 L981.0 720.0 L980.5 720.7 L980.0 721.1 L979.5 721.1 L979.0 720.9 L978.5 720.2 L978.0 719.3 L977.5 717.9 L977.0 716.3 L976.5 714.5 L976.0 712.8 L975.5 711.0 L975.0 709.6 L974.5 708.6 L974.0 708.0 L973.5 707.9 L973.0 708.3 L972.5 709.0 L972.0 710.2 L971.5 711.5 L971.0 712.5 L970.5 713.2 L970.0 713.6 L969.5 713.6 L969.0 713.4 L968.5 712.9 L968.0 712.2 L967.5 711.4 L967.0 710.7 L966.5 709.9 L966.0 709.1 L965.5 708.1 L965.0 707.1 L964.5 706.0 L964.0 704.8 L963.5 703.6 L963.0 702.2 L962.5 701.0 L962.0 699.8 L961.5 698.7 L961.0 697.6 L960.5 696.7 L960.0 695.8 L959.5 695.0 L959.0 694.3 L958.5 693.5 L958.0 692.8 L957.5 692.0 L957.0 691.3 L956.5 690.5 L956.0 689.8 L955.5 689.0 L955.0 688.3 L954.5 687.5 L954.0 686.8 L953.5 686.0 L953.0 685.3 L952.5 684.5 L952.0 683.7 L951.5 682.9 L951.0 682.1 L950.5 681.3 L950.0 680.5 L949.5 679.6 L949.0 678.7 L948.5 677.8 L948.0 677.0 L947.5 676.1 L947.0 675.3 L946.5 674.6 L946.0 673.8 L945.5 673.2 L945.0 672.6 L944.5 672.0 L944.0 671.5 L943.5 671.0 L943.0 670.6 L942.5 670.2 L942.0 669.9 L941.5 669.6 L941.0 669.3 L940.5 669.1 L940.0 668.8 L939.5 668.6 L939.0 668.4 L938.5 668.5 L938.0 668.6 L937.5 668.9 L937.0 669.4 L936.5 670.0 L936.0 670.7 L935.5 671.4 L935.0 672.2 L934.5 672.9 L934.0 673.5 L933.5 674.0 L933.0 674.2 L932.5 674.3 L932.0 674.2 L931.5 673.9 L931.0 673.4 L930.5 672.9 L930.0 672.2 L929.5 671.5 L929.0 670.7 L928.5 669.8 L928.0 668.8 L927.5 667.7 L927.0 666.5 L926.5 666.0 L926.0 666.1 L925.5 667.1 L925.0 668.8 L924.5 671.3 L924.0 674.5 L923.5 678.5 L923.0 682.5 L922.5 685.9 L922.0 688.7 L921.5 690.8 L921.0 692.4 L920.5 693.3 L920.0 693.6 L919.5 693.4 L919.0 693.1 L918.5 692.7 L918.0 692.0 L917.5 691.2 L917.0 690.2 L916.5 689.1 L916.0 687.7 L915.5 686.4 L915.0 685.0 L914.5 683.6 L914.0 682.1 L913.5 680.4 L913.0 678.5 L912.5 676.4 L912.0 674.1 L911.5 672.1 L911.0 670.7 L910.5 670.1 L910.0 670.2 L909.5 671.0 L909.0 672.7 L908.5 675.1 L908.0 677.6 L907.5 679.1 L907.0 679.5 L906.5 679.0 L906.0 677.4 L905.5 674.9 L905.0 672.1 L904.5 669.3 L904.0 667.3 L903.5 666.0 L903.0 665.6 L902.5 665.9 L902.0 666.9 L901.5 667.8 L901.0 668.6 L900.5 669.2 L900.0 669.7 L899.5 670.0 L899.0 670.2 L898.5 670.3 L898.0 670.3 L897.5 670.3 L897.0 670.3 L896.5 670.4 L896.0 670.6 L895.5 671.0 L895.0 671.5 L894.5 672.2 L894.0 672.9 L893.5 673.7 L893.0 674.5 L892.5 675.2 L892.0 675.7 L891.5 676.2 L891.0 676.7 L890.5 677.0 L890.0 677.4 L889.5 677.8 L889.0 678.3 L888.5 678.9 L888.0 679.8 L887.5 680.9 L887.0 682.2 L886.5 683.5 L886.0 684.7 L885.5 685.7 L885.0 686.5 L884.5 686.9 L884.0 687.1 L883.5 687.0 L883.0 686.7 L882.5 686.5 L882.0 686.2 L881.5 685.8 L881.0 685.2 L880.5 684.3 L880.0 683.2 L879.5 681.8 L879.0 680.2 L878.5 678.2 L878.0 676.0 L877.5 673.8 L877.0 671.5 L876.5 669.2 L876.0 667.4 L875.5 665.8 L875.0 664.7 L874.5 664.0 L874.0 663.6 L873.5 663.6 L873.0 663.9 L872.5 664.1 L872.0 664.4 L871.5 664.6 L871.0 664.9 L870.5 665.1 L870.0 665.3 L869.5 665.4 L869.0 665.6 L868.5 665.7 L868.0 665.8 L867.5 666.0 L867.0 666.1 L866.5 666.3 L866.0 666.6 L865.5 667.0 L865.0 667.5 L864.5 668.2 L864.0 669.0 L863.5 669.9 L863.0 670.9 L862.5 671.9 L862.0 672.9 L861.5 673.9 L861.0 674.6 L860.5 675.2 L860.0 675.6 L859.5 675.8 L859.0 675.9 L858.5 675.7 L858.0 675.5 L857.5 675.2 L857.0 675.0 L856.5 674.6 L856.0 674.1 L855.5 673.3 L855.0 672.3 L854.5 671.1 L854.0 669.6 L853.5 667.9 L853.0 666.1 L852.5 664.3 L852.0 662.6 L851.5 661.0 L851.0 659.4 L850.5 657.9 L850.0 656.5 L849.5 655.2 L849.0 654.0 L848.5 653.1 L848.0 652.7 L847.5 652.6 L847.0 652.9 L846.5 653.6 L846.0 654.6 L845.5 656.0 L845.0 657.2 L844.5 658.3 L844.0 659.3 L843.5 660.2 L843.0 661.0 L842.5 661.6 L842.0 662.2 L841.5 662.7 L841.0 663.2 L840.5 663.7 L840.0 664.1 L839.5 664.4 L839.0 664.5 L838.5 664.6 L838.0 664.5 L837.5 664.3 L837.0 664.0 L836.5 663.7 L836.0 663.6 L835.5 663.7 L835.0 663.9 L834.5 664.3 L834.0 664.9 L833.5 665.6 L833.0 666.5 L832.5 667.3 L832.0 668.2 L831.5 669.0 L831.0 669.6 L830.5 670.0 L830.0 670.0 L829.5 669.9 L829.0 669.4 L828.5 668.8 L828.0 667.9 L827.5 667.0 L827.0 666.1 L826.5 665.3 L826.0 664.4 L825.5 663.6 L825.0 662.9 L824.5 662.2 L824.0 661.5 L823.5 660.9 L823.0 660.3 L822.5 659.7 L822.0 659.1 L821.5 658.5 L821.0 657.9 L820.5 657.3 L820.0 656.7 L819.5 656.1 L819.0 655.6 L818.5 655.1 L818.0 654.7 L817.5 654.2 L817.0 653.8 L816.5 653.4 L816.0 653.0 L815.5 652.6 L815.0 652.2 L814.5 651.8 L814.0 651.4 L813.5 650.9 L813.0 650.3 L812.5 649.7 L812.0 648.9 L811.5 648.1 L811.0 647.2 L810.5 646.2 L810.0 645.2 L809.5 644.2 L809.0 643.1 L808.5 641.6 L808.0 639.7 L807.5 637.2 L807.0 634.3 L806.5 630.9 L806.0 627.9 L805.5 626.1 L805.0 624.6 L804.5 623.5 L804.0 622.7 L803.5 622.2 L803.0 622.1 L802.5 622.0 L802.0 621.9 L801.5 621.7 L801.0 621.6 L800.5 621.5 L800.0 621.5 Z" fill="#008000" stroke="none"/>
<path d="M800.0 618.7V621.7M805.0 619.9V622.9M807.5 632.5V637.5M811.3 613.6V641.4M813.8 632.5V643.4M816.3 642.5V649.0M818.8 636.2V650.8M821.9 645.0V653.3M826.3 629.9V656.3M829.5 645.0V659.1M833.9 641.2V654.4M837.6 636.8V652.1M841.4 637.5V651.6M843.9 645.0V653.7M847.6 637.5V645.6M851.4 636.2V649.7M853.9 621.2V655.8M856.4 642.5V659.9M860.2 642.5V660.6M865.2 632.5V651.1M869.0 624.9V651.4M872.1 636.2V651.6M876.5 632.5V652.1M879.0 640.0V661.5M882.1 617.4V653.6M886.5 619.9V653.0M889.0 613.6V647.3M892.2 601.1V647.8M894.7 619.9V647.0M897.8 619.9V646.8M900.3 635.0V653.6M904.1 638.7V652.4M907.2 637.5V661.2M910.3 641.2V655.0M912.9 637.5V659.3M915.4 624.9V657.0M917.9 622.4V659.2M920.4 636.2V666.1M923.5 636.2V658.7M926.6 642.5V655.3M931.7 637.5V657.2M934.8 641.2V658.3M937.9 651.3V660.9M942.9 655.0V664.0M945.0 653.6V664.5M947.5 636.1V666.5M950.7 654.9V669.7M953.8 661.2V675.1M956.3 664.9V678.9M960.1 651.1V684.0M962.6 672.5V688.1M966.3 677.5V694.8M970.1 677.5V697.6M973.9 675.0V691.9M977.6 667.4V700.1M980.8 682.5V702.8M984.5 666.2V702.6M987.6 690.0V702.9M991.4 695.0V707.9M994.5 662.4V716.3M997.1 702.6V718.5M1001.4 697.5V713.2M1005.2 693.8V711.9M1008.3 692.5V707.6M1011.5 676.8V705.0M1014.0 690.0V705.2M1017.1 687.5V702.0M1019.6 692.5V702.6M1022.8 688.8V699.1M1026.5 681.2V694.0M1030.3 683.7V693.6M1033.4 692.5V698.9M1037.2 687.5V700.4M1040.3 695.0V700.5M1044.1 698.8V708.4M1046.6 705.1V715.6M1050.3 697.5V716.3M1052.9 688.1V711.2M1056.8 698.2V713.6M1059.5 711.7V723.1M1063.6 710.4V727.4M1067.6 709.0V727.9M1071.0 719.9V732.7M1074.4 709.7V729.8M1077.8 717.2V731.6M1082.5 714.4V725.8M1085.9 722.6V731.3M1088.6 717.2V728.1M1091.7 658.2V728.9M1094.9 717.2V731.1M1098.7 732.9V742.5M1103.8 742.1V751.0M1106.7 748.2V755.4M1109.7 738.0V758.2M1112.8 750.2V763.5M1114.5 757.3V766.6M1117.6 754.3V765.0M1120.7 759.4V771.5M1123.0 760.4V774.7M1125.9 735.9V819.1M800.0 619.1V616.1M805.0 621.0V618.0M807.5 642.9V637.5M812.5 652.9V642.7M818.8 658.0V650.8M825.1 665.5V655.3M830.1 674.3V659.2M835.1 665.5V652.7M838.9 668.0V652.4M843.9 663.0V653.7M847.6 652.9V645.6M851.4 663.0V649.7M855.2 676.8V658.7M860.2 679.3V660.6M865.2 669.2V651.1M870.2 668.0V651.6M875.2 665.5V649.8M877.7 678.0V657.1M880.3 688.0V659.3M885.3 690.6V654.6M887.8 681.8V649.4M892.8 678.0V647.8M895.3 673.0V646.6M900.3 673.0V653.6M904.1 665.5V652.4M906.6 688.0V662.4M910.3 668.0V655.0M912.9 681.8V659.3M917.9 695.6V659.2M921.6 696.8V666.1M925.4 665.5V653.2M929.2 674.3V657.0M932.9 678.0V658.4M937.9 670.5V660.9M942.9 673.0V664.0M946.3 676.6V665.3M951.3 685.4V670.8M956.3 692.9V678.9M961.3 700.5V685.8M965.1 710.5V693.1M970.1 718.0V697.6M973.9 708.0V691.9M978.9 725.5V702.8M982.6 720.5V702.5M987.6 715.5V702.9M991.4 720.5V707.9M993.9 733.1V715.6M998.9 735.6V717.9M1002.7 725.5V711.2M1005.2 730.6V711.9M1010.2 718.0V705.0M1014.0 720.5V705.2M1017.7 715.5V702.1M1021.5 710.5V700.4M1026.5 706.7V694.0M1030.3 703.0V693.6M1033.4 705.5V698.9M1036.6 714.3V701.2M1040.3 705.5V700.5M1044.1 718.0V708.4M1047.8 730.6V716.5M1050.3 735.6V716.3M1053.5 721.8V709.9M1057.9 730.6V717.1M1060.4 736.8V724.1M1064.1 745.6V727.8M1068.2 746.6V728.7M1073.3 744.6V731.6M1075.3 738.5V728.7M1077.3 745.6V731.3M1079.9 748.7V732.0M1081.9 736.4V725.9M1085.5 740.5V731.0M1089.6 738.5V727.9M1093.6 742.6V729.9M1096.7 747.6V736.2M1099.8 754.8V744.7M1102.8 758.9V749.5M1106.9 762.9V755.6M1111.0 769.1V759.4M1113.0 777.2V764.1M1117.1 774.2V764.6M1119.1 779.2V768.1M1121.2 785.4V772.4M1123.2 789.4V775.3M1124.2 797.7V794.7" stroke="#008000" stroke-width="4.7"/>
<path d="M1125.9 755L1127 781L1128 808L1130 835L1132.5 873" stroke="#008000" stroke-width="5.5"/>
<path d="M147.0 532.2 L148.0 532.0 L149.0 531.6 L150.0 531.3 L151.0 531.2 L152.0 531.1 L153.0 530.8 L154.0 530.5 L155.0 530.1 L156.0 530.0 L157.0 529.8 L158.0 529.6 L159.0 529.3 L160.0 528.9 L161.0 528.6 L162.0 528.5 L163.0 528.3 L164.0 528.0 L165.0 527.7 L166.0 527.4 L167.0 527.3 L168.0 527.2 L169.0 527.0 L170.0 526.7 L171.0 526.3 L172.0 526.2 L173.0 526.1 L174.0 526.0 L175.0 525.7 L176.0 525.4 L177.0 525.2 L178.0 525.0 L179.0 524.9 L180.0 524.6 L181.0 524.3 L182.0 524.0 L183.0 524.0 L184.0 523.9 L185.0 523.8 L186.0 523.5 L187.0 523.2 L188.0 522.9 L189.0 522.8 L190.0 522.7 L191.0 522.5 L192.0 522.2 L193.0 521.9 L194.0 521.8 L195.0 521.7 L196.0 521.5 L197.0 521.1 L198.0 520.7 L199.0 520.6 L200.0 520.4 L201.0 520.3 L202.0 519.9 L203.0 519.6 L204.0 519.3 L205.0 519.2 L206.0 519.0 L207.0 518.7 L208.0 518.4 L209.0 518.0 L210.0 517.8 L211.0 517.6 L212.0 517.4 L213.0 516.9 L214.0 516.4 L215.0 516.0 L216.0 515.8 L217.0 515.6 L218.0 515.2 L219.0 514.7 L220.0 514.2 L221.0 514.0 L222.0 513.6 L223.0 513.1 L224.0 512.4 L225.0 511.7 L226.0 511.1 L227.0 510.7 L228.0 510.2 L229.0 509.7 L230.0 509.3 L231.0 509.0 L232.0 508.9 L233.0 508.8 L234.0 508.5 L235.0 508.1 L236.0 507.6 L237.0 507.5 L238.0 507.4 L239.0 507.2 L240.0 506.9 L241.0 506.6 L242.0 506.4 L243.0 506.3 L244.0 506.2 L245.0 505.9 L246.0 505.6 L247.0 505.3 L248.0 505.2 L249.0 505.1 L250.0 504.9 L251.0 504.7 L252.0 504.4 L253.0 504.4 L254.0 504.5 L255.0 504.6 L256.0 504.3 L257.0 504.1 L258.0 503.9 L259.0 503.9 L260.0 503.9 L261.0 503.8 L262.0 503.6 L263.0 503.4 L264.0 503.4 L265.0 503.4 L266.0 503.4 L267.0 503.2 L268.0 502.9 L269.0 502.8 L270.0 502.8 L271.0 502.9 L272.0 502.7 L273.0 502.6 L274.0 502.4 L275.0 502.5 L276.0 502.7 L277.0 502.7 L278.0 502.6 L279.0 502.5 L280.0 502.6 L281.0 502.7 L282.0 502.9 L283.0 502.8 L284.0 502.7 L285.0 502.6 L286.0 502.7 L287.0 502.8 L288.0 502.8 L289.0 502.6 L290.0 502.4 L291.0 502.5 L292.0 502.6 L293.0 502.7 L294.0 502.6 L295.0 502.6 L296.0 502.7 L297.0 503.0 L298.0 503.3 L299.0 503.3 L300.0 503.4 L301.0 503.4 L302.0 503.7 L303.0 504.0 L304.0 504.2 L305.0 504.3 L306.0 504.4 L307.0 504.6 L308.0 505.0 L309.0 505.3 L310.0 505.2 L311.0 505.0 L312.0 504.9 L313.0 505.0 L314.0 505.0 L315.0 505.0 L316.0 504.8 L317.0 504.8 L318.0 505.0 L319.0 505.4 L320.0 505.8 L321.0 506.1 L322.0 506.3 L323.0 506.6 L324.0 507.1 L325.0 507.6 L326.0 508.0 L327.0 508.5 L328.0 509.0 L329.0 509.7 L330.0 510.5 L331.0 511.1 L332.0 511.4 L333.0 511.5 L334.0 511.5 L335.0 511.6 L336.0 511.7 L337.0 511.6 L338.0 511.6 L339.0 511.6 L340.0 511.8 L341.0 512.0 L342.0 512.0 L343.0 511.9 L344.0 511.8 L345.0 511.9 L346.0 512.1 L347.0 512.2 L348.0 512.1 L349.0 512.0 L350.0 512.0 L351.0 512.0 L352.0 512.1 L353.0 511.9 L354.0 511.7 L355.0 511.5 L356.0 511.6 L357.0 511.7 L358.0 511.6 L359.0 511.4 L360.0 511.1 L361.0 511.1 L362.0 511.1 L363.0 511.1 L364.0 510.8 L365.0 510.6 L366.0 510.5 L367.0 510.6 L368.0 510.8 L369.0 510.8 L370.0 510.7 L371.0 510.6 L372.0 510.8 L373.0 511.0 L374.0 511.2 L375.0 511.1 L376.0 511.2 L377.0 511.6 L378.0 512.1 L379.0 512.6 L380.0 512.9 L381.0 513.2 L382.0 513.5 L383.0 514.0 L384.0 514.4 L385.0 514.8 L386.0 514.9 L387.0 515.1 L388.0 515.4 L389.0 515.4 L390.0 515.0 L391.0 514.0 L392.0 513.0 L393.0 512.1 L394.0 511.3 L395.0 510.2 L396.0 508.8 L397.0 507.1 L398.0 505.4 L399.0 504.0 L400.0 502.4 L401.0 500.7 L402.0 498.7 L403.0 496.7 L404.0 494.8 L405.0 493.1 L406.0 491.5 L407.0 489.5 L408.0 487.6 L409.0 485.7 L410.0 484.0 L411.0 482.4 L412.0 480.6 L413.0 478.7 L414.0 476.9 L415.0 475.2 L416.0 473.7 L417.0 472.3 L418.0 470.7 L419.0 469.1 L420.0 467.6 L421.0 466.4 L422.0 465.3 L423.0 464.0 L424.0 462.6 L425.0 461.2 L426.0 460.1 L427.0 459.2 L428.0 458.2 L429.0 457.0 L430.0 455.9 L431.0 455.0 L432.0 454.3 L433.0 453.7 L434.0 452.9 L435.0 452.1 L436.0 451.4 L437.0 450.9 L438.0 450.5 L439.0 449.9 L440.0 449.0 L441.0 448.2 L442.0 447.6 L443.0 447.2 L444.0 446.8 L445.0 445.9 L446.0 445.1 L447.0 444.5 L448.0 444.4 L449.0 444.2 L450.0 443.8 L451.0 443.1 L452.0 442.6 L453.0 442.6 L454.0 442.8 L455.0 443.0 L456.0 442.8 L457.0 442.7 L458.0 443.1 L459.0 444.0 L460.0 444.9 L461.0 445.4 L462.0 445.8 L463.0 446.2 L464.0 447.2 L465.0 448.4 L466.0 449.6 L467.0 450.6 L468.0 451.9 L469.0 453.9 L470.0 456.4 L471.0 458.8 L472.0 461.3" stroke="#bfbf00" stroke-width="4.2"/><path d="M470.0 456.4 L471.0 458.8 L472.0 461.3 L473.0 464.3 L474.0 467.8 L475.0 471.8 L476.0 476.2 L477.0 480.7 L478.0 485.3 L479.0 489.9 L480.0 495.1 L481.0 500.3 L482.0 505.1 L483.0 509.1 L484.0 513.0 L485.0 517.1 L486.0 521.5 L487.0 526.0 L488.0 529.8 L489.0 533.4 L490.0 536.8 L491.0 540.6 L492.0 544.3 L493.0 547.9 L494.0 551.1 L495.0 554.4 L496.0 557.8 L497.0 561.3 L498.0 564.6 L499.0 567.4 L500.0 570.1 L501.0 572.9 L502.0 575.3 L503.0 577.3 L504.0 578.6 L505.0 579.3 L506.0 579.1 L507.0 578.7 L508.0 577.8 L509.0 576.9 L510.0 575.6 L511.0 574.4 L512.0 573.6 L513.0 573.1 L514.0 572.7 L515.0 571.8 L516.0 570.6 L517.0 569.6 L518.0 569.2 L519.0 568.9 L520.0 568.3 L521.0 567.3 L522.0 566.4 L523.0 565.8 L524.0 565.5 L525.0 565.1 L526.0 564.0 L527.0 562.7 L528.0 561.6 L529.0 561.1 L530.0 560.5 L531.0 559.4 L532.0 558.1 L533.0 556.7 L534.0 556.0 L535.0 555.4 L536.0 554.6 L537.0 553.3 L538.0 551.9 L539.0 551.0 L540.0 550.6 L541.0 550.1 L542.0 549.1 L543.0 548.0 L544.0 546.9 L545.0 546.4 L546.0 545.9 L547.0 545.1 L548.0 544.1 L549.0 543.2 L550.0 542.9 L551.0 543.1 L552.0 543.3 L553.0 542.6 L554.0 541.9 L555.0 541.5 L556.0 541.7 L557.0 541.9 L558.0 541.6 L559.0 540.9 L560.0 540.3" stroke="#bfbf00" stroke-width="4.6"/><path d="M558.0 541.6 L559.0 540.9 L560.0 540.3 L561.0 540.3 L562.0 540.3 L563.0 540.2 L564.0 539.6 L565.0 538.9 L566.0 538.6 L567.0 538.6 L568.0 538.6 L569.0 538.2 L570.0 537.6 L571.0 537.1 L572.0 537.5 L573.0 538.4 L574.0 539.5 L575.0 540.5 L576.0 541.4 L577.0 542.8 L578.0 544.4 L579.0 546.1 L580.0 547.1 L581.0 548.0 L582.0 549.3 L583.0 551.0 L584.0 552.6 L585.0 553.5 L586.0 554.0 L587.0 554.5 L588.0 555.8 L589.0 557.2 L590.0 558.4 L591.0 558.6 L592.0 558.9 L593.0 559.7 L594.0 561.0 L595.0 562.4 L596.0 563.3 L597.0 564.2 L598.0 565.2 L599.0 566.8 L600.0 568.5 L601.0 569.7 L602.0 570.5" stroke="#bfbf00" stroke-width="5.0"/><path d="M600.0 568.5 L601.0 569.7 L602.0 570.5 L603.0 571.3 L604.0 572.7 L605.0 574.2 L606.0 575.5 L607.0 575.7 L608.0 575.8 L609.0 576.3 L610.0 577.5 L611.0 578.7 L612.0 579.1 L613.0 579.2 L614.0 579.1 L615.0 580.1 L616.0 581.0 L617.0 581.6 L618.0 581.3 L619.0 581.1 L620.0 581.3 L621.0 582.0 L622.0 582.7 L623.0 582.8 L624.0 582.7 L625.0 582.5 L626.0 582.6 L627.0 582.5 L628.0 582.0 L629.0 581.2 L630.0 580.4 L631.0 580.2 L632.0 580.4 L633.0 580.6 L634.0 579.6 L635.0 578.8 L636.0 578.6 L637.0 579.5 L638.0 580.4 L639.0 580.7 L640.0 580.1 L641.0 579.2 L642.0 578.9 L643.0 578.7 L644.0 578.3 L645.0 577.6 L646.0 577.3 L647.0 578.0 L648.0 579.1 L649.0 580.3 L650.0 580.4 L651.0 580.0 L652.0 579.5 L653.0 580.2 L654.0 581.0 L655.0 581.0 L656.0 580.2 L657.0 579.1 L658.0 578.8 L659.0 578.9 L660.0 579.0 L661.0 578.0 L662.0 577.0 L663.0 576.5 L664.0 577.1 L665.0 577.6 L666.0 577.1 L667.0 575.7 L668.0 574.3 L669.0 573.5 L670.0 572.3 L671.0 570.3 L672.0 567.4 L673.0 564.6 L674.0 562.6 L675.0 561.4 L676.0 560.3 L677.0 558.1 L678.0 555.7 L679.0 553.3 L680.0 552.5 L681.0 551.7 L682.0 550.2 L683.0 548.0 L684.0 546.1 L685.0 545.9 L686.0 546.6 L687.0 548.1 L688.0 548.2 L689.0 548.8 L690.0 549.6 L691.0 552.0 L692.0 553.6" stroke="#bfbf00" stroke-width="5.9"/><path d="M690.0 549.6 L691.0 552.0 L692.0 553.6 L693.0 554.5 L694.0 555.0 L695.0 555.6 L696.0 557.4 L697.0 559.3 L698.0 561.1 L699.0 561.8 L700.0 562.5 L701.0 564.2 L702.0 567.0 L703.0 569.7 L704.0 570.8 L705.0 571.4 L706.0 572.1 L707.0 574.2 L708.0 576.3 L709.0 577.5 L710.0 577.4 L711.0 577.1 L712.0 578.1 L713.0 579.7 L714.0 581.5 L715.0 581.4 L716.0 581.5 L717.0 582.1 L718.0 584.1 L719.0 586.1 L720.0 587.0 L721.0 587.1 L722.0 587.0 L723.0 588.2 L724.0 589.5 L725.0 590.6 L726.0 590.4 L727.0 590.3 L728.0 591.3 L729.0 593.2 L730.0 595.2 L731.0 595.9 L732.0 596.3 L733.0 596.8 L734.0 598.6 L735.0 600.5 L736.0 601.7 L737.0 601.9 L738.0 602.5 L739.0 605.0 L740.0 608.0 L741.0 610.6 L742.0 610.6 L743.0 610.3 L744.0 609.5 L745.0 609.8 L746.0 610.1 L747.0 610.2 L748.0 609.6 L749.0 608.9 L750.0 610.4 L751.0 612.3 L752.0 613.8" stroke="#bfbf00" stroke-width="7.8"/><path d="M750.0 610.4 L751.0 612.3 L752.0 613.8 L753.0 613.7 L754.0 613.5 L755.0 614.3 L756.0 616.1 L757.0 618.1 L758.0 618.8 L759.0 619.3 L760.0 620.3 L761.0 623.6 L762.0 627.3 L763.0 629.8 L764.0 630.2 L765.0 630.0 L766.0 630.8 L767.0 632.4 L768.0 633.8 L769.0 632.2 L770.0 630.1 L771.0 628.5 L772.0 629.5 L773.0 631.5 L774.0 632.8 L775.0 633.5 L776.0 634.1 L777.0 636.7 L778.0 639.4 L779.0 641.5 L780.0 641.6 L781.0 641.6 L782.0 642.6 L783.0 644.6 L784.0 646.7 L785.0 647.0 L786.0 646.8 L787.0 646.9 L788.0 649.3 L789.0 651.8 L790.0 652.9 L791.0 652.1 L792.0 651.2 L793.0 652.9 L794.0 655.7 L795.0 658.4 L796.0 657.8 L797.0 657.1 L798.0 657.3 L799.0 659.5 L800.0 661.7 L801.0 662.0 L802.0 660.8 L803.0 659.6 L804.0 661.7 L805.0 663.8" stroke="#bfbf00" stroke-width="8.2"/>
<path d="M800.0 658.7 L800.5 658.9 L801.0 659.0 L801.5 659.3 L802.0 659.5 L802.5 659.8 L803.0 660.0 L803.5 660.3 L804.0 660.5 L804.5 660.9 L805.0 661.2 L805.5 661.6 L806.0 662.0 L806.5 662.5 L807.0 663.0 L807.5 663.5 L808.0 664.1 L808.5 664.8 L809.0 665.5 L809.5 666.4 L810.0 667.3 L810.5 668.2 L811.0 669.2 L811.5 670.1 L812.0 671.0 L812.5 671.8 L813.0 672.5 L813.5 673.2 L814.0 673.7 L814.5 674.3 L815.0 674.8 L815.5 675.3 L816.0 675.8 L816.5 676.3 L817.0 676.8 L817.5 677.2 L818.0 677.7 L818.5 678.1 L819.0 678.4 L819.5 678.7 L820.0 679.0 L820.5 679.2 L821.0 679.4 L821.5 679.6 L822.0 679.8 L822.5 680.0 L823.0 680.2 L823.5 680.4 L824.0 680.7 L824.5 681.1 L825.0 681.5 L825.5 682.1 L826.0 682.7 L826.5 683.5 L827.0 684.3 L827.5 685.1 L828.0 685.8 L828.5 686.4 L829.0 687.0 L829.5 687.5 L830.0 687.9 L830.5 688.2 L831.0 688.4 L831.5 688.7 L832.0 688.9 L832.5 689.2 L833.0 689.3 L833.5 689.5 L834.0 689.5 L834.5 689.6 L835.0 689.5 L835.5 689.4 L836.0 689.3 L836.5 689.2 L837.0 689.1 L837.5 688.9 L838.0 688.6 L838.5 688.2 L839.0 687.7 L839.5 687.0 L840.0 686.2 L840.5 685.3 L841.0 684.6 L841.5 684.1 L842.0 683.9 L842.5 683.9 L843.0 684.2 L843.5 684.7 L844.0 685.5 L844.5 686.1 L845.0 686.7 L845.5 687.2 L846.0 687.6 L846.5 687.9 L847.0 688.1 L847.5 688.1 L848.0 688.0 L848.5 687.8 L849.0 687.6 L849.5 687.2 L850.0 686.8 L850.5 686.5 L851.0 686.1 L851.5 685.9 L852.0 686.0 L852.5 686.5 L853.0 687.2 L853.5 688.3 L854.0 689.5 L854.5 690.8 L855.0 691.9 L855.5 692.9 L856.0 693.7 L856.5 694.2 L857.0 694.5 L857.5 694.8 L858.0 695.0 L858.5 695.3 L859.0 695.5 L859.5 695.6 L860.0 695.6 L860.5 695.6 L861.0 695.4 L861.5 695.2 L862.0 694.9 L862.5 694.6 L863.0 694.4 L863.5 694.5 L864.0 694.6 L864.5 695.0 L865.0 695.5 L865.5 696.2 L866.0 697.0 L866.5 697.9 L867.0 698.7 L867.5 699.5 L868.0 700.4 L868.5 701.2 L869.0 702.0 L869.5 702.9 L870.0 703.7 L870.5 704.5 L871.0 705.2 L871.5 705.9 L872.0 706.5 L872.5 707.1 L873.0 707.7 L873.5 708.2 L874.0 708.7 L874.5 709.2 L875.0 709.7 L875.5 710.2 L876.0 710.7 L876.5 711.2 L877.0 711.7 L877.5 712.2 L878.0 712.7 L878.5 713.2 L879.0 713.7 L879.5 714.2 L880.0 714.7 L880.5 715.2 L881.0 715.6 L881.5 716.1 L882.0 716.5 L882.5 716.9 L883.0 717.3 L883.5 717.7 L884.0 718.1 L884.5 718.4 L885.0 718.8 L885.5 719.1 L886.0 719.3 L886.5 719.5 L887.0 719.5 L887.5 719.5 L888.0 719.4 L888.5 719.3 L889.0 719.2 L889.5 719.1 L890.0 719.2 L890.5 719.4 L891.0 719.6 L891.5 720.0 L892.0 720.4 L892.5 720.9 L893.0 721.3 L893.5 721.7 L894.0 722.0 L894.5 722.2 L895.0 722.4 L895.5 722.4 L896.0 722.5 L896.5 722.5 L897.0 722.5 L897.5 722.5 L898.0 722.4 L898.5 722.4 L899.0 722.2 L899.5 722.1 L900.0 721.9 L900.5 721.7 L901.0 721.5 L901.5 721.2 L902.0 721.0 L902.5 720.7 L903.0 720.5 L903.5 720.2 L904.0 720.0 L904.5 719.7 L905.0 719.5 L905.5 719.2 L906.0 719.0 L906.5 718.7 L907.0 718.5 L907.5 718.2 L908.0 718.0 L908.5 717.8 L909.0 717.6 L909.5 717.4 L910.0 717.3 L910.5 717.2 L911.0 717.1 L911.5 717.0 L912.0 716.9 L912.5 716.8 L913.0 716.7 L913.5 716.6 L914.0 716.5 L914.5 716.4 L915.0 716.4 L915.5 716.4 L916.0 716.4 L916.5 716.5 L917.0 716.6 L917.5 716.7 L918.0 716.8 L918.5 717.0 L919.0 717.1 L919.5 717.2 L920.0 717.2 L920.5 717.2 L921.0 717.2 L921.5 717.2 L922.0 717.1 L922.5 717.0 L923.0 716.9 L923.5 716.8 L924.0 716.7 L924.5 716.6 L925.0 716.5 L925.5 716.4 L926.0 716.4 L926.5 716.4 L927.0 716.4 L927.5 716.4 L928.0 716.5 L928.5 716.6 L929.0 716.8 L929.5 716.9 L930.0 717.0 L930.5 717.2 L931.0 717.3 L931.5 717.4 L932.0 717.6 L932.5 717.8 L933.0 718.0 L933.5 718.2 L934.0 718.4 L934.5 718.6 L935.0 718.8 L935.5 719.0 L936.0 719.2 L936.5 719.4 L937.0 719.7 L937.5 720.0 L938.0 720.4 L938.5 720.9 L939.0 721.4 L939.5 722.0 L940.0 722.7 L940.5 723.4 L941.0 724.1 L941.5 724.8 L942.0 725.5 L942.5 726.3 L943.0 727.1 L943.5 727.9 L944.0 728.7 L944.5 729.5 L945.0 730.2 L945.5 730.9 L946.0 731.3 L946.5 731.7 L947.0 731.9 L947.5 732.0 L948.0 731.9 L948.5 731.8 L949.0 731.7 L949.5 731.5 L950.0 731.4 L950.5 731.2 L951.0 731.1 L951.5 730.8 L952.0 730.6 L952.5 730.3 L953.0 730.0 L953.5 729.7 L954.0 729.4 L954.5 729.1 L955.0 728.8 L955.5 728.7 L956.0 728.7 L956.5 728.8 L957.0 729.0 L957.5 729.4 L958.0 729.9 L958.5 730.4 L959.0 731.0 L959.5 731.6 L960.0 732.1 L960.5 732.6 L961.0 733.0 L961.5 733.4 L962.0 733.6 L962.5 733.9 L963.0 734.0 L963.5 734.2 L964.0 734.3 L964.5 734.4 L965.0 734.6 L965.5 734.8 L966.0 735.2 L966.5 735.6 L967.0 736.2 L967.5 736.9 L968.0 737.6 L968.5 738.5 L969.0 739.3 L969.5 740.0 L970.0 740.6 L970.5 741.2 L971.0 741.8 L971.5 742.2 L972.0 742.7 L972.5 743.1 L973.0 743.5 L973.5 743.9 L974.0 744.3 L974.5 744.7 L975.0 745.0 L975.5 745.4 L976.0 745.6 L976.5 745.9 L977.0 746.0 L977.5 746.1 L978.0 746.1 L978.5 746.1 L979.0 746.1 L979.5 746.1 L980.0 746.1 L980.5 746.1 L981.0 746.1 L981.5 746.0 L982.0 746.0 L982.5 745.9 L983.0 745.8 L983.5 745.7 L984.0 745.6 L984.5 745.5 L985.0 745.3 L985.5 745.2 L986.0 745.2 L986.5 745.3 L987.0 745.5 L987.5 745.7 L988.0 746.1 L988.5 746.6 L989.0 747.2 L989.5 747.7 L990.0 748.3 L990.5 748.9 L991.0 749.4 L991.5 749.9 L992.0 750.5 L992.5 751.0 L993.0 751.5 L993.5 752.0 L994.0 752.5 L994.5 752.9 L995.0 753.3 L995.5 753.7 L996.0 754.0 L996.5 754.3 L997.0 754.6 L997.5 754.8 L998.0 755.1 L998.5 755.3 L999.0 755.5 L999.5 755.7 L1000.0 755.7 L1000.5 755.7 L1001.0 755.7 L1001.5 755.5 L1002.0 755.3 L1002.5 755.0 L1003.0 754.8 L1003.5 754.5 L1004.0 754.3 L1004.5 753.9 L1005.0 753.6 L1005.5 753.2 L1006.0 752.8 L1006.5 752.4 L1007.0 751.9 L1007.5 751.4 L1008.0 750.8 L1008.5 750.2 L1009.0 749.5 L1009.5 748.8 L1010.0 748.0 L1010.5 747.1 L1011.0 746.5 L1011.5 746.0 L1012.0 745.8 L1012.5 745.9 L1013.0 746.2 L1013.5 746.8 L1014.0 747.6 L1014.5 748.4 L1015.0 749.1 L1015.5 749.6 L1016.0 750.1 L1016.5 750.5 L1017.0 750.8 L1017.5 751.0 L1018.0 751.3 L1018.5 751.5 L1019.0 751.8 L1019.5 752.0 L1020.0 752.3 L1020.5 752.5 L1021.0 752.8 L1021.5 753.0 L1022.0 753.3 L1022.5 753.5 L1023.0 753.8 L1023.5 754.0 L1024.0 754.3 L1024.5 754.5 L1025.0 754.7 L1025.5 754.9 L1026.0 755.1 L1026.5 755.2 L1027.0 755.4 L1027.5 755.5 L1028.0 755.6 L1028.5 755.7 L1029.0 755.9 L1029.5 756.0 L1030.0 756.2 L1030.5 756.4 L1031.0 756.6 L1031.5 756.8 L1032.0 757.0 L1032.5 757.3 L1033.0 757.5 L1033.5 757.8 L1034.0 758.0 L1034.5 758.2 L1035.0 758.2 L1035.5 758.2 L1036.0 758.2 L1036.5 758.0 L1037.0 757.8 L1037.5 757.6 L1038.0 757.3 L1038.5 757.1 L1039.0 756.9 L1039.5 756.7 L1040.0 756.6 L1040.5 756.6 L1041.0 756.7 L1041.5 756.8 L1042.0 757.0 L1042.5 757.3 L1043.0 757.5 L1043.5 757.8 L1044.0 758.0 L1044.5 758.2 L1045.0 758.5 L1045.5 758.6 L1046.0 758.8 L1046.5 759.0 L1047.0 759.1 L1047.5 759.2 L1048.0 759.4 L1048.5 759.5 L1049.0 759.6 L1049.5 759.6 L1050.0 759.6 L1050.5 759.5 L1051.0 759.4 L1051.5 759.1 L1052.0 758.8 L1052.5 758.5 L1053.0 758.2 L1053.5 758.1 L1054.0 758.0 L1054.5 757.9 L1055.0 758.0 L1055.5 758.1 L1056.0 758.4 L1056.5 758.6 L1057.0 758.9 L1057.5 759.1 L1058.0 759.4 L1058.5 759.5 L1059.0 759.7 L1059.5 759.8 L1060.0 759.9 L1060.5 759.9 L1061.0 759.9 L1061.5 759.9 L1062.0 759.9 L1062.5 759.9 L1063.0 759.9 L1063.5 759.9 L1064.0 759.9 L1064.5 759.9 L1065.0 759.9 L1065.5 759.8 L1066.0 759.7 L1066.5 759.7 L1067.0 759.5 L1067.5 759.4 L1068.0 759.3 L1068.5 759.2 L1069.0 759.1 L1069.5 759.0 L1070.0 759.0 L1070.5 759.1 L1071.0 759.3 L1071.5 759.6 L1072.0 759.9 L1072.5 760.3 L1073.0 760.6 L1073.5 761.0 L1074.0 761.4 L1074.5 761.7 L1075.0 762.1 L1075.5 762.4 L1076.0 762.7 L1076.5 763.1 L1077.0 763.4 L1077.5 763.7 L1078.0 764.0 L1078.5 764.3 L1079.0 764.6 L1079.5 764.9 L1080.0 765.2 L1080.5 765.6 L1081.0 765.9 L1081.5 766.3 L1082.0 766.7 L1082.5 767.1 L1083.0 767.5 L1083.5 767.9 L1084.0 768.3 L1084.5 768.7 L1085.0 769.1 L1085.5 769.5 L1086.0 769.9 L1086.5 770.3 L1087.0 770.7 L1087.5 771.1 L1088.0 771.5 L1088.5 771.9 L1089.0 772.3 L1089.5 772.7 L1090.0 773.1 L1090.5 773.5 L1091.0 773.9 L1091.5 774.3 L1092.0 774.7 L1092.5 775.1 L1093.0 775.5 L1093.5 775.9 L1094.0 776.3 L1094.5 776.7 L1095.0 777.1 L1095.5 777.4 L1096.0 777.8 L1096.5 778.1 L1097.0 778.4 L1097.5 778.7 L1098.0 779.0 L1098.5 779.3 L1099.0 779.6 L1099.5 779.9 L1100.0 780.2 L1100.5 780.5 L1101.0 780.8 L1101.5 781.1 L1102.0 781.4 L1102.5 781.7 L1103.0 782.0 L1103.5 782.3 L1104.0 782.6 L1104.5 782.9 L1105.0 783.2 L1105.5 783.6 L1106.0 783.9 L1106.5 784.3 L1107.0 784.7 L1107.5 785.1 L1108.0 785.5 L1108.5 785.9 L1109.0 786.3 L1109.5 786.6 L1110.0 787.0 L1110.5 787.3 L1111.0 787.6 L1111.5 787.8 L1112.0 788.0 L1112.5 788.2 L1113.0 788.3 L1113.5 788.5 L1114.0 788.6 L1114.5 788.9 L1115.0 789.1 L1115.5 789.5 L1116.0 789.9 L1116.5 790.3 L1117.0 790.9 L1117.5 791.7 L1118.0 792.6 L1118.5 793.6 L1119.0 794.9 L1119.5 796.3 L1120.0 798.2 L1120.5 800.3 L1121.0 802.7 L1121.5 805.2 L1122.0 807.8 L1122.5 810.6 L1123.0 813.5 L1123.5 816.4 L1124.0 819.2 L1124.5 822.2 L1125.0 825.3 L1125.5 828.7 L1126.0 832.3 L1126.5 836.1 L1127.0 840.1 L1127.5 844.1 L1128.0 848.3 L1128.5 852.5 L1129.0 856.7 L1129.5 860.9 L1130.0 865.7 L1130.5 869.9 L1131.0 873.6 L1131.5 876.7 L1132.0 879.2 L1132.5 881.0 L1133.0 882.2 L1133.5 882.2 L1134.0 882.2 L1134.5 882.2 L1135.0 882.2 L1135.0 882.2 L1134.5 882.2 L1134.0 882.2 L1133.5 882.2 L1133.0 882.2 L1132.5 881.0 L1132.0 879.2 L1131.5 877.8 L1131.0 877.8 L1130.5 877.8 L1130.0 877.8 L1129.5 877.8 L1129.0 877.8 L1128.5 877.8 L1128.0 877.8 L1127.5 877.8 L1127.0 877.8 L1126.5 876.3 L1126.0 873.9 L1125.5 870.7 L1125.0 866.7 L1124.5 862.3 L1124.0 857.3 L1123.5 851.9 L1123.0 847.5 L1122.5 843.7 L1122.0 840.6 L1121.5 837.8 L1121.0 835.2 L1120.5 832.9 L1120.0 830.9 L1119.5 828.9 L1119.0 827.1 L1118.5 825.2 L1118.0 823.4 L1117.5 821.7 L1117.0 820.0 L1116.5 818.5 L1116.0 817.0 L1115.5 815.6 L1115.0 814.3 L1114.5 813.2 L1114.0 812.2 L1113.5 811.3 L1113.0 810.5 L1112.5 809.9 L1112.0 809.3 L1111.5 808.8 L1111.0 808.3 L1110.5 807.8 L1110.0 807.4 L1109.5 807.0 L1109.0 806.7 L1108.5 806.4 L1108.0 806.1 L1107.5 805.8 L1107.0 805.6 L1106.5 805.3 L1106.0 805.1 L1105.5 804.8 L1105.0 804.6 L1104.5 804.3 L1104.0 803.9 L1103.5 803.6 L1103.0 803.2 L1102.5 802.8 L1102.0 802.4 L1101.5 802.0 L1101.0 801.6 L1100.5 801.2 L1100.0 800.8 L1099.5 800.4 L1099.0 800.0 L1098.5 799.6 L1098.0 799.2 L1097.5 798.9 L1097.0 798.5 L1096.5 798.1 L1096.0 797.7 L1095.5 797.3 L1095.0 796.9 L1094.5 796.6 L1094.0 796.2 L1093.5 795.8 L1093.0 795.4 L1092.5 795.1 L1092.0 794.7 L1091.5 794.3 L1091.0 793.9 L1090.5 793.4 L1090.0 793.0 L1089.5 792.5 L1089.0 792.0 L1088.5 791.5 L1088.0 791.0 L1087.5 790.5 L1087.0 790.0 L1086.5 789.6 L1086.0 789.1 L1085.5 788.6 L1085.0 788.2 L1084.5 787.8 L1084.0 787.3 L1083.5 786.9 L1083.0 786.5 L1082.5 786.1 L1082.0 785.7 L1081.5 785.3 L1081.0 784.9 L1080.5 784.5 L1080.0 784.0 L1079.5 783.5 L1079.0 783.1 L1078.5 782.6 L1078.0 782.1 L1077.5 781.6 L1077.0 781.1 L1076.5 780.6 L1076.0 780.1 L1075.5 779.6 L1075.0 779.1 L1074.5 778.6 L1074.0 778.1 L1073.5 777.6 L1073.0 777.1 L1072.5 776.6 L1072.0 776.1 L1071.5 775.6 L1071.0 775.1 L1070.5 774.7 L1070.0 774.3 L1069.5 773.9 L1069.0 773.6 L1068.5 773.2 L1068.0 772.9 L1067.5 772.6 L1067.0 772.3 L1066.5 772.1 L1066.0 771.8 L1065.5 771.7 L1065.0 771.6 L1064.5 771.6 L1064.0 771.7 L1063.5 771.8 L1063.0 772.0 L1062.5 772.2 L1062.0 772.4 L1061.5 772.6 L1061.0 772.9 L1060.5 773.3 L1060.0 773.8 L1059.5 774.4 L1059.0 774.9 L1058.5 775.4 L1058.0 775.9 L1057.5 776.2 L1057.0 776.4 L1056.5 776.5 L1056.0 776.4 L1055.5 776.3 L1055.0 776.1 L1054.5 776.0 L1054.0 775.9 L1053.5 775.7 L1053.0 775.6 L1052.5 775.4 L1052.0 775.2 L1051.5 774.9 L1051.0 774.7 L1050.5 774.4 L1050.0 774.2 L1049.5 773.9 L1049.0 773.7 L1048.5 773.5 L1048.0 773.3 L1047.5 773.1 L1047.0 772.9 L1046.5 772.8 L1046.0 772.6 L1045.5 772.5 L1045.0 772.4 L1044.5 772.3 L1044.0 772.1 L1043.5 772.0 L1043.0 771.9 L1042.5 771.8 L1042.0 771.6 L1041.5 771.5 L1041.0 771.4 L1040.5 771.3 L1040.0 771.1 L1039.5 771.0 L1039.0 770.9 L1038.5 770.8 L1038.0 770.6 L1037.5 770.5 L1037.0 770.4 L1036.5 770.3 L1036.0 770.1 L1035.5 770.0 L1035.0 769.9 L1034.5 769.8 L1034.0 769.7 L1033.5 769.6 L1033.0 769.6 L1032.5 769.6 L1032.0 769.6 L1031.5 769.7 L1031.0 769.8 L1030.5 769.9 L1030.0 770.0 L1029.5 770.2 L1029.0 770.3 L1028.5 770.3 L1028.0 770.3 L1027.5 770.2 L1027.0 770.1 L1026.5 769.9 L1026.0 769.7 L1025.5 769.5 L1025.0 769.3 L1024.5 769.2 L1024.0 769.0 L1023.5 768.9 L1023.0 768.8 L1022.5 768.6 L1022.0 768.5 L1021.5 768.4 L1021.0 768.4 L1020.5 768.4 L1020.0 768.4 L1019.5 768.6 L1019.0 768.7 L1018.5 769.0 L1018.0 769.2 L1017.5 769.5 L1017.0 769.7 L1016.5 769.9 L1016.0 769.9 L1015.5 769.7 L1015.0 769.3 L1014.5 768.8 L1014.0 768.0 L1013.5 767.2 L1013.0 766.5 L1012.5 766.1 L1012.0 766.1 L1011.5 766.3 L1011.0 766.7 L1010.5 767.5 L1010.0 768.5 L1009.5 769.5 L1009.0 770.4 L1008.5 771.2 L1008.0 771.8 L1007.5 772.1 L1007.0 772.4 L1006.5 772.4 L1006.0 772.2 L1005.5 772.0 L1005.0 771.7 L1004.5 771.5 L1004.0 771.3 L1003.5 771.1 L1003.0 770.9 L1002.5 770.8 L1002.0 770.7 L1001.5 770.6 L1001.0 770.6 L1000.5 770.6 L1000.0 770.6 L999.5 770.6 L999.0 770.6 L998.5 770.5 L998.0 770.4 L997.5 770.2 L997.0 770.0 L996.5 769.7 L996.0 769.3 L995.5 769.0 L995.0 768.6 L994.5 768.2 L994.0 767.8 L993.5 767.5 L993.0 767.1 L992.5 766.7 L992.0 766.3 L991.5 766.0 L991.0 765.6 L990.5 765.2 L990.0 764.8 L989.5 764.5 L989.0 764.1 L988.5 763.7 L988.0 763.4 L987.5 763.1 L987.0 762.8 L986.5 762.5 L986.0 762.2 L985.5 762.0 L985.0 761.7 L984.5 761.5 L984.0 761.2 L983.5 761.0 L983.0 760.8 L982.5 760.6 L982.0 760.4 L981.5 760.3 L981.0 760.2 L980.5 760.0 L980.0 759.9 L979.5 759.8 L979.0 759.6 L978.5 759.5 L978.0 759.3 L977.5 759.2 L977.0 759.0 L976.5 758.7 L976.0 758.5 L975.5 758.2 L975.0 758.0 L974.5 757.7 L974.0 757.5 L973.5 757.2 L973.0 756.9 L972.5 756.6 L972.0 756.3 L971.5 756.0 L971.0 755.6 L970.5 755.2 L970.0 754.8 L969.5 754.5 L969.0 754.1 L968.5 753.7 L968.0 753.3 L967.5 752.9 L967.0 752.4 L966.5 751.9 L966.0 751.4 L965.5 750.9 L965.0 750.4 L964.5 749.9 L964.0 749.4 L963.5 748.9 L963.0 748.4 L962.5 747.8 L962.0 747.3 L961.5 746.7 L961.0 746.1 L960.5 745.4 L960.0 744.8 L959.5 744.2 L959.0 743.6 L958.5 743.0 L958.0 742.4 L957.5 741.9 L957.0 741.4 L956.5 741.0 L956.0 740.6 L955.5 740.2 L955.0 739.8 L954.5 739.5 L954.0 739.1 L953.5 738.8 L953.0 738.6 L952.5 738.4 L952.0 738.3 L951.5 738.3 L951.0 738.3 L950.5 738.4 L950.0 738.5 L949.5 738.6 L949.0 738.7 L948.5 738.8 L948.0 738.9 L947.5 739.0 L947.0 739.0 L946.5 739.0 L946.0 739.0 L945.5 739.0 L945.0 738.9 L944.5 738.8 L944.0 738.7 L943.5 738.6 L943.0 738.4 L942.5 738.2 L942.0 738.0 L941.5 737.7 L941.0 737.3 L940.5 736.9 L940.0 736.4 L939.5 735.9 L939.0 735.5 L938.5 735.1 L938.0 734.7 L937.5 734.5 L937.0 734.2 L936.5 734.1 L936.0 734.0 L935.5 733.9 L935.0 733.8 L934.5 733.7 L934.0 733.6 L933.5 733.5 L933.0 733.4 L932.5 733.2 L932.0 733.1 L931.5 732.9 L931.0 732.7 L930.5 732.5 L930.0 732.3 L929.5 732.0 L929.0 731.8 L928.5 731.5 L928.0 731.3 L927.5 731.1 L927.0 730.9 L926.5 730.8 L926.0 730.7 L925.5 730.6 L925.0 730.6 L924.5 730.6 L924.0 730.6 L923.5 730.6 L923.0 730.6 L922.5 730.6 L922.0 730.6 L921.5 730.6 L921.0 730.7 L920.5 730.8 L920.0 730.9 L919.5 731.1 L919.0 731.3 L918.5 731.5 L918.0 731.8 L917.5 732.0 L917.0 732.3 L916.5 732.5 L916.0 732.6 L915.5 732.7 L915.0 732.7 L914.5 732.7 L914.0 732.5 L913.5 732.4 L913.0 732.2 L912.5 732.0 L912.0 731.8 L911.5 731.6 L911.0 731.4 L910.5 731.2 L910.0 730.9 L909.5 730.7 L909.0 730.5 L908.5 730.3 L908.0 730.0 L907.5 729.8 L907.0 729.5 L906.5 729.3 L906.0 729.0 L905.5 728.8 L905.0 728.6 L904.5 728.5 L904.0 728.4 L903.5 728.4 L903.0 728.4 L902.5 728.5 L902.0 728.6 L901.5 728.7 L901.0 728.9 L900.5 729.0 L900.0 729.1 L899.5 729.1 L899.0 729.1 L898.5 729.1 L898.0 729.0 L897.5 728.9 L897.0 728.8 L896.5 728.7 L896.0 728.6 L895.5 728.4 L895.0 728.3 L894.5 728.2 L894.0 728.1 L893.5 727.9 L893.0 727.8 L892.5 727.7 L892.0 727.6 L891.5 727.4 L891.0 727.3 L890.5 727.2 L890.0 727.1 L889.5 727.1 L889.0 727.0 L888.5 727.1 L888.0 727.1 L887.5 727.2 L887.0 727.3 L886.5 727.5 L886.0 727.6 L885.5 727.7 L885.0 727.8 L884.5 727.7 L884.0 727.6 L883.5 727.5 L883.0 727.3 L882.5 726.9 L882.0 726.6 L881.5 726.2 L881.0 725.8 L880.5 725.4 L880.0 725.1 L879.5 724.6 L879.0 724.2 L878.5 723.8 L878.0 723.3 L877.5 722.8 L877.0 722.3 L876.5 721.8 L876.0 721.3 L875.5 720.8 L875.0 720.3 L874.5 719.8 L874.0 719.2 L873.5 718.6 L873.0 718.1 L872.5 717.5 L872.0 716.8 L871.5 716.2 L871.0 715.6 L870.5 715.0 L870.0 714.3 L869.5 713.7 L869.0 713.0 L868.5 712.4 L868.0 711.7 L867.5 711.1 L867.0 710.4 L866.5 709.8 L866.0 709.2 L865.5 708.7 L865.0 708.3 L864.5 708.0 L864.0 707.8 L863.5 707.6 L863.0 707.5 L862.5 707.3 L862.0 707.2 L861.5 707.1 L861.0 706.9 L860.5 706.7 L860.0 706.5 L859.5 706.2 L859.0 705.9 L858.5 705.5 L858.0 705.1 L857.5 704.7 L857.0 704.4 L856.5 704.0 L856.0 703.7 L855.5 703.3 L855.0 703.0 L854.5 702.7 L854.0 702.4 L853.5 702.2 L853.0 701.9 L852.5 701.7 L852.0 701.4 L851.5 701.2 L851.0 700.9 L850.5 700.7 L850.0 700.4 L849.5 700.2 L849.0 699.9 L848.5 699.7 L848.0 699.4 L847.5 699.2 L847.0 698.9 L846.5 698.7 L846.0 698.5 L845.5 698.3 L845.0 698.2 L844.5 698.1 L844.0 698.0 L843.5 698.0 L843.0 698.0 L842.5 698.0 L842.0 698.0 L841.5 698.0 L841.0 698.0 L840.5 698.1 L840.0 698.1 L839.5 698.2 L839.0 698.3 L838.5 698.4 L838.0 698.5 L837.5 698.6 L837.0 698.8 L836.5 698.9 L836.0 698.9 L835.5 698.9 L835.0 698.9 L834.5 698.8 L834.0 698.6 L833.5 698.4 L833.0 698.2 L832.5 697.9 L832.0 697.7 L831.5 697.4 L831.0 697.1 L830.5 696.7 L830.0 696.3 L829.5 695.9 L829.0 695.3 L828.5 694.7 L828.0 694.1 L827.5 693.5 L827.0 692.9 L826.5 692.2 L826.0 691.6 L825.5 691.1 L825.0 690.5 L824.5 689.9 L824.0 689.4 L823.5 688.9 L823.0 688.4 L822.5 687.9 L822.0 687.4 L821.5 686.9 L821.0 686.4 L820.5 685.9 L820.0 685.4 L819.5 684.9 L819.0 684.4 L818.5 683.9 L818.0 683.4 L817.5 682.9 L817.0 682.4 L816.5 681.9 L816.0 681.3 L815.5 680.8 L815.0 680.2 L814.5 679.5 L814.0 678.8 L813.5 678.1 L813.0 677.4 L812.5 676.6 L812.0 675.9 L811.5 675.1 L811.0 674.4 L810.5 673.7 L810.0 673.1 L809.5 672.5 L809.0 671.9 L808.5 671.4 L808.0 670.9 L807.5 670.4 L807.0 669.9 L806.5 669.4 L806.0 668.9 L805.5 668.4 L805.0 668.0 L804.5 667.6 L804.0 667.1 L803.5 666.8 L803.0 666.4 L802.5 666.0 L802.0 665.6 L801.5 665.3 L801.0 664.9 L800.5 664.7 L800.0 664.5 Z" fill="#bfbf00" stroke="none"/>
<path d="M800.0 658.6V661.6M805.0 661.1V664.5M808.8 664.9V668.3M812.5 672.4V675.4M816.1 676.7V679.7M818.8 678.7V681.7M825.1 681.2V685.8M828.8 687.4V691.2M833.9 689.9V694.2M838.9 688.7V693.4M842.0 682.4V690.2M845.1 687.4V692.6M847.6 688.7V693.9M852.7 684.9V693.5M855.2 693.7V698.2M860.2 696.2V701.3M863.9 693.7V700.7M867.7 700.0V705.6M871.5 706.2V711.2M876.5 711.3V716.5M881.5 716.3V721.2M886.5 720.0V723.7M890.3 718.8V723.0M894.0 722.6V725.6M899.1 722.6V725.9M904.1 720.0V724.0M909.1 717.5V724.0M915.4 716.3V724.6M920.4 717.5V724.0M926.6 716.3V723.4M931.7 717.5V725.3M937.9 720.0V727.2M941.7 725.1V731.5M946.3 732.5V735.7M951.3 731.2V734.6M956.3 728.1V734.5M961.3 733.7V740.0M966.3 735.0V743.4M970.1 741.2V748.0M976.4 746.2V752.4M981.4 746.2V753.2M987.0 745.0V753.8M991.4 750.0V757.9M995.2 753.8V761.2M1000.2 756.3V763.3M1005.2 753.8V762.7M1009.0 750.0V760.2M1012.1 744.4V754.6M1015.2 750.0V760.0M1020.3 752.5V760.3M1025.3 755.0V762.1M1030.3 756.3V763.1M1035.3 758.8V764.3M1040.3 756.3V763.8M1045.3 758.8V765.6M1050.3 760.0V767.1M1054.1 757.5V766.7M1059.1 760.0V767.3M1065.4 760.0V765.7M1070.4 758.8V766.6M1075.3 762.4V770.8M1080.4 765.5V774.9M1085.5 769.6V779.0M1090.6 773.7V783.6M1095.7 777.7V787.5M1100.8 780.8V791.1M1105.9 783.8V794.4M1111.0 787.9V798.0M1115.0 788.9V801.6M1118.1 792.0V807.9M1120.1 798.1V814.8M1121.2 802.3V819.0M1121.8 807.3V822.7M1123.8 818.2V835.8M1125.9 830.4V854.2M1127.9 848.0V862.8M800.0 664.0V661.0M805.0 667.8V664.5M810.0 672.8V669.8M815.0 680.3V677.3M820.1 685.3V682.3M825.1 690.4V685.8M830.1 696.6V692.3M835.1 699.1V694.4M840.1 697.9V692.0M845.1 697.9V692.6M850.2 700.4V693.6M855.2 702.9V698.2M860.2 706.7V701.3M865.2 707.9V701.9M869.0 712.9V707.5M874.0 719.2V714.0M879.0 724.2V719.0M884.0 728.0V723.1M889.0 726.7V723.0M894.0 728.0V725.0M899.1 729.2V725.9M904.1 728.0V724.0M909.1 730.5V724.0M915.4 733.0V724.6M920.4 730.5V724.0M926.6 730.5V723.4M931.7 733.0V725.3M937.9 734.3V727.2M941.7 738.0V731.5M946.3 739.1V735.7M952.5 737.9V734.2M957.6 741.6V735.6M962.6 747.9V741.0M967.6 752.9V745.0M972.6 756.7V750.0M977.6 759.2V752.7M982.6 760.5V753.2M987.6 763.0V754.4M992.7 766.7V759.0M997.7 770.5V762.7M1002.7 770.5V762.8M1007.7 773.0V762.0M1012.1 764.2V754.6M1015.2 770.5V760.0M1020.3 768.0V760.3M1025.3 769.2V762.1M1027.8 770.5V763.0M1032.8 769.2V763.4M1037.8 770.5V764.0M1042.8 771.7V764.6M1047.8 773.0V766.2M1052.9 775.5V766.9M1057.9 776.8V768.0M1060.0 773.1V766.6M1065.1 771.1V765.6M1070.2 774.2V766.5M1075.3 779.2V770.8M1080.4 784.3V774.9M1085.5 788.4V779.0M1090.6 793.5V783.6M1097.4 798.7V788.7M1104.2 804.1V793.5M1109.6 806.8V796.9M1113.7 810.9V799.8M1116.4 817.6V804.0M1119.1 827.1V811.1M1121.8 838.0V822.7M1123.8 852.9V835.8M1125.2 869.8V848.9" stroke="#bfbf00" stroke-width="4.7"/>
</g><g clip-path="url(#ax)" fill="none" stroke-linejoin="miter" stroke-linecap="butt">
<path d="M115.03 420.98 L334.45 579.42 L364.89 487.17 L442.64 483.13 L469.00 423.26 L505.63 413.19 L527.88 431.16 L709.36 633.23 L816.08 624.45 L859.72 568.51 L1150.00 572.70" stroke="#000" stroke-width="6.94" stroke-dasharray="6.94 11.45" stroke-dashoffset="-0.6" stroke-linejoin="miter"/>
<path d="M145.84 763.86 L188.54 796.19 L240.00 818.01 L281.18 821.22 L323.88 796.74 L363.39 726.07 L393.95 762.44 L415.18 757.25 L474.68 698.60 L495.91 662.67 L513.48 670.14 L581.40 741.85 L658.31 860.05 L709.36 912.99" stroke="#000" stroke-width="6.94" stroke-dasharray="25.68 11.1" stroke-dashoffset="3.5" stroke-linejoin="miter"/>
</g>
<path d="M228 133V873M275 133V873M309 133V873M335 133V873M356 133V873M374 133V873M390 133V873M403 133V873M416 133V873M496 133V873M543 133V873M577 133V873M603 133V873M624 133V873M642 133V873M658 133V873M671 133V873M684 133V873M764 133V873M812 133V873M845 133V873M871 133V873M892 133V873M910 133V873M926 133V873M940 133V873M952 133V873M1033 133V873M1080 133V873M1113 133V873M147 190H1139M147 247H1139M147 304H1139M147 361H1139M147 418H1139M147 475H1139M147 531H1139M147 588H1139M147 645H1139M147 702H1139M147 759H1139M147 816H1139" stroke="#b0b0b0" stroke-width="2.2" fill="none"/>
<rect x="147" y="133" width="992" height="740" fill="none" stroke="#000" stroke-width="2.2"/>
<path d="M147 873v9.7M416 873v9.7M684 873v9.7M952 873v9.7M1139 873v9.7M228 873v5.6M275 873v5.6M309 873v5.6M335 873v5.6M356 873v5.6M374 873v5.6M390 873v5.6M403 873v5.6M496 873v5.6M543 873v5.6M577 873v5.6M603 873v5.6M624 873v5.6M642 873v5.6M658 873v5.6M671 873v5.6M764 873v5.6M812 873v5.6M845 873v5.6M871 873v5.6M892 873v5.6M910 873v5.6M926 873v5.6M940 873v5.6M1033 873v5.6M1080 873v5.6M1113 873v5.6M147 133h-9.7M147 190h-9.7M147 247h-9.7M147 304h-9.7M147 361h-9.7M147 418h-9.7M147 475h-9.7M147 531h-9.7M147 588h-9.7M147 645h-9.7M147 702h-9.7M147 759h-9.7M147 816h-9.7M147 873h-9.7" stroke="#000" stroke-width="2.2" fill="none"/>
<g font-family="'Liberation Sans', sans-serif" fill="#000" opacity="0.999">
<text x="396.30" y="79.00" font-size="34.7" textLength="208.46" lengthAdjust="spacingAndGlyphs" fill="#000">IV.CFB1.HHZ</text>
<text x="616.91" y="79.00" font-size="34.7" textLength="68.17" lengthAdjust="spacingAndGlyphs" fill="#000">OBS</text>
<text x="697.20" y="79.00" font-size="34.7" textLength="192.74" lengthAdjust="spacingAndGlyphs" fill="#000">2026-03-04</text>
<text x="342.30" y="116.50" font-size="34.7" textLength="83.29" lengthAdjust="spacingAndGlyphs" fill="#000">Daily</text>
<text x="437.57" y="116.50" font-size="34.7" textLength="65.47" lengthAdjust="spacingAndGlyphs" fill="#000">PSD</text>
<text x="514.72" y="116.50" font-size="34.7" textLength="11.74" lengthAdjust="spacingAndGlyphs" fill="#000">-</text>
<text x="538.25" y="116.50" font-size="34.7" textLength="119.48" lengthAdjust="spacingAndGlyphs" fill="#000">Median</text>
<text x="669.80" y="116.50" font-size="34.7" textLength="101.49" lengthAdjust="spacingAndGlyphs" fill="#000">Power</text>
<text x="781.29" y="116.50" font-size="34.7" textLength="106.16" lengthAdjust="spacingAndGlyphs" fill="#000">-115.2</text>
<text x="899.44" y="116.50" font-size="34.7" textLength="43.64" lengthAdjust="spacingAndGlyphs" fill="#000">dB</text>
<text x="541.00" y="955.20" font-size="29.4" textLength="137.67" lengthAdjust="spacingAndGlyphs" fill="#000">frequency</text>
<text x="688.63" y="955.20" font-size="29.4" textLength="56.50" lengthAdjust="spacingAndGlyphs" fill="#000">[Hz]</text>
<text x="83.10" y="144.70" font-size="29.4" textLength="42.89" lengthAdjust="spacingAndGlyphs" fill="#000">-50</text>
<text x="83.10" y="201.70" font-size="29.4" textLength="42.89" lengthAdjust="spacingAndGlyphs" fill="#000">-60</text>
<text x="83.10" y="258.70" font-size="29.4" textLength="42.89" lengthAdjust="spacingAndGlyphs" fill="#000">-70</text>
<text x="83.10" y="315.70" font-size="29.4" textLength="42.89" lengthAdjust="spacingAndGlyphs" fill="#000">-80</text>
<text x="83.10" y="372.70" font-size="29.4" textLength="42.89" lengthAdjust="spacingAndGlyphs" fill="#000">-90</text>
<text x="65.10" y="429.70" font-size="29.4" textLength="60.86" lengthAdjust="spacingAndGlyphs" fill="#000">-100</text>
<text x="65.10" y="486.70" font-size="29.4" textLength="60.86" lengthAdjust="spacingAndGlyphs" fill="#000">-110</text>
<text x="65.10" y="542.70" font-size="29.4" textLength="60.86" lengthAdjust="spacingAndGlyphs" fill="#000">-120</text>
<text x="65.10" y="599.70" font-size="29.4" textLength="60.86" lengthAdjust="spacingAndGlyphs" fill="#000">-130</text>
<text x="65.10" y="656.70" font-size="29.4" textLength="60.86" lengthAdjust="spacingAndGlyphs" fill="#000">-140</text>
<text x="65.10" y="713.70" font-size="29.4" textLength="60.86" lengthAdjust="spacingAndGlyphs" fill="#000">-150</text>
<text x="65.10" y="770.70" font-size="29.4" textLength="60.86" lengthAdjust="spacingAndGlyphs" fill="#000">-160</text>
<text x="65.10" y="827.70" font-size="29.4" textLength="60.86" lengthAdjust="spacingAndGlyphs" fill="#000">-170</text>
<text x="65.10" y="884.70" font-size="29.4" textLength="60.86" lengthAdjust="spacingAndGlyphs" fill="#000">-180</text>
<text x="118.20" y="916.00" font-size="29.4" textLength="31.99" lengthAdjust="spacingAndGlyphs" fill="#000">10</text>
<text x="152.10" y="905.00" font-size="20.6" textLength="14.14" lengthAdjust="spacingAndGlyphs" fill="#000">−</text>
<text x="167.10" y="905.00" font-size="20.6" textLength="12.22" lengthAdjust="spacingAndGlyphs" fill="#000">2</text>
<text x="386.20" y="916.00" font-size="29.4" textLength="31.99" lengthAdjust="spacingAndGlyphs" fill="#000">10</text>
<text x="420.10" y="905.00" font-size="20.6" textLength="14.14" lengthAdjust="spacingAndGlyphs" fill="#000">−</text>
<text x="436.15" y="905.00" font-size="20.6" textLength="10.36" lengthAdjust="spacingAndGlyphs" fill="#000">1</text>
<text x="662.20" y="916.00" font-size="29.4" textLength="31.99" lengthAdjust="spacingAndGlyphs" fill="#000">10</text>
<text x="695.10" y="905.00" font-size="20.6" textLength="11.22" lengthAdjust="spacingAndGlyphs" fill="#000">0</text>
<text x="930.20" y="916.00" font-size="29.4" textLength="31.99" lengthAdjust="spacingAndGlyphs" fill="#000">10</text>
<text x="964.15" y="905.00" font-size="20.6" textLength="10.36" lengthAdjust="spacingAndGlyphs" fill="#000">1</text>
<text x="1096.10" y="916.00" font-size="29.4" textLength="15.11" lengthAdjust="spacingAndGlyphs" fill="#000">5</text>
<text x="1139.20" y="916.00" font-size="29.4" textLength="31.99" lengthAdjust="spacingAndGlyphs" fill="#000">10</text>
<text x="1173.15" y="905.00" font-size="20.6" textLength="10.36" lengthAdjust="spacingAndGlyphs" fill="#000">1</text>
<text transform="translate(45.30 651.80) rotate(-90)" font-size="29.4" textLength="54.32" lengthAdjust="spacingAndGlyphs" fill="#000">PSD</text>
<text transform="translate(45.30 587.68) rotate(-90)" font-size="29.4" textLength="46.07" lengthAdjust="spacingAndGlyphs" fill="#000">[dB</text>
<text transform="translate(45.30 531.74) rotate(-90)" font-size="29.4" textLength="27.48" lengthAdjust="spacingAndGlyphs" fill="#000">re</text>
<text transform="translate(45.30 494.47) rotate(-90)" font-size="29.4" textLength="8.26" lengthAdjust="spacingAndGlyphs" fill="#000">(</text>
<text transform="translate(45.30 484.90) rotate(-90)" font-size="29.4" textLength="51.87" lengthAdjust="spacingAndGlyphs" font-style="italic" fill="#000">m/s</text>
<text transform="translate(45.30 432.00) rotate(-90)" font-size="29.4" textLength="7.07" lengthAdjust="spacingAndGlyphs" fill="#000">)</text>
<text transform="translate(34.00 422.90) rotate(-90)" font-size="20.6" textLength="11.28" lengthAdjust="spacingAndGlyphs" fill="#000">2</text>
<text transform="translate(45.30 408.10) rotate(-90)" font-size="29.4" textLength="44.00" lengthAdjust="spacingAndGlyphs" font-style="italic" fill="#000">/Hz</text>
<text transform="translate(45.30 362.00) rotate(-90)" font-size="29.4" textLength="8.33" lengthAdjust="spacingAndGlyphs" fill="#000">]</text>
</g>
<path d="M1125.0 895.1L1125.0 908.1M1119.4 898.4L1130.6 904.9M1130.6 898.4L1119.4 904.9" stroke="#000" stroke-width="1.8" fill="none"/>
<rect x="1032.4" y="19.5" width="227.1" height="179.8" rx="4.6" ry="4.6" fill="#fff" fill-opacity="0.8" stroke="#ccc" stroke-opacity="0.8" stroke-width="2.8"/>
<path d="M1039.1 37.9H1088.9" stroke="#ff0000" stroke-width="4.17" fill="none"/>
<path d="M1039.1 72.8H1088.9" stroke="#008000" stroke-width="4.17" fill="none"/>
<path d="M1039.1 107.7H1088.9" stroke="#bfbf00" stroke-width="4.17" fill="none"/>
<path d="M1041.2 142.6H1087.5" stroke="#000" stroke-width="6.94" stroke-dasharray="6.94 11.45" fill="none"/>
<path d="M1041.2 177.5H1087.5" stroke="#000" stroke-width="6.94" stroke-dasharray="25.68 11.1" fill="none"/>
<g font-family="'Liberation Sans', sans-serif" fill="#000" opacity="0.999">
<text x="1106.41" y="46.50" font-size="23.8" textLength="81.20" lengthAdjust="spacingAndGlyphs" fill="#000">Median</text>
<text x="1106.14" y="81.40" font-size="23.8" textLength="141.25" lengthAdjust="spacingAndGlyphs" fill="#000">Percentile90</text>
<text x="1106.14" y="116.30" font-size="23.8" textLength="141.25" lengthAdjust="spacingAndGlyphs" fill="#000">Percentile10</text>
<text x="1106.14" y="151.20" font-size="23.8" textLength="69.59" lengthAdjust="spacingAndGlyphs" fill="#000">NHNM</text>
<text x="1106.14" y="186.10" font-size="23.8" textLength="64.01" lengthAdjust="spacingAndGlyphs" fill="#000">NLNM</text>
</g>
</svg>
</body></html>
